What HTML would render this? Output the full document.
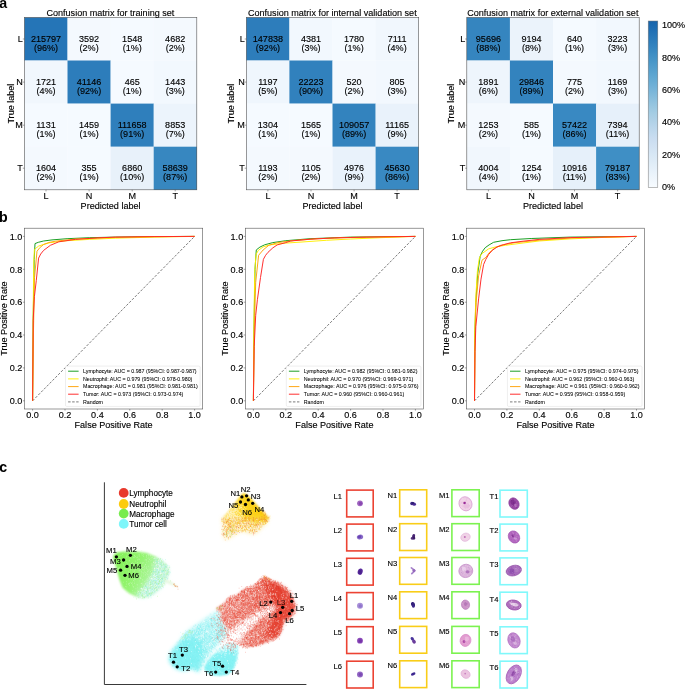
<!DOCTYPE html>
<html lang="en"><head><meta charset="utf-8"><title>Figure</title>
<style>
html,body{margin:0;padding:0;background:#fff;}
body{width:685px;height:689px;overflow:hidden;}
svg{display:block;font-family:'Liberation Sans', Arial, sans-serif;}
text{stroke:#000;stroke-width:.13px;}
.lg text{stroke-width:.05px;}
.nb text{stroke:none;}
</style></head><body>
<svg width="685" height="689" viewBox="0 0 685 689">
<rect width="685" height="689" fill="#fff"/>
<g id="panel-a" font-size="9.07" fill="#000">
<g>
<rect x="24.40" y="17.40" width="43.25" height="43.25" fill="#2575b7"/>
<rect x="67.50" y="17.40" width="43.25" height="43.25" fill="#f4f9fe"/>
<rect x="110.60" y="17.40" width="43.25" height="43.25" fill="#f5faff"/>
<rect x="153.70" y="17.40" width="43.25" height="43.25" fill="#f4f9fe"/>
<rect x="24.40" y="60.50" width="43.25" height="43.25" fill="#f1f7fd"/>
<rect x="67.50" y="60.50" width="43.25" height="43.25" fill="#2d7dbb"/>
<rect x="110.60" y="60.50" width="43.25" height="43.25" fill="#f5faff"/>
<rect x="153.70" y="60.50" width="43.25" height="43.25" fill="#f2f8fe"/>
<rect x="24.40" y="103.60" width="43.25" height="43.25" fill="#f5faff"/>
<rect x="67.50" y="103.60" width="43.25" height="43.25" fill="#f5faff"/>
<rect x="110.60" y="103.60" width="43.25" height="43.25" fill="#2f7fbc"/>
<rect x="153.70" y="103.60" width="43.25" height="43.25" fill="#ecf4fc"/>
<rect x="24.40" y="146.70" width="43.25" height="43.25" fill="#f4f9fe"/>
<rect x="67.50" y="146.70" width="43.25" height="43.25" fill="#f5faff"/>
<rect x="110.60" y="146.70" width="43.25" height="43.25" fill="#e8f1fa"/>
<rect x="153.70" y="146.70" width="43.25" height="43.25" fill="#3787c0"/>
<rect x="24.40" y="17.40" width="172.40" height="172.40" fill="none" stroke="#555" stroke-width="0.6"/>
<g text-anchor="middle">
<text x="46.0" y="42.0">215797</text><text x="46.0" y="50.6">(96%)</text>
<text x="89.1" y="42.0">3592</text><text x="89.1" y="50.6">(2%)</text>
<text x="132.2" y="42.0">1548</text><text x="132.2" y="50.6">(1%)</text>
<text x="175.2" y="42.0">4682</text><text x="175.2" y="50.6">(2%)</text>
<text x="46.0" y="85.1">1721</text><text x="46.0" y="93.7">(4%)</text>
<text x="89.1" y="85.1">41146</text><text x="89.1" y="93.7">(92%)</text>
<text x="132.2" y="85.1">465</text><text x="132.2" y="93.7">(1%)</text>
<text x="175.2" y="85.1">1443</text><text x="175.2" y="93.7">(3%)</text>
<text x="46.0" y="128.2">1131</text><text x="46.0" y="136.8">(1%)</text>
<text x="89.1" y="128.2">1459</text><text x="89.1" y="136.8">(1%)</text>
<text x="132.2" y="128.2">111658</text><text x="132.2" y="136.8">(91%)</text>
<text x="175.2" y="128.2">8853</text><text x="175.2" y="136.8">(7%)</text>
<text x="46.0" y="171.2">1604</text><text x="46.0" y="179.8">(2%)</text>
<text x="89.1" y="171.2">355</text><text x="89.1" y="179.8">(1%)</text>
<text x="132.2" y="171.2">6860</text><text x="132.2" y="179.8">(10%)</text>
<text x="175.2" y="171.2">58639</text><text x="175.2" y="179.8">(87%)</text>
<text x="46.0" y="199.3">L</text>
<text x="89.1" y="199.3">N</text>
<text x="132.2" y="199.3">M</text>
<text x="175.2" y="199.3">T</text>
<text x="110.6" y="208.8">Predicted label</text>
<text x="110.4" y="15.8">Confusion matrix for training set</text>
<text transform="translate(13.5 103.6) rotate(-90)">True label</text>
</g>
<g text-anchor="end">
<text x="22.8" y="42.2">L</text>
<text x="22.8" y="85.3">N</text>
<text x="22.8" y="128.3">M</text>
<text x="22.8" y="171.4">T</text>
</g>
<path d="M24.4 39.0h-1.6M46.0 189.8v1.6M24.4 82.1h-1.6M89.1 189.8v1.6M24.4 125.2h-1.6M132.2 189.8v1.6M24.4 168.2h-1.6M175.2 189.8v1.6" stroke="#444" stroke-width="0.5" fill="none"/>
</g>
<g>
<rect x="246.30" y="17.40" width="43.25" height="43.25" fill="#2d7dbb"/>
<rect x="289.40" y="17.40" width="43.25" height="43.25" fill="#f2f8fe"/>
<rect x="332.50" y="17.40" width="43.25" height="43.25" fill="#f5faff"/>
<rect x="375.60" y="17.40" width="43.25" height="43.25" fill="#f1f7fd"/>
<rect x="246.30" y="60.50" width="43.25" height="43.25" fill="#eff6fd"/>
<rect x="289.40" y="60.50" width="43.25" height="43.25" fill="#3181bd"/>
<rect x="332.50" y="60.50" width="43.25" height="43.25" fill="#f4f9fe"/>
<rect x="375.60" y="60.50" width="43.25" height="43.25" fill="#f2f8fe"/>
<rect x="246.30" y="103.60" width="43.25" height="43.25" fill="#f5faff"/>
<rect x="289.40" y="103.60" width="43.25" height="43.25" fill="#f5faff"/>
<rect x="332.50" y="103.60" width="43.25" height="43.25" fill="#3383be"/>
<rect x="375.60" y="103.60" width="43.25" height="43.25" fill="#e9f2fb"/>
<rect x="246.30" y="146.70" width="43.25" height="43.25" fill="#f4f9fe"/>
<rect x="289.40" y="146.70" width="43.25" height="43.25" fill="#f4f9fe"/>
<rect x="332.50" y="146.70" width="43.25" height="43.25" fill="#e9f2fb"/>
<rect x="375.60" y="146.70" width="43.25" height="43.25" fill="#3989c2"/>
<rect x="246.30" y="17.40" width="172.40" height="172.40" fill="none" stroke="#555" stroke-width="0.6"/>
<g text-anchor="middle">
<text x="267.9" y="42.0">147838</text><text x="267.9" y="50.6">(92%)</text>
<text x="311.0" y="42.0">4381</text><text x="311.0" y="50.6">(3%)</text>
<text x="354.1" y="42.0">1780</text><text x="354.1" y="50.6">(1%)</text>
<text x="397.1" y="42.0">7111</text><text x="397.1" y="50.6">(4%)</text>
<text x="267.9" y="85.1">1197</text><text x="267.9" y="93.7">(5%)</text>
<text x="311.0" y="85.1">22223</text><text x="311.0" y="93.7">(90%)</text>
<text x="354.1" y="85.1">520</text><text x="354.1" y="93.7">(2%)</text>
<text x="397.1" y="85.1">805</text><text x="397.1" y="93.7">(3%)</text>
<text x="267.9" y="128.2">1304</text><text x="267.9" y="136.8">(1%)</text>
<text x="311.0" y="128.2">1565</text><text x="311.0" y="136.8">(1%)</text>
<text x="354.1" y="128.2">109057</text><text x="354.1" y="136.8">(89%)</text>
<text x="397.1" y="128.2">11165</text><text x="397.1" y="136.8">(9%)</text>
<text x="267.9" y="171.2">1193</text><text x="267.9" y="179.8">(2%)</text>
<text x="311.0" y="171.2">1105</text><text x="311.0" y="179.8">(2%)</text>
<text x="354.1" y="171.2">4976</text><text x="354.1" y="179.8">(9%)</text>
<text x="397.1" y="171.2">45630</text><text x="397.1" y="179.8">(86%)</text>
<text x="267.9" y="199.3">L</text>
<text x="311.0" y="199.3">N</text>
<text x="354.1" y="199.3">M</text>
<text x="397.1" y="199.3">T</text>
<text x="332.5" y="208.8">Predicted label</text>
<text x="332.3" y="15.8">Confusion matrix for internal validation set</text>
<text transform="translate(234.1 103.6) rotate(-90)">True label</text>
</g>
<g text-anchor="end">
<text x="244.7" y="42.2">L</text>
<text x="244.7" y="85.3">N</text>
<text x="244.7" y="128.3">M</text>
<text x="244.7" y="171.4">T</text>
</g>
<path d="M246.3 39.0h-1.6M267.9 189.8v1.6M246.3 82.1h-1.6M311.0 189.8v1.6M246.3 125.2h-1.6M354.1 189.8v1.6M246.3 168.2h-1.6M397.1 189.8v1.6" stroke="#444" stroke-width="0.5" fill="none"/>
</g>
<g>
<rect x="466.80" y="17.40" width="43.25" height="43.25" fill="#3585bf"/>
<rect x="509.90" y="17.40" width="43.25" height="43.25" fill="#ebf3fb"/>
<rect x="553.00" y="17.40" width="43.25" height="43.25" fill="#f5faff"/>
<rect x="596.10" y="17.40" width="43.25" height="43.25" fill="#f2f8fe"/>
<rect x="466.80" y="60.50" width="43.25" height="43.25" fill="#eef5fc"/>
<rect x="509.90" y="60.50" width="43.25" height="43.25" fill="#3383be"/>
<rect x="553.00" y="60.50" width="43.25" height="43.25" fill="#f4f9fe"/>
<rect x="596.10" y="60.50" width="43.25" height="43.25" fill="#f2f8fe"/>
<rect x="466.80" y="103.60" width="43.25" height="43.25" fill="#f4f9fe"/>
<rect x="509.90" y="103.60" width="43.25" height="43.25" fill="#f5faff"/>
<rect x="553.00" y="103.60" width="43.25" height="43.25" fill="#3989c2"/>
<rect x="596.10" y="103.60" width="43.25" height="43.25" fill="#e6f0fa"/>
<rect x="466.80" y="146.70" width="43.25" height="43.25" fill="#f1f7fd"/>
<rect x="509.90" y="146.70" width="43.25" height="43.25" fill="#f5faff"/>
<rect x="553.00" y="146.70" width="43.25" height="43.25" fill="#e6f0fa"/>
<rect x="596.10" y="146.70" width="43.25" height="43.25" fill="#3f8fc5"/>
<rect x="466.80" y="17.40" width="172.40" height="172.40" fill="none" stroke="#555" stroke-width="0.6"/>
<g text-anchor="middle">
<text x="488.4" y="42.0">95696</text><text x="488.4" y="50.6">(88%)</text>
<text x="531.5" y="42.0">9194</text><text x="531.5" y="50.6">(8%)</text>
<text x="574.5" y="42.0">640</text><text x="574.5" y="50.6">(1%)</text>
<text x="617.6" y="42.0">3223</text><text x="617.6" y="50.6">(3%)</text>
<text x="488.4" y="85.1">1891</text><text x="488.4" y="93.7">(6%)</text>
<text x="531.5" y="85.1">29846</text><text x="531.5" y="93.7">(89%)</text>
<text x="574.5" y="85.1">775</text><text x="574.5" y="93.7">(2%)</text>
<text x="617.6" y="85.1">1169</text><text x="617.6" y="93.7">(3%)</text>
<text x="488.4" y="128.2">1253</text><text x="488.4" y="136.8">(2%)</text>
<text x="531.5" y="128.2">585</text><text x="531.5" y="136.8">(1%)</text>
<text x="574.5" y="128.2">57422</text><text x="574.5" y="136.8">(86%)</text>
<text x="617.6" y="128.2">7394</text><text x="617.6" y="136.8">(11%)</text>
<text x="488.4" y="171.2">4004</text><text x="488.4" y="179.8">(4%)</text>
<text x="531.5" y="171.2">1254</text><text x="531.5" y="179.8">(1%)</text>
<text x="574.5" y="171.2">10916</text><text x="574.5" y="179.8">(11%)</text>
<text x="617.6" y="171.2">79187</text><text x="617.6" y="179.8">(83%)</text>
<text x="488.4" y="199.3">L</text>
<text x="531.5" y="199.3">N</text>
<text x="574.5" y="199.3">M</text>
<text x="617.6" y="199.3">T</text>
<text x="553.0" y="208.8">Predicted label</text>
<text x="552.8" y="15.8">Confusion matrix for external validation set</text>
<text transform="translate(454.0 103.6) rotate(-90)">True label</text>
</g>
<g text-anchor="end">
<text x="465.2" y="42.2">L</text>
<text x="465.2" y="85.3">N</text>
<text x="465.2" y="128.3">M</text>
<text x="465.2" y="171.4">T</text>
</g>
<path d="M466.8 39.0h-1.6M488.4 189.8v1.6M466.8 82.1h-1.6M531.5 189.8v1.6M466.8 125.2h-1.6M574.5 189.8v1.6M466.8 168.2h-1.6M617.6 189.8v1.6" stroke="#444" stroke-width="0.5" fill="none"/>
</g>
<defs><linearGradient id="cb" x1="0" y1="1" x2="0" y2="0">
<stop offset="0.00" stop-color="#f7fbff"/>
<stop offset="0.05" stop-color="#eff6fc"/>
<stop offset="0.10" stop-color="#e7f1fa"/>
<stop offset="0.15" stop-color="#dfecf7"/>
<stop offset="0.20" stop-color="#d7e7f5"/>
<stop offset="0.25" stop-color="#d0e1f2"/>
<stop offset="0.30" stop-color="#c8dcf0"/>
<stop offset="0.35" stop-color="#bcd7ec"/>
<stop offset="0.40" stop-color="#b0d1e7"/>
<stop offset="0.45" stop-color="#a3cce3"/>
<stop offset="0.50" stop-color="#94c4df"/>
<stop offset="0.55" stop-color="#83bbdb"/>
<stop offset="0.60" stop-color="#73b2d8"/>
<stop offset="0.65" stop-color="#64aad3"/>
<stop offset="0.70" stop-color="#57a1ce"/>
<stop offset="0.75" stop-color="#4a98c9"/>
<stop offset="0.80" stop-color="#3e8ec4"/>
<stop offset="0.85" stop-color="#3383bf"/>
<stop offset="0.90" stop-color="#2979b9"/>
<stop offset="0.95" stop-color="#1f6eb3"/>
<stop offset="1.00" stop-color="#1764ab"/>
</linearGradient></defs>
<rect x="648.2" y="21" width="9.6" height="166.3" fill="url(#cb)" stroke="#777" stroke-width="0.5"/>
<text x="662" y="190.1">0%</text>
<text x="662" y="157.7">20%</text>
<text x="662" y="125.3">40%</text>
<text x="662" y="92.9">60%</text>
<text x="662" y="60.5">80%</text>
<text x="662" y="28.1">100%</text>
</g>
<g id="panel-b" font-size="9.07" fill="#000">
<g>
<rect x="24.5" y="228.2" width="178.2" height="180.8" fill="#fff" stroke="#555" stroke-width="0.6"/>
<path d="M32.6 400.8L194.6 236.4" stroke="#747474" stroke-width="0.95" stroke-dasharray="2.5 1.55" fill="none"/>
<path d="M32.6 400.8L33.2 318.6L34.2 259.4L35.0 243.6L38.3 242.3L43.6 241.0L52.0 239.9L67.1 238.7L89.3 237.7L115.2 237.1L154.1 236.6L194.6 236.4" stroke="#0f9a18" stroke-width="0.95" fill="none" stroke-linejoin="round"/>
<path d="M32.6 400.8L33.1 318.6L33.7 266.0L34.4 249.4L38.6 246.1L43.9 244.3L50.4 242.6L67.1 240.7L89.3 239.4L115.2 238.2L154.1 237.1L194.6 236.4" stroke="#ffee00" stroke-width="0.95" fill="none" stroke-linejoin="round"/>
<path d="M32.6 400.8L33.4 335.0L34.5 277.5L37.0 251.2L39.9 247.6L43.6 244.5L48.8 242.5L55.4 241.2L75.5 239.0L115.2 237.4L154.1 236.7L194.6 236.4" stroke="#ffa208" stroke-width="0.95" fill="none" stroke-linejoin="round"/>
<path d="M32.6 400.8L33.2 320.2L34.4 296.6L36.3 280.3L38.6 258.1L40.7 254.0L43.6 250.4L50.4 245.3L58.8 241.8L75.5 239.4L97.4 237.9L115.2 237.1L154.1 236.6L194.6 236.4" stroke="#ff2424" stroke-width="0.95" fill="none" stroke-linejoin="round"/>
<path d="M32.6 409.0v1.6M24.5 400.8h-1.6M65.0 409.0v1.6M24.5 367.9h-1.6M97.4 409.0v1.6M24.5 335.0h-1.6M129.8 409.0v1.6M24.5 302.2h-1.6M162.2 409.0v1.6M24.5 269.3h-1.6M194.6 409.0v1.6M24.5 236.4h-1.6" stroke="#444" stroke-width="0.5" fill="none"/>
<g text-anchor="middle">
<text x="32.6" y="418.3">0.0</text>
<text x="65.0" y="418.3">0.2</text>
<text x="97.4" y="418.3">0.4</text>
<text x="129.8" y="418.3">0.6</text>
<text x="162.2" y="418.3">0.8</text>
<text x="194.6" y="418.3">1.0</text>
<text x="113.6" y="428.2">False Positive Rate</text>
<text transform="translate(6.9 318.6) rotate(-90)">True Positive Rate</text>
</g>
<g text-anchor="end">
<text x="22.4" y="404.1">0.0</text>
<text x="22.4" y="371.2">0.2</text>
<text x="22.4" y="338.3">0.4</text>
<text x="22.4" y="305.4">0.6</text>
<text x="22.4" y="272.5">0.8</text>
<text x="22.4" y="239.7">1.0</text>
</g>
<rect x="65.5" y="366.1" width="134.6" height="40.3" rx="1.2" fill="#fff" fill-opacity="0.8" stroke="#ddd" stroke-width="0.5"/>
<g class="lg" font-size="5.31" fill="#000">
<path d="M68.1 371.2h10.5" stroke="#0f9a18" stroke-width="0.95"/>
<text x="83.0" y="373.0">Lymphocyte: AUC = 0.987 (95%CI: 0.987-0.987)</text>
<path d="M68.1 378.9h10.5" stroke="#ffee00" stroke-width="0.95"/>
<text x="83.0" y="380.7">Neutrophil: AUC = 0.979 (95%CI: 0.978-0.980)</text>
<path d="M68.1 386.6h10.5" stroke="#ffa208" stroke-width="0.95"/>
<text x="83.0" y="388.4">Macrophage: AUC = 0.981 (95%CI: 0.981-0.981)</text>
<path d="M68.1 394.2h10.5" stroke="#ff2424" stroke-width="0.95"/>
<text x="83.0" y="396.0">Tumor: AUC = 0.973 (95%CI: 0.973-0.974)</text>
<path d="M68.1 401.9h10.5" stroke="#747474" stroke-width="0.95" stroke-dasharray="2.5 1.55"/>
<text x="83.0" y="403.7">Random</text>
</g>
</g>
<g>
<rect x="245.3" y="228.2" width="178.2" height="180.8" fill="#fff" stroke="#555" stroke-width="0.6"/>
<path d="M253.4 400.8L415.4 236.4" stroke="#747474" stroke-width="0.95" stroke-dasharray="2.5 1.55" fill="none"/>
<path d="M253.4 400.8L254.0 326.8L255.0 269.3L256.3 249.9L259.9 247.1L264.7 244.8L272.8 242.6L285.8 240.7L310.1 238.7L350.6 237.1L415.4 236.4" stroke="#0f9a18" stroke-width="0.95" fill="none" stroke-linejoin="round"/>
<path d="M253.4 400.8L253.9 326.8L254.7 272.6L256.0 254.5L258.3 250.4L263.1 246.9L269.6 244.9L285.8 243.1L302.0 242.0L326.3 240.3L350.6 239.0L383.0 237.6L415.4 236.4" stroke="#ffee00" stroke-width="0.95" fill="none" stroke-linejoin="round"/>
<path d="M253.4 400.8L254.2 335.0L255.7 282.4L258.6 255.3L263.1 250.0L268.8 245.3L277.7 242.6L293.9 240.5L318.2 238.7L350.6 237.4L415.4 236.4" stroke="#ffa208" stroke-width="0.95" fill="none" stroke-linejoin="round"/>
<path d="M253.4 400.8L254.2 346.5L255.7 315.3L257.4 299.7L260.5 277.5L263.4 259.3L265.6 255.3L268.0 252.3L272.8 247.9L277.2 244.9L285.8 242.6L290.7 241.0L310.1 239.2L334.4 237.9L366.8 237.1L415.4 236.4" stroke="#ff2424" stroke-width="0.95" fill="none" stroke-linejoin="round"/>
<path d="M253.4 409.0v1.6M245.3 400.8h-1.6M285.8 409.0v1.6M245.3 367.9h-1.6M318.2 409.0v1.6M245.3 335.0h-1.6M350.6 409.0v1.6M245.3 302.2h-1.6M383.0 409.0v1.6M245.3 269.3h-1.6M415.4 409.0v1.6M245.3 236.4h-1.6" stroke="#444" stroke-width="0.5" fill="none"/>
<g text-anchor="middle">
<text x="253.4" y="418.3">0.0</text>
<text x="285.8" y="418.3">0.2</text>
<text x="318.2" y="418.3">0.4</text>
<text x="350.6" y="418.3">0.6</text>
<text x="383.0" y="418.3">0.8</text>
<text x="415.4" y="418.3">1.0</text>
<text x="334.4" y="428.2">False Positive Rate</text>
<text transform="translate(227.7 318.6) rotate(-90)">True Positive Rate</text>
</g>
<g text-anchor="end">
<text x="243.2" y="404.1">0.0</text>
<text x="243.2" y="371.2">0.2</text>
<text x="243.2" y="338.3">0.4</text>
<text x="243.2" y="305.4">0.6</text>
<text x="243.2" y="272.5">0.8</text>
<text x="243.2" y="239.7">1.0</text>
</g>
<rect x="286.3" y="366.1" width="134.6" height="40.3" rx="1.2" fill="#fff" fill-opacity="0.8" stroke="#ddd" stroke-width="0.5"/>
<g class="lg" font-size="5.31" fill="#000">
<path d="M288.9 371.2h10.5" stroke="#0f9a18" stroke-width="0.95"/>
<text x="303.8" y="373.0">Lymphocyte: AUC = 0.982 (95%CI: 0.981-0.982)</text>
<path d="M288.9 378.9h10.5" stroke="#ffee00" stroke-width="0.95"/>
<text x="303.8" y="380.7">Neutrophil: AUC = 0.970 (95%CI: 0.969-0.971)</text>
<path d="M288.9 386.6h10.5" stroke="#ffa208" stroke-width="0.95"/>
<text x="303.8" y="388.4">Macrophage: AUC = 0.976 (95%CI: 0.975-0.976)</text>
<path d="M288.9 394.2h10.5" stroke="#ff2424" stroke-width="0.95"/>
<text x="303.8" y="396.0">Tumor: AUC = 0.960 (95%CI: 0.960-0.961)</text>
<path d="M288.9 401.9h10.5" stroke="#747474" stroke-width="0.95" stroke-dasharray="2.5 1.55"/>
<text x="303.8" y="403.7">Random</text>
</g>
</g>
<g>
<rect x="466.4" y="228.2" width="178.2" height="180.8" fill="#fff" stroke="#555" stroke-width="0.6"/>
<path d="M474.5 400.8L636.5 236.4" stroke="#747474" stroke-width="0.95" stroke-dasharray="2.5 1.55" fill="none"/>
<path d="M474.5 400.8L474.8 335.0L475.8 302.2L477.7 273.7L480.2 256.1L482.6 251.2L485.2 247.7L489.1 244.9L493.6 242.3L502.0 240.7L510.5 239.7L531.2 238.5L570.1 237.1L636.5 236.4" stroke="#0f9a18" stroke-width="0.95" fill="none" stroke-linejoin="round"/>
<path d="M474.5 400.8L474.8 331.8L475.8 297.2L477.4 270.9L479.4 257.8L481.8 253.7L488.6 248.9L495.6 246.9L505.4 245.3L523.1 243.0L539.0 241.0L570.1 238.9L604.1 237.4L636.5 236.4" stroke="#ffee00" stroke-width="0.95" fill="none" stroke-linejoin="round"/>
<path d="M474.5 400.8L475.0 338.3L476.1 302.2L478.6 275.9L482.0 260.2L486.0 257.3L489.1 252.8L493.6 248.9L500.4 245.4L515.0 242.6L539.3 240.2L571.7 238.0L636.5 236.4" stroke="#ffa208" stroke-width="0.95" fill="none" stroke-linejoin="round"/>
<path d="M474.5 400.8L475.0 351.5L475.8 326.8L478.6 298.9L481.0 279.1L483.6 264.5L485.8 259.4L488.6 254.5L492.3 250.4L497.0 246.9L503.7 244.6L510.5 242.8L523.1 241.2L539.0 239.4L570.1 237.6L636.5 236.4" stroke="#ff2424" stroke-width="0.95" fill="none" stroke-linejoin="round"/>
<path d="M474.5 409.0v1.6M466.4 400.8h-1.6M506.9 409.0v1.6M466.4 367.9h-1.6M539.3 409.0v1.6M466.4 335.0h-1.6M571.7 409.0v1.6M466.4 302.2h-1.6M604.1 409.0v1.6M466.4 269.3h-1.6M636.5 409.0v1.6M466.4 236.4h-1.6" stroke="#444" stroke-width="0.5" fill="none"/>
<g text-anchor="middle">
<text x="474.5" y="418.3">0.0</text>
<text x="506.9" y="418.3">0.2</text>
<text x="539.3" y="418.3">0.4</text>
<text x="571.7" y="418.3">0.6</text>
<text x="604.1" y="418.3">0.8</text>
<text x="636.5" y="418.3">1.0</text>
<text x="555.5" y="428.2">False Positive Rate</text>
<text transform="translate(448.8 318.6) rotate(-90)">True Positive Rate</text>
</g>
<g text-anchor="end">
<text x="464.3" y="404.1">0.0</text>
<text x="464.3" y="371.2">0.2</text>
<text x="464.3" y="338.3">0.4</text>
<text x="464.3" y="305.4">0.6</text>
<text x="464.3" y="272.5">0.8</text>
<text x="464.3" y="239.7">1.0</text>
</g>
<rect x="507.4" y="366.1" width="134.6" height="40.3" rx="1.2" fill="#fff" fill-opacity="0.8" stroke="#ddd" stroke-width="0.5"/>
<g class="lg" font-size="5.31" fill="#000">
<path d="M510.0 371.2h10.5" stroke="#0f9a18" stroke-width="0.95"/>
<text x="524.9" y="373.0">Lymphocyte: AUC = 0.975 (95%CI: 0.974-0.975)</text>
<path d="M510.0 378.9h10.5" stroke="#ffee00" stroke-width="0.95"/>
<text x="524.9" y="380.7">Neutrophil: AUC = 0.962 (95%CI: 0.960-0.963)</text>
<path d="M510.0 386.6h10.5" stroke="#ffa208" stroke-width="0.95"/>
<text x="524.9" y="388.4">Macrophage: AUC = 0.961 (95%CI: 0.960-0.962)</text>
<path d="M510.0 394.2h10.5" stroke="#ff2424" stroke-width="0.95"/>
<text x="524.9" y="396.0">Tumor: AUC = 0.959 (95%CI: 0.958-0.959)</text>
<path d="M510.0 401.9h10.5" stroke="#747474" stroke-width="0.95" stroke-dasharray="2.5 1.55"/>
<text x="524.9" y="403.7">Random</text>
</g>
</g>
</g>
<g class="nb" font-size="14.2" font-weight="bold" fill="#000">
<text x="-0.7" y="7.85">a</text><text x="-0.9" y="222.05">b</text><text x="-0.7" y="472.05">c</text>
</g>
<defs><filter id="b1" x="-20%" y="-20%" width="140%" height="140%"><feGaussianBlur stdDeviation="1.1"/></filter>
<filter id="b2" x="-20%" y="-20%" width="140%" height="140%"><feGaussianBlur stdDeviation="2.2"/></filter>
<filter id="b3" x="-30%" y="-30%" width="160%" height="160%"><feGaussianBlur stdDeviation="3.5"/></filter></defs>
<g id="panel-c">
<defs><linearGradient id="gg" gradientUnits="userSpaceOnUse" x1="116" y1="560" x2="166" y2="585"><stop offset="0" stop-color="#84f258"/><stop offset="0.4" stop-color="#94f470"/><stop offset="0.7" stop-color="#aef59e"/><stop offset="1" stop-color="#bdf6cc"/></linearGradient></defs>
<g>
<polygon points="113.6,555.2 116.5,552.6 124.0,551.6 136.5,551.4 147.0,553.0 156.0,556.8 163.0,562.3 167.5,567.0 168.8,571.5 167.2,577.0 164.5,581.5 161.0,587.0 155.0,592.5 149.0,596.0 143.0,597.4 136.0,596.4 129.0,593.2 122.5,587.7 119.5,580.0 117.3,572.0 114.8,563.0 113.2,558.0" fill="url(#gg)" filter="url(#b1)"/>
<polygon points="155.5,557.5 163.0,562.5 167.5,567.0 168.6,571.5 167.0,577.0 164.5,581.5 161.0,587.0 155.0,592.5 149.0,596.0 143.0,597.3 136.5,596.4 141.5,590.0 147.5,583.0 152.5,575.0 155.0,566.0" fill="#c9f7ec" filter="url(#b2)" opacity="0.92"/>
<polygon points="164.0,578.5 170.0,581.0 176.0,585.0 178.3,587.6 173.0,585.6 166.0,582.5 163.0,581.0" fill="#e4f7dc" filter="url(#b1)" opacity="0.9"/>
<path transform="scale(.1)" d="M0 0m1544 5592h6m15 -3h6m31 -2h6m13 7h6m-81 5h6m5 23h6m-2 -7h6m-1 -14h6m-5 16h6m1 1h6m-4 0h6m5 -16h6m5 3h6m-2 9h6m-4 -15h6m17 18h6m-6 -12h6m20 -9h6m-109 41h6m11 11h6m-1 7h6m2 -21h6m2 10h6m0 9h6m-5 -12h6m-6 -10h6m1 5h6m-4 15h6m-3 2h6m-6 -9h6m-2 -1h6m-6 4h6m-5 -15h6m-5 10h6m-4 -4h6m-2 -10h6m11 24h6m-3 -6h6m11 -6h6m5 14h6m-4 -1h6m-147 10h6m11 9h6m0 -16h6m-5 5h6m0 1h6m-4 -6h6m-4 11h6m-4 3h6m1 -3h6m-1 -9h6m-3 6h6m4 -8h6m-6 26h6m-1 0h6m-6 -25h6m2 3h6m-1 22h6m1 -5h6m-6 -12h6m-3 9h6m-5 -9h6m-2 -10h6m-5 21h6m-4 -7h6m0 -9h6m-2 17h6m-3 -3h6m-6 2h6m2 -14h6m-1 3h6m-6 -9h6m-4 14h6m-6 12h6m-3 -6h6m-5 0h6m-4 -10h6m-2 2h6m18 -11h6m0 19h6m-162 39h6m6 0h6m-1 -25h6m0 15h6m-2 -11h6m-1 14h6m-4 -13h6m-3 0h6m-3 9h6m4 6h6m-1 -15h6m1 16h6m-6 -9h6m-3 9h6m5 -9h6m-3 2h6m-5 11h6m0 -29h6m-6 15h6m-4 12h6m-4 -8h6m-3 -1h6m0 -17h6m1 20h6m-6 -17h6m-2 6h6m-4 -5h6m-1 8h6m-6 4h6m-4 5h6m8 -12h6m-5 11h6m0 -6h6m-160 36h6m2 -13h6m-6 -7h6m-3 -1h6m-6 27h6m5 -3h6m-3 -23h6m4 4h6m-1 -3h6m-2 -3h6m-4 1h6m-3 27h6m-4 -4h6m-6 0h6m-4 -3h6m1 -10h6m-6 5h6m4 -3h6m8 10h6m2 -23h6m4 3h6m-5 13h6m-3 -15h6m-5 19h6m1 -19h6m-5 19h6m-5 4h6m-1 -7h6m-5 1h6m-4 -9h6m4 -5h6m0 9h6m5 15h6m2 -20h6m-1 -2h6m-6 19h6m3 -11h6m-3 -7h6m-207 47h6m12 -19h6m0 9h6m-4 6h6m4 -14h6m-2 2h6m-5 9h6m-6 -5h6m1 -8h6m-3 20h6m-1 -18h6m-5 4h6m-2 9h6m-3 -16h6m-5 21h6m-2 -3h6m9 8h6m6 -24h6m1 -1h6m-6 21h6m-2 -6h6m-4 0h6m12 6h6m1 -7h6m-2 -15h6m2 27h6m-2 -27h6m8 18h6m-5 0h6m-4 -17h6m-6 1h6m-6 24h6m9 -23h6m-213 54h6m17 -3h6m7 -10h6m12 7h6m-5 -19h6m-5 6h6m-3 8h6m-3 -7h6m-2 -5h6m-4 10h6m-3 -4h6m-5 -10h6m-5 10h6m4 -13h6m-5 11h6m-5 0h6m2 16h6m-4 -20h6m-1 16h6m4 -1h6m-2 -15h6m0 2h6m-2 17h6m3 -23h6m-4 6h6m4 8h6m-4 -3h6m-6 0h6m-2 5h6m-6 3h6m13 4h6m-4 -14h6m3 -1h6m2 4h6m4 -1h6m-5 -3h6m-195 42h6m-5 -20h6m-5 15h6m-1 3h6m-5 2h6m-5 -7h6m-2 6h6m-2 -3h6m0 -1h6m0 -16h6m3 9h6m-2 -6h6m0 3h6m3 -3h6m-6 24h6m-5 -28h6m-5 26h6m-1 -9h6m-2 -18h6m-5 26h6m-2 1h6m-3 1h6m-5 -15h6m-4 10h6m-3 3h6m-5 -21h6m-5 16h6m5 -12h6m0 20h6m-5 -29h6m-6 8h6m-5 2h6m-2 16h6m-3 1h6m-5 -22h6m-4 13h6m-2 -1h6m-5 1h6m0 -15h6m-1 3h6m-6 16h6m-6 -1h6m-6 -13h6m-1 11h6m-4 -6h6m3 1h6m-5 -5h6m1 4h6m-198 42h6m-2 1h6m1 -25h6m-3 27h6m5 -25h6m-6 5h6m7 20h6m-2 -20h6m-1 3h6m-4 5h6m6 -9h6m-4 20h6m2 1h6m-1 0h6m-3 1h6m-4 -18h6m-3 14h6m3 -13h6m1 -2h6m-1 17h6m-5 -13h6m-2 1h6m-3 -2h6m-3 -10h6m-4 -2h6m-4 26h6m-6 -7h6m-1 5h6m-4 -22h6m-6 14h6m5 8h6m-4 -15h6m0 11h6m3 8h6m-2 -9h6m2 -18h6m9 21h6m-226 27h6m6 8h6m5 -25h6m5 9h6m5 -8h6m-3 -2h6m-6 18h6m-1 -3h6m-5 -7h6m-1 7h6m14 -3h6m0 9h6m10 5h6m-4 -8h6m-3 0h6m2 7h6m1 -21h6m-4 5h6m-5 -2h6m-4 2h6m-1 14h6m5 -14h6m1 1h6m-6 -1h6m-4 -3h6m-4 5h6m-3 -1h6m5 13h6m0 -10h6m-4 0h6m-1 -12h6m-5 4h6m10 4h6m0 11h6m5 -14h6m5 1h6m-226 50h6m6 -3h6m-4 -20h6m11 -1h6m-2 7h6m-5 13h6m1 -8h6m3 7h6m-4 4h6m-4 -22h6m-1 4h6m-5 -6h6m-4 17h6m-5 -18h6m-4 9h6m-5 6h6m-5 4h6m-1 8h6m-4 -26h6m-2 -1h6m4 3h6m-3 9h6m-5 3h6m-2 5h6m-1 -19h6m-3 10h6m-4 -14h6m-5 21h6m-2 -3h6m-1 -6h6m6 13h6m-5 1h6m-2 -24h6m3 13h6m0 -5h6m-3 5h6m4 -7h6m-217 36h6m11 8h6m5 -12h6m-1 -10h6m3 19h6m-1 5h6m7 -15h6m-2 5h6m1 -8h6m5 4h6m-4 5h6m2 -13h6m0 4h6m-6 3h6m1 2h6m-5 17h6m-6 -17h6m-4 -10h6m-2 13h6m-1 3h6m-5 13h6m-3 -22h6m2 14h6m2 5h6m-2 -20h6m-6 8h6m-5 12h6m-3 -19h6m1 7h6m-4 3h6m-2 -8h6m5 12h6m-122 12h6m20 21h6m0 -18h6m15 -1h6m-4 -4h6m-5 -2h6m1 17h6m13 -15h6m2 1h6m-5 21h6" stroke="#8ef0e6" stroke-width="6" fill="none" opacity="0.80"/>
<path transform="scale(.1)" d="M0 0m1536 5586h7m0 -5h7m6 6h7m-31 35h7m15 2h7m13 -16h7m-5 -4h7m-3 2h7m-6 18h7m-5 -23h7m8 5h7m-5 7h7m-1 -4h7m5 -9h7m-6 8h7m-94 17h7m9 12h7m5 17h7m-6 -10h7m-7 7h7m-5 2h7m-2 -5h7m4 -21h7m-6 16h7m1 0h7m12 -1h7m3 5h7m-4 -13h7m-7 19h7m-87 30h7m-2 -3h7m1 -16h7m-5 12h7m-5 -19h7m0 26h7m-1 -21h7m-2 -7h7m-7 29h7m-6 -15h7m-2 3h7m-4 12h7m-3 -28h7m-3 10h7m-6 -11h7m-3 27h7m-7 -22h7m-4 1h7m-6 15h7m-7 -19h7m9 10h7m-1 12h7m-5 -13h7m3 6h7m-7 -12h7m25 2h7m-6 19h7m5 -19h7m-146 45h7m-6 -19h7m-6 1h7m18 24h7m2 -25h7m-3 14h7m-5 -9h7m11 10h7m-4 5h7m-3 -21h7m-6 5h7m7 7h7m-7 -10h7m-2 1h7m11 0h7m-3 2h7m-1 13h7m-5 -16h7m-4 -3h7m-2 8h7m2 -2h7m9 11h7m-184 33h7m7 -11h7m1 15h7m1 0h7m12 -7h7m16 -1h7m5 -9h7m-4 10h7m-5 -18h7m-7 17h7m-5 12h7m-7 -6h7m-7 -4h7m-6 -2h7m3 1h7m-3 3h7m0 -6h7m3 -3h7m-1 8h7m0 2h7m-7 -18h7m-2 4h7m-7 3h7m-5 8h7m-7 -18h7m-1 27h7m6 -13h7m4 6h7m0 -13h7m-201 44h7m9 -16h7m4 13h7m-1 -2h7m-7 12h7m-7 -18h7m-3 -1h7m-6 5h7m-2 -15h7m-7 24h7m-6 -20h7m-5 15h7m-5 8h7m-6 -3h7m-6 5h7m-2 -3h7m-7 -23h7m-3 7h7m0 -2h7m32 15h7m-6 -19h7m0 12h7m-1 -13h7m24 3h7m0 14h7m3 -1h7m-5 -6h7m-185 22h7m1 9h7m3 -2h7m-4 -3h7m-6 6h7m-4 -7h7m-4 3h7m-1 4h7m-7 9h7m1 -6h7m-2 -7h7m-3 -4h7m-4 13h7m-5 -6h7m-5 -4h7m7 9h7m-3 -17h7m-5 1h7m-2 18h7m-6 -4h7m11 9h7m-6 3h7m3 -18h7m-6 -3h7m1 -5h7m-6 21h7m16 -2h7m-1 -13h7m-5 4h7m-6 -6h7m2 2h7m-6 -1h7m-2 9h7m-201 37h7m18 -3h7m-5 -10h7m-7 17h7m-5 -9h7m-3 -6h7m-4 -9h7m26 11h7m5 2h7m10 1h7m-2 -4h7m-7 -8h7m5 -3h7m-2 2h7m2 7h7m-6 -7h7m-7 17h7m-1 -13h7m-3 -5h7m-6 -1h7m-6 0h7m4 18h7m4 -8h7m-198 43h7m6 -22h7m9 20h7m0 -16h7m9 -4h7m-5 22h7m-7 -6h7m-7 -19h7m-5 13h7m-7 8h7m-2 1h7m-1 -4h7m-6 9h7m-4 -4h7m-5 -6h7m3 4h7m10 -10h7m-6 5h7m1 -9h7m-7 21h7m-6 -20h7m-1 15h7m-2 -4h7m-4 6h7m0 0h7m0 -8h7m-5 -11h7m-4 17h7m-3 -19h7m-2 9h7m-3 8h7m-1 1h7m-7 -6h7m-5 -16h7m8 1h7m-4 19h7m-5 -16h7m-5 -5h7m-3 9h7m-230 41h7m-6 2h7m-2 -5h7m-5 3h7m-2 9h7m-1 -7h7m-4 3h7m-3 3h7m-4 -18h7m0 19h7m-1 -3h7m-2 -17h7m0 15h7m11 5h7m-6 1h7m4 -5h7m-5 2h7m-1 -22h7m0 24h7m0 -7h7m7 -14h7m-1 17h7m0 -11h7m-4 -3h7m-1 17h7m-5 -26h7m-7 23h7m-2 0h7m0 0h7m-6 -25h7m-5 14h7m-4 -1h7m-1 3h7m-1 12h7m-2 -5h7m2 -16h7m11 1h7m0 -1h7m-6 1h7m-3 -7h7m-257 56h7m1 -8h7m16 2h7m-5 4h7m-5 -20h7m0 -1h7m2 12h7m-3 9h7m5 -7h7m-5 4h7m-3 -13h7m-5 18h7m-3 -23h7m-7 -2h7m-1 10h7m-5 -9h7m0 21h7m0 -16h7m-6 15h7m4 -9h7m-5 3h7m-7 -12h7m-5 -2h7m-5 22h7m-4 -3h7m-4 -7h7m3 -1h7m-6 10h7m3 -16h7m-3 9h7m-2 2h7m10 -6h7m-5 -8h7m0 20h7m-3 -5h7m-6 -9h7m18 16h7m-218 19h7m7 -3h7m2 -7h7m-3 19h7m7 -11h7m-1 -12h7m-5 18h7m2 -2h7m-5 -7h7m-2 -8h7m-1 13h7m-2 12h7m-7 -8h7m12 -10h7m1 -8h7m4 19h7m-7 2h7m-3 5h7m18 -21h7m-6 8h7m5 4h7m-1 -18h7m-149 33h7m4 5h7m-3 9h7m-3 0h7m-2 8h7m0 -25h7m3 0h7m-1 1h7m25 14h7m44 -10h7m-108 25h7" stroke="#ffffff" stroke-width="7" fill="none" opacity="0.90"/>
<path transform="scale(.1)" d="M0 0m1582 5587h6m15 1h6m-80 32h6m34 3h6m-5 -25h6m-2 9h6m-2 -5h6m29 5h6m-2 6h6m-84 35h6m4 -5h6m7 -6h6m-3 14h6m0 3h6m-1 -19h6m17 7h6m3 -14h6m-2 22h6m1 2h6m6 -11h6m20 4h6m-114 27h6m-5 -3h6m15 2h6m-1 -2h6m-5 -11h6m-4 11h6m15 11h6m2 -20h6m28 22h6m10 -14h6m31 3h6m-104 16h6m-4 14h6m14 -2h6m1 -13h6m-4 20h6m0 -4h6m1 -11h6m-2 19h6m1 -5h6m0 -16h6m16 7h6m-175 26h6m-4 -5h6m18 9h6m9 18h6m-2 -25h6m2 21h6m8 -6h6m-1 -18h6m-5 9h6m6 -1h6m16 -3h6m1 19h6m17 -3h6m6 1h6m-5 6h6m2 -21h6m0 6h6m-5 10h6m4 -21h6m-157 49h6m30 -5h6m0 0h6m-2 12h6m1 -16h6m3 15h6m2 -21h6m-4 12h6m-5 -18h6m-3 2h6m31 24h6m-108 3h6m2 0h6m14 1h6m-3 20h6m-5 -2h6m18 3h6m2 -11h6m-4 17h6m-2 -21h6m-4 -2h6m17 7h6m4 3h6m-160 38h6m0 -11h6m-4 7h6m11 9h6m2 -24h6m12 14h6m-5 -6h6m0 8h6m23 10h6m-5 0h6m-1 -16h6m-3 -14h6m-5 10h6m-6 -6h6m7 8h6m24 18h6m60 -26h6m-259 44h6m-2 7h6m22 -22h6m1 17h6m5 3h6m-4 -11h6m-3 -5h6m-2 1h6m9 18h6m21 -5h6m26 -15h6m-3 0h6m28 9h6m0 12h6m-210 10h6m6 21h6m34 -12h6m-4 6h6m-5 6h6m10 -4h6m-1 -4h6m-5 -13h6m-5 1h6m7 -6h6m-3 22h6m22 -3h6m-5 -6h6m2 1h6m1 13h6m-5 -23h6m1 -2h6m44 -3h6m-215 36h6m19 6h6m1 15h6m14 -7h6m8 -4h6m-5 -14h6m79 6h6m-166 29h6m-3 -7h6m15 13h6m-5 6h6m44 -15h6m5 15h6m-1 -9h6m-6 4h6m10 -4h6m-1 -5h6m2 -4h6m-142 50h6m31 -19h6m-6 24h6m-5 -25h6m8 16h6m-2 2h6m123 -12h6m-215 26h6" stroke="#8cf262" stroke-width="6" fill="none" opacity="0.80"/>
<path transform="scale(.1)" d="M0 0m1197 5515h6m43 9h6m12 -11h6m32 21h6m-5 -16h6m-2 17h6m10 -3h6m3 -12h6m21 -5h6m21 1h6m23 -11h6m-4 30h6m-264 16h6m2 -15h6m34 20h6m7 -12h6m41 13h6m0 -18h6m19 8h6m35 7h6m-1 5h6m3 5h6m17 -2h6m-3 -14h6m7 13h6m-6 -13h6m18 0h6m4 6h6m0 -6h6m24 12h6m-6 -6h6m10 -9h6m-4 5h6m-5 9h6m0 -11h6m7 11h6m-6 -1h6m-2 -9h6m-2 -2h6m31 13h6m-375 9h6m6 -2h6m0 22h6m2 0h6m51 -19h6m1 -2h6m28 4h6m-6 -7h6m0 20h6m19 -9h6m6 -4h6m10 5h6m6 -3h6m0 18h6m3 -1h6m2 2h6m33 -28h6m23 6h6m9 15h6m3 -9h6m1 16h6m-4 1h6m4 -12h6m0 -2h6m0 -6h6m-2 3h6m13 9h6m-2 0h6m4 -13h6m47 11h6m-397 22h6m-3 3h6m16 9h6m12 -18h6m0 24h6m17 -14h6m-3 -7h6m56 8h6m13 -11h6m69 0h6m2 -3h6m-2 2h6m-5 23h6m-4 -22h6m12 13h6m17 -5h6m6 -6h6m14 17h6m-4 -3h6m6 -11h6m27 7h6m7 -16h6m-5 28h6m0 -23h6m22 20h6m-404 28h6m35 3h6m-5 -12h6m15 10h6m9 -12h6m-4 4h6m-4 -7h6m-1 -7h6m0 17h6m2 -10h6m0 6h6m-1 1h6m22 -16h6m-3 16h6m18 -13h6m2 24h6m5 -26h6m1 7h6m4 -7h6m9 17h6m-4 3h6m51 -13h6m-1 14h6m3 -6h6m-2 11h6m0 -5h6m4 1h6m-2 -22h6m9 24h6m11 -5h6m-6 -16h6m2 8h6m9 -4h6m3 -5h6m0 3h6m-1 16h6m9 6h6m5 -16h6m-1 17h6m-5 -23h6m4 6h6m-514 20h6m1 10h6m14 12h6m3 -7h6m49 -16h6m70 14h6m2 -15h6m8 21h6m-3 2h6m1 -9h6m5 5h6m23 -19h6m11 20h6m-5 4h6m-6 0h6m4 -7h6m-4 5h6m4 -4h6m2 -8h6m-3 -8h6m-5 21h6m6 0h6m-6 5h6m-2 -17h6m14 -4h6m23 -5h6m-1 24h6m-2 -24h6m-2 23h6m5 -22h6m9 21h6m3 -2h6m-3 -17h6m-2 9h6m-4 -11h6m11 -2h6m-6 15h6m-3 -15h6m2 22h6m0 -18h6m-2 17h6m-1 -3h6m-1 -16h6m6 2h6m-2 9h6m4 5h6m-5 8h6m2 -11h6m0 2h6m4 -7h6m11 16h6m-509 2h6m9 20h6m42 -15h6m-3 9h6m3 -14h6m36 6h6m-5 2h6m-3 16h6m18 -2h6m11 5h6m-4 -4h6m-4 -22h6m-5 2h6m-5 4h6m32 11h6m-2 -18h6m-1 26h6m-5 -19h6m-1 -3h6m7 19h6m2 -12h6m2 3h6m2 -8h6m-5 21h6m27 -14h6m1 10h6m1 -10h6m7 17h6m-5 -1h6m8 -5h6m-3 -5h6m20 -8h6m-1 10h6m-3 -21h6m-3 25h6m-5 -3h6m-3 -21h6m-2 27h6m7 -25h6m-1 5h6m1 -6h6m-4 6h6m-4 2h6m2 11h6m-4 -9h6m2 -8h6m10 -3h6m1 3h6m-5 6h6m-1 17h6m5 -19h6m-5 19h6m0 0h6m-6 -16h6m10 -9h6m5 19h6m-417 38h6m2 -8h6m-5 -17h6m1 17h6m23 -1h6m3 -18h6m35 19h6m33 3h6m-2 -23h6m-2 9h6m6 2h6m-3 11h6m1 -10h6m9 -2h6m5 7h6m0 -13h6m-1 -5h6m-6 28h6m32 -9h6m-6 -7h6m9 4h6m4 13h6m-2 -19h6m27 9h6m0 2h6m0 -17h6m-3 -1h6m5 26h6m11 -11h6m-5 0h6m7 3h6m-3 5h6m2 -25h6m2 25h6m-5 -10h6m-6 -15h6m-4 2h6m8 4h6m-3 -5h6m-3 9h6m-4 -9h6m3 15h6m-440 23h6m64 1h6m20 11h6m0 -15h6m25 0h6m0 20h6m4 3h6m2 -8h6m-1 -14h6m11 9h6m12 -12h6m-2 -2h6m18 -1h6m-1 24h6m-4 -8h6m-1 10h6m16 -3h6m-6 1h6m-3 -11h6m-3 8h6m8 -1h6m1 -4h6m20 -9h6m9 -5h6m2 24h6m-4 -21h6m-2 17h6m2 -3h6m-3 3h6m-3 -11h6m-5 13h6m8 -2h6m-3 -20h6m-4 13h6m-5 -1h6m14 -11h6m0 6h6m2 -10h6m-1 13h6m-5 5h6m12 -15h6m-426 31h6m14 12h6m17 7h6m20 6h6m4 -13h6m-6 -5h6m-1 7h6m21 -6h6m17 -2h6m-4 0h6m-2 -8h6m-4 8h6m11 13h6m-4 0h6m28 -6h6m7 -3h6m-5 12h6m-5 -16h6m-3 13h6m9 -5h6m24 -11h6m7 0h6m10 0h6m-5 11h6m27 -11h6m3 12h6m33 -13h6m-5 -7h6m-5 4h6m-2 9h6m38 -6h6m-456 40h6m24 -5h6m20 14h6m7 -9h6m4 8h6m-6 5h6m2 -13h6m11 -14h6m1 13h6m45 -12h6m8 24h6m7 -2h6m13 -16h6m5 -5h6m7 -4h6m-1 -1h6m1 3h6m-4 14h6m-6 5h6m-2 7h6m15 -10h6m7 -14h6m9 -2h6m-1 15h6m-4 -8h6m0 0h6m5 15h6m-5 2h6m3 -9h6m0 4h6m0 5h6m-1 -2h6m-2 0h6m7 -15h6m34 -9h6m-5 9h6m-393 50h6m1 -24h6m13 1h6m-5 -4h6m2 18h6m-2 -18h6m20 20h6m-2 -16h6m11 -7h6m21 11h6m-5 5h6m32 -15h6m1 0h6m-4 3h6m-5 20h6m-3 -12h6m10 11h6m2 2h6m-4 -9h6m2 -1h6m6 6h6m5 -17h6m-6 24h6m-4 -6h6m-5 3h6m0 -4h6m2 -15h6m14 8h6m10 12h6m2 -11h6m-5 -6h6m-5 -3h6m-1 8h6m-5 -12h6m-4 24h6m-5 -24h6m-4 15h6m-1 -9h6m9 17h6m19 -16h6m20 -3h6m-4 -5h6m9 2h6m-5 11h6m2 1h6m-6 -8h6m-389 27h6m62 0h6m-5 0h6m16 18h6m9 -8h6m44 13h6m22 -3h6m-5 -8h6m5 10h6m3 -10h6m7 -14h6m-3 6h6m-1 11h6m8 -10h6m4 12h6m2 -21h6m-1 21h6m-2 3h6m-6 -22h6m-6 3h6m-1 14h6m5 -15h6m-6 10h6m-1 -11h6m0 25h6m-4 -25h6m6 21h6m-3 -6h6m-2 -1h6m3 -4h6m2 -4h6m-345 49h6m58 -16h6m-1 16h6m11 -1h6m23 -19h6m-1 11h6m22 -10h6m-3 -2h6m6 4h6m10 8h6m-2 7h6m31 -2h6m-5 4h6m-4 1h6m3 -21h6m15 8h6m18 -4h6m7 -2h6m3 8h6m-278 18h6m3 10h6m20 14h6m20 -17h6m0 -9h6m2 24h6m-5 -5h6m23 5h6m2 -14h6m1 8h6m10 -17h6m19 -4h6m5 9h6m3 7h6m8 8h6m-4 -3h6m13 -1h6m-2 -14h6m-3 1h6m-4 18h6m0 -16h6m-5 -9h6m12 23h6m-207 25h6m78 -15h6m-3 18h6m32 -20h6m0 8h6m7 19h6m-5 -5h6m-50 9h6" stroke="#d8fcca" stroke-width="6" fill="none" opacity="0.90"/>
<path transform="scale(.1)" d="M0 0m1733 5840h6m-4 5h6m-2 3h6m-5 -11h6m-4 16h6m-2 8h6m1 -1h6m-4 1h6m-3 -2h6m10 4h6m-25 2h6m6 2h6m2 2h6m-4 23h6" stroke="#e87a30" stroke-width="6" fill="none" opacity="0.85"/>
</g>
<defs><linearGradient id="yg" gradientUnits="userSpaceOnUse" x1="230" y1="512" x2="262" y2="505"><stop offset="0" stop-color="#fedb3c"/><stop offset="0.5" stop-color="#fdd522"/><stop offset="1" stop-color="#fbcc0c"/></linearGradient></defs>
<g>
<polygon points="243.7,492.8 247.5,495.0 252.0,499.5 257.0,505.0 262.5,511.0 268.6,517.6 266.0,522.0 258.0,522.5 247.0,521.0 236.0,519.5 228.0,519.0 223.5,517.6 229.0,511.0 235.0,503.0 240.0,496.0" fill="url(#yg)" filter="url(#b1)"/>
<polygon points="222.6,517.6 268.6,517.6 266.5,523.0 261.0,527.5 256.5,532.5 252.0,534.0 246.0,531.5 240.0,531.0 234.0,534.5 229.0,538.0 224.5,538.8 223.0,533.0 223.6,526.0 222.3,521.0" fill="#fbdc6a" filter="url(#b2)" opacity="0.6"/>
<path transform="scale(.1)" d="M0 0m2247 5174h6m5 -12h6m10 9h6m57 2h6m-3 -21h6m0 21h6m17 1h6m7 -12h6m9 13h6m-6 -8h6m18 8h6m-5 0h6m22 -3h6m-1 1h6m14 -6h6m13 4h6m-1 -11h6m-2 12h6m12 0h6m64 2h6m35 -10h6m-5 8h6m19 -2h6m33 -9h6m-489 21h6m4 20h6m-5 -14h6m-6 -5h6m9 -3h6m-5 -2h6m-4 15h6m-4 -1h6m-2 6h6m-6 -3h6m-3 1h6m-6 -8h6m-3 -8h6m-3 -5h6m-4 23h6m1 -12h6m-6 9h6m-5 -8h6m-1 7h6m-5 -6h6m-5 3h6m-4 -15h6m-4 28h6m-6 -7h6m-2 -5h6m-6 0h6m-2 10h6m-1 0h6m-5 -18h6m-6 1h6m-3 18h6m-6 -18h6m-2 8h6m-5 11h6m-6 0h6m-4 -10h6m-5 3h6m-4 -18h6m-6 15h6m-2 2h6m-6 5h6m-5 -6h6m0 1h6m-4 -11h6m-2 -9h6m-4 22h6m-6 -1h6m-4 -3h6m1 -5h6m1 13h6m-2 -23h6m0 12h6m-3 4h6m-5 9h6m-5 -13h6m-1 0h6m-5 -15h6m-2 16h6m-2 1h6m-3 5h6m-4 -10h6m-6 0h6m-6 8h6m7 5h6m-4 -20h6m0 20h6m-6 -23h6m-4 22h6m-5 -24h6m-3 7h6m-3 13h6m-3 6h6m-4 -15h6m-3 10h6m-5 -2h6m-5 -20h6m-4 6h6m-4 3h6m-5 10h6m-5 5h6m-4 -17h6m-1 16h6m-2 -17h6m-2 13h6m-1 -4h6m-1 7h6m-5 -12h6m-4 -3h6m-6 -3h6m-1 7h6m0 -4h6m-5 2h6m-6 2h6m-2 13h6m-4 -19h6m2 -3h6m-3 28h6m-4 -10h6m-2 -4h6m-2 3h6m-6 3h6m-3 -12h6m-5 10h6m-3 7h6m-2 -11h6m-6 2h6m-5 -4h6m-5 0h6m-4 14h6m-1 -10h6m-4 -9h6m5 -9h6m-1 3h6m-1 26h6m-5 -26h6m-3 11h6m-5 1h6m-5 0h6m-5 -15h6m-6 1h6m-1 20h6m-4 2h6m-6 -3h6m-4 2h6m8 -2h6m-4 -16h6m-5 22h6m-6 -8h6m-3 -4h6m-2 14h6m-4 -9h6m1 4h6m-1 5h6m-3 -6h6m-4 3h6m-5 1h6m1 3h6m-6 -8h6m11 0h6m-5 -9h6m-6 1h6m-4 2h6m-3 8h6m-2 5h6m-5 -4h6m-2 -18h6m-4 4h6m0 -9h6m0 1h6m-5 25h6m2 -2h6m-5 -10h6m0 6h6m-6 -6h6m0 10h6m-6 -24h6m-2 11h6m-1 14h6m-6 -17h6m1 4h6m-1 8h6m3 -14h6m-488 33h6m-5 -7h6m2 7h6m-6 1h6m3 -2h6m-3 17h6m-3 -4h6m0 -13h6m-5 -8h6m-3 12h6m-5 8h6m-5 8h6m3 -16h6m-5 9h6m-5 3h6m-6 -12h6m-3 -11h6m-4 25h6m-5 -4h6m-6 -12h6m-5 13h6m-3 -21h6m-5 27h6m7 -17h6m-6 7h6m-6 -6h6m-3 -12h6m-6 18h6m-5 7h6m0 -7h6m0 -8h6m-5 10h6m-5 -15h6m-5 -4h6m-2 20h6m-5 -5h6m-3 -15h6m-6 2h6m0 0h6m-6 0h6m-6 19h6m-3 -7h6m-2 8h6m-4 -21h6m-6 18h6m-4 -2h6m-4 -13h6m-4 -7h6m-2 7h6m7 10h6m-2 -3h6m-6 14h6m-3 -27h6m-3 14h6m-5 -8h6m-5 -2h6m-3 12h6m-6 -13h6m-3 6h6m-5 -8h6m-2 11h6m-6 6h6m-4 3h6m-5 -7h6m-4 -8h6m-6 10h6m-3 3h6m-6 -5h6m-6 14h6m1 1h6m-5 -1h6m-3 -22h6m-4 6h6m-4 16h6m0 -29h6m-2 2h6m-3 23h6m-6 -19h6m1 12h6m-6 1h6m-4 -13h6m-5 6h6m-6 0h6m-6 17h6m-1 -1h6m-5 -24h6m-5 15h6m-6 -8h6m-5 -7h6m-5 25h6m-5 0h6m-4 -25h6m-5 10h6m-3 -7h6m3 -3h6m-4 4h6m-6 20h6m-4 -17h6m-6 -6h6m-4 22h6m-3 -24h6m-1 -1h6m1 21h6m-6 -2h6m0 -19h6m6 20h6m-5 -16h6m-5 20h6m10 -7h6m-5 -8h6m-4 4h6m-1 2h6m-4 -6h6m-6 15h6m1 -24h6m0 2h6m-4 24h6m-4 -3h6m2 -19h6m-4 -2h6m-4 8h6m-4 -12h6m-5 11h6m-4 5h6m-6 -8h6m-5 13h6m2 9h6m-4 -16h6m-5 16h6m-4 -29h6m-3 21h6m-3 0h6m-4 -3h6m-5 7h6m-3 -24h6m-3 17h6m-1 5h6m-6 -15h6m-3 -1h6m-2 14h6m-3 -19h6m-1 -2h6m-4 11h6m-3 4h6m-4 9h6m4 -21h6m-1 13h6m-5 -10h6m-1 -7h6m-4 7h6m-5 -5h6m-3 13h6m-4 10h6m-5 -12h6m-3 3h6m-5 9h6m-5 -11h6m-3 8h6m-4 -14h6m-6 6h6m6 -3h6m-5 15h6m-5 -22h6m-2 -4h6m-4 2h6m-4 26h6m-2 -11h6m-6 -15h6m-2 16h6m-3 -8h6m-445 33h6m4 12h6m-1 -8h6m-3 10h6m-5 -23h6m-3 0h6m-1 16h6m-2 -2h6m-4 12h6m-4 -14h6m-5 4h6m0 -11h6m-2 5h6m-4 -7h6m-3 17h6m-5 -9h6m1 -1h6m-3 5h6m-5 -16h6m-4 -1h6m-5 -1h6m-4 6h6m-6 15h6m-1 -14h6m-1 -2h6m-2 2h6m-4 14h6m-2 -17h6m-4 12h6m-4 -2h6m-3 9h6m-2 -10h6m-1 -2h6m-5 11h6m-3 -20h6m-3 20h6m2 -1h6m-3 6h6m1 -3h6m-3 -6h6m-6 -16h6m0 1h6m-6 4h6m-1 14h6m-4 0h6m-3 1h6m-3 -12h6m-6 -11h6m-4 21h6m8 -1h6m-2 -2h6m-5 3h6m-3 -18h6m-3 7h6m-4 5h6m0 1h6m-2 1h6m0 -3h6m1 15h6m-3 -14h6m-4 12h6m-4 -24h6m-5 18h6m2 1h6m-1 -20h6m0 15h6m12 -8h6m2 3h6m-4 7h6m-3 -11h6m-5 16h6m-2 -1h6m-3 2h6m-6 -1h6m-4 -5h6m-6 8h6m-4 -19h6m-3 19h6m-2 1h6m-5 -18h6m2 -6h6m-3 1h6m-1 21h6m-5 -5h6m-6 -9h6m-2 0h6m-6 17h6m-2 0h6m-6 -13h6m-5 6h6m-2 1h6m-4 -19h6m-1 11h6m0 -6h6m-6 8h6m-5 -6h6m-4 -10h6m-3 7h6m1 -8h6m-3 3h6m-2 5h6m0 2h6m-4 0h6m-2 18h6m-5 -15h6m-3 -1h6m7 -6h6m3 11h6m0 -7h6m3 0h6m0 2h6m-5 -8h6m1 0h6m-6 0h6m1 -4h6m-419 36h6m-3 10h6m-4 2h6m-4 -10h6m1 -1h6m-1 22h6m-5 -11h6m2 6h6m-2 -13h6m1 -1h6m0 4h6m-6 7h6m-2 -9h6m-2 -12h6m3 23h6m4 -16h6m-4 12h6m-3 -16h6m13 0h6m-6 23h6m-5 -12h6m-6 -7h6m-5 13h6m-5 -19h6m-6 5h6m-6 17h6m-6 -1h6m-5 3h6m2 -5h6m-3 10h6m-1 -10h6m-4 10h6m0 -16h6m7 -12h6m-5 2h6m2 3h6m1 12h6m-5 -14h6m9 16h6m-3 -14h6m-6 9h6m1 5h6m-3 -2h6m2 1h6m-4 -6h6m3 0h6m-3 0h6m-2 12h6m1 -16h6m-5 16h6m-4 -14h6m-4 4h6m-1 12h6m-4 2h6m-6 0h6m-3 -26h6m-1 5h6m-6 18h6m-2 -7h6m-3 -7h6m-6 -7h6m-3 7h6m-4 2h6m0 -1h6m-2 -7h6m-2 20h6m-2 -1h6m-2 -20h6m-5 6h6m3 16h6m3 -19h6m3 -9h6m-4 7h6m-3 0h6m2 -2h6m-1 14h6m-4 -1h6m0 -6h6m0 -8h6m2 20h6m-2 1h6m0 -11h6m-2 9h6m-6 -15h6m-6 8h6m-5 -12h6m4 0h6m1 3h6m-395 46h6m3 -16h6m0 -7h6m18 26h6m-3 -25h6m-1 13h6m-4 1h6m0 -10h6m-3 10h6m10 -6h6m4 -5h6m-3 14h6m-3 2h6m0 3h6m-5 -17h6m3 9h6m-5 -6h6m-6 17h6m2 -23h6m-1 25h6m-4 -2h6m-5 -19h6m-5 12h6m-5 -2h6m-4 -5h6m-3 -5h6m3 7h6m1 -12h6m-2 8h6m-6 6h6m1 -9h6m-5 -1h6m-5 14h6m-6 -17h6m-6 14h6m-1 1h6m-2 -11h6m-4 5h6m4 -6h6m-3 -4h6m1 8h6m-3 -1h6m-1 4h6m-3 -9h6m-2 18h6m-4 -6h6m11 -16h6m-5 1h6m-6 8h6m1 8h6m-3 6h6m-3 -15h6m3 -8h6m2 18h6m-5 -2h6m12 -1h6m-3 -15h6m-3 2h6m-1 6h6m-3 7h6m-4 9h6m2 -18h6m-4 9h6m-5 0h6m-1 -6h6m-3 -8h6m-4 19h6m4 -20h6m-4 26h6m10 -24h6m-1 18h6m-6 -13h6m-5 15h6m24 -20h6m-3 0h6m-355 49h6m-4 8h6m7 -17h6m0 -5h6m2 9h6m-3 -5h6m7 10h6m12 -16h6m15 3h6m18 11h6m1 -1h6m130 -6h6m2 -7h6m-252 28h6m34 16h6m-28 17h6" stroke="#fbd020" stroke-width="6" fill="none" opacity="0.90"/>
<path transform="scale(.1)" d="M0 0m2316 5174h6m-3 -1h6m58 -2h6m66 4h6m30 -5h6m131 3h6m-413 20h6m4 0h6m-6 -4h6m-4 15h6m12 -10h6m9 -7h6m-6 -6h6m7 18h6m1 -12h6m3 15h6m-5 -12h6m0 1h6m1 1h6m5 -13h6m2 0h6m0 14h6m-2 1h6m-3 0h6m-5 -15h6m-4 -2h6m-6 -2h6m-2 14h6m3 -3h6m-4 1h6m-3 16h6m0 -27h6m-2 16h6m-1 1h6m-1 -13h6m-3 18h6m-3 -4h6m-5 -4h6m1 -7h6m0 0h6m9 1h6m-5 12h6m-3 2h6m-1 -11h6m3 -6h6m0 22h6m-4 -21h6m-6 13h6m-4 10h6m4 -28h6m-6 9h6m9 11h6m-4 -15h6m-6 -7h6m-1 2h6m-2 1h6m-3 25h6m0 -17h6m-2 13h6m-4 3h6m-1 -5h6m10 -16h6m0 18h6m-3 0h6m-3 1h6m2 -14h6m-6 18h6m17 -5h6m-4 -23h6m-3 11h6m-1 1h6m-1 -4h6m11 -2h6m-3 -2h6m5 10h6m0 2h6m0 5h6m-3 -14h6m4 21h6m4 -22h6m3 12h6m24 -15h6m0 -3h6m-461 41h6m-6 4h6m-1 -2h6m-4 10h6m-2 -13h6m-6 15h6m2 -21h6m4 9h6m-3 4h6m6 -8h6m-5 -4h6m5 10h6m-1 -12h6m0 5h6m-5 -1h6m-5 14h6m-4 -22h6m2 17h6m1 -12h6m5 11h6m0 -9h6m10 9h6m-2 -3h6m-2 10h6m-4 -16h6m-3 -2h6m-5 22h6m-1 -17h6m-1 8h6m-5 -11h6m6 10h6m-1 6h6m-2 6h6m-4 -5h6m-4 -10h6m-1 -9h6m-5 -5h6m2 0h6m-6 5h6m-6 -4h6m-4 9h6m12 19h6m9 -22h6m0 22h6m-3 -2h6m-2 -12h6m-5 -13h6m7 12h6m-2 -6h6m5 -6h6m-5 1h6m-1 8h6m-5 -4h6m-1 3h6m22 13h6m-5 -22h6m-6 10h6m-5 15h6m21 -22h6m11 9h6m7 8h6m0 5h6m21 0h6m20 -14h6m-6 8h6m-2 7h6m28 -21h6m-471 49h6m22 0h6m-2 5h6m16 -15h6m-1 2h6m0 2h6m-6 -17h6m-3 28h6m-1 -13h6m-3 -8h6m-4 20h6m-3 -26h6m-1 -2h6m21 2h6m12 -2h6m1 14h6m-6 10h6m-4 4h6m-5 -10h6m0 2h6m-3 -18h6m-2 -1h6m-4 11h6m-2 -6h6m-4 11h6m1 1h6m0 7h6m0 -8h6m-3 0h6m10 12h6m1 -28h6m0 -1h6m1 27h6m-5 -24h6m-5 16h6m7 -6h6m-5 15h6m-4 -6h6m-4 -20h6m-2 26h6m0 -13h6m6 13h6m-3 -27h6m-5 18h6m-5 4h6m-5 -17h6m8 -2h6m-4 17h6m-4 -18h6m-6 2h6m-5 10h6m9 -4h6m-4 -1h6m2 16h6m4 -1h6m-5 -11h6m-1 -3h6m-4 6h6m-3 7h6m-3 -11h6m-6 -11h6m-4 17h6m-1 2h6m3 1h6m4 -12h6m-2 12h6m-5 -19h6m-4 11h6m3 -10h6m1 22h6m-1 -23h6m-2 23h6m-4 -8h6m5 -11h6m19 -5h6m-449 56h6m11 -29h6m5 6h6m-4 4h6m-1 5h6m-6 4h6m-6 -15h6m-6 14h6m0 8h6m2 2h6m-3 -27h6m-6 18h6m-6 4h6m-2 -6h6m-6 9h6m2 4h6m-4 -13h6m-4 12h6m4 -9h6m4 4h6m1 -13h6m-5 7h6m-6 -13h6m2 3h6m2 19h6m-5 -7h6m-6 7h6m14 -23h6m-5 8h6m-3 13h6m-1 -10h6m1 -8h6m-5 -2h6m0 13h6m-1 -16h6m1 8h6m18 -7h6m10 5h6m-5 4h6m8 -6h6m6 7h6m8 6h6m-5 -6h6m19 7h6m-6 -8h6m4 0h6m1 -12h6m9 19h6m10 9h6m13 -13h6m0 -4h6m9 -10h6m-6 10h6m-5 -11h6m-6 9h6m2 18h6m0 -21h6m9 4h6m-381 25h6m-6 -4h6m18 22h6m-3 -11h6m-1 14h6m-4 -22h6m5 8h6m3 -9h6m0 5h6m-3 3h6m-6 15h6m-5 -18h6m1 3h6m-4 -6h6m-5 24h6m1 -13h6m0 1h6m1 6h6m-6 -12h6m-1 6h6m2 -4h6m-4 10h6m-5 -9h6m15 -3h6m-4 15h6m-1 -21h6m-1 23h6m36 -16h6m3 -2h6m-1 -2h6m-1 6h6m3 -11h6m9 -1h6m10 3h6m-2 1h6m-4 -4h6m3 24h6m-4 3h6m-2 -23h6m-4 18h6m4 -2h6m-5 -18h6m2 10h6m-4 -11h6m5 21h6m-4 6h6m-3 -12h6m-3 12h6m-6 -3h6m-4 3h6m0 -26h6m-5 11h6m-5 -11h6m-5 2h6m-5 8h6m-6 -12h6m-2 21h6m2 -8h6m-5 0h6m-4 4h6m1 -2h6m-361 30h6m13 -1h6m-6 -1h6m1 -11h6m-4 14h6m1 -5h6m-3 8h6m4 -1h6m-4 -19h6m2 28h6m8 -23h6m7 23h6m1 1h6m-2 -23h6m-4 -2h6m-3 -3h6m0 5h6m2 1h6m4 -3h6m8 4h6m135 -6h6m-5 -2h6m38 9h6m6 -9h6m-325 34h6m5 12h6m9 -8h6m-1 1h6m-5 7h6m-5 -9h6m1 -5h6m-4 15h6m2 6h6m8 -14h6m-6 -6h6m-54 42h6" stroke="#f59a2e" stroke-width="6" fill="none" opacity="0.85"/>
<path transform="scale(.1)" d="M0 0m2449 5161h6m40 -3h6m-291 38h6m17 -16h6m10 7h6m19 -6h6m-5 20h6m2 -3h6m4 6h6m2 -12h6m11 -3h6m11 2h6m10 -12h6m45 5h6m8 5h6m7 14h6m12 -27h6m-5 9h6m2 13h6m22 -16h6m7 4h6m27 12h6m-5 -19h6m-3 -1h6m13 9h6m9 3h6m18 9h6m4 -3h6m4 -3h6m24 6h6m4 -3h6m-417 17h6m-5 15h6m12 2h6m-1 -8h6m-3 -9h6m-1 3h6m2 17h6m21 -19h6m16 3h6m-2 -9h6m2 0h6m46 9h6m4 18h6m5 -10h6m-1 -19h6m4 25h6m14 -25h6m5 20h6m-4 5h6m9 -4h6m-4 -11h6m-4 17h6m46 -24h6m31 26h6m10 -28h6m-3 3h6m32 10h6m17 -10h6m10 2h6m-446 51h6m-1 -19h6m12 15h6m2 -19h6m15 11h6m-1 -11h6m-5 22h6m2 -27h6m-1 13h6m-5 14h6m4 -6h6m19 2h6m17 0h6m-6 -2h6m10 4h6m18 -18h6m44 6h6m13 -8h6m9 -1h6m23 3h6m14 9h6m26 -5h6m8 -1h6m-6 13h6m11 -8h6m3 -10h6m-337 35h6m0 13h6m14 -21h6m-5 3h6m0 8h6m0 5h6m49 -1h6m11 -6h6m-5 1h6m-5 -5h6m10 -5h6m-2 4h6m3 11h6m29 -11h6m0 -5h6m43 1h6m18 11h6m18 14h6m18 -18h6m5 12h6m-364 10h6m13 7h6m8 6h6m1 1h6m29 -6h6m44 4h6m23 -4h6m4 20h6m18 -5h6m34 -16h6m37 -2h6m-5 -5h6m18 9h6m-2 20h6m20 -16h6m-335 41h6m-3 -10h6m-3 -8h6m-3 0h6m-4 21h6m-3 -7h6m18 0h6m-6 -16h6m-3 2h6m46 0h6m3 12h6m-4 -8h6m-5 -4h6m11 -3h6m17 1h6m158 3h6m-6 15h6m-3 -13h6m-264 43h6" stroke="#ee5a3a" stroke-width="6" fill="none" opacity="0.80"/>
<path transform="scale(.1)" d="M0 0m2219 5183h7m15 17h7m29 -20h7m23 -5h7m7 18h7m7 9h7m-7 -24h7m-1 12h7m24 -12h7m8 5h7m11 20h7m-7 -8h7m8 1h7m9 0h7m28 0h7m-5 -17h7m22 20h7m54 -5h7m3 -2h7m88 8h7m-461 20h7m6 -7h7m8 2h7m-5 17h7m43 -13h7m-4 -4h7m-6 -2h7m8 14h7m12 -10h7m-7 11h7m19 -8h7m-7 -4h7m-3 -5h7m3 4h7m16 5h7m9 9h7m-7 -5h7m-3 8h7m17 -9h7m8 2h7m-3 7h7m0 -8h7m11 -14h7m-5 12h7m6 -8h7m-3 18h7m19 -5h7m31 7h7m18 -21h7m-3 2h7m10 9h7m13 -17h7m-3 17h7m11 -16h7m10 24h7m-4 -27h7m-457 40h7m13 16h7m-3 -6h7m-7 -8h7m-1 -4h7m-6 1h7m-5 -5h7m-6 23h7m-6 -11h7m-6 2h7m-4 0h7m-1 -13h7m-3 22h7m-3 -7h7m2 -20h7m7 18h7m3 -11h7m4 -4h7m22 15h7m2 2h7m-5 0h7m4 -2h7m1 -7h7m-7 3h7m-6 12h7m-6 -15h7m-2 12h7m-5 5h7m5 -24h7m0 7h7m1 10h7m-1 -10h7m-6 -4h7m-3 -6h7m-5 11h7m-6 17h7m3 -14h7m-1 -9h7m1 2h7m-2 17h7m8 -13h7m1 15h7m-5 -13h7m1 5h7m14 2h7m1 -19h7m-4 22h7m1 -1h7m37 2h7m-6 2h7m-1 3h7m0 -21h7m-6 13h7m10 -14h7m-5 16h7m-5 -24h7m3 22h7m15 -21h7m-2 19h7m-424 15h7m0 5h7m2 7h7m-4 4h7m-4 -4h7m-4 12h7m-4 -16h7m-1 4h7m-5 5h7m17 2h7m-4 1h7m1 -5h7m-1 -1h7m-2 -4h7m10 3h7m0 1h7m-2 -15h7m-7 2h7m-2 18h7m-5 -7h7m-4 7h7m-3 -3h7m4 -17h7m-6 9h7m-7 16h7m-3 -10h7m-2 8h7m-2 -25h7m3 28h7m-4 -16h7m-3 10h7m1 -21h7m-5 6h7m15 9h7m-6 3h7m-1 -10h7m-5 4h7m-1 -1h7m-1 8h7m0 -17h7m2 6h7m-6 8h7m-5 -17h7m-4 17h7m-6 8h7m-1 0h7m-4 -2h7m-6 -6h7m-1 11h7m-4 -2h7m-6 -14h7m-5 -1h7m-4 -3h7m-4 15h7m-5 -2h7m-1 6h7m-4 -27h7m-5 16h7m9 -2h7m-2 -10h7m-5 -6h7m-6 24h7m-1 -7h7m-2 2h7m1 -7h7m-6 3h7m1 0h7m-2 -2h7m-4 17h7m-5 -11h7m-7 -11h7m-6 4h7m0 -6h7m-2 0h7m1 16h7m-5 -16h7m-381 50h7m-5 -7h7m-3 -16h7m-6 13h7m-3 7h7m1 4h7m1 -16h7m9 5h7m-5 10h7m-2 -6h7m-4 -12h7m-2 -1h7m-2 7h7m0 14h7m-6 -5h7m0 6h7m-7 1h7m25 -10h7m-6 -3h7m-7 -12h7m2 13h7m-5 -2h7m4 12h7m-3 -26h7m-1 27h7m-6 -19h7m3 -3h7m1 13h7m-1 -17h7m11 6h7m6 -7h7m23 3h7m-3 6h7m1 8h7m-7 -7h7m-5 12h7m-3 -1h7m-1 -1h7m-1 -20h7m1 21h7m8 6h7m-6 -14h7m12 3h7m-6 -13h7m-6 14h7m-6 -11h7m10 -7h7m-6 29h7m-5 -19h7m-4 5h7m-5 -3h7m0 -6h7m-6 4h7m3 -6h7m-5 13h7m-335 24h7m-4 14h7m-7 -21h7m-7 8h7m14 7h7m-5 -7h7m-7 16h7m-6 -2h7m-1 -6h7m-5 -16h7m-5 7h7m-5 10h7m-5 -21h7m-3 17h7m-6 -6h7m1 -1h7m6 -1h7m1 -2h7m-4 1h7m-4 -6h7m-7 11h7m-4 14h7m7 -20h7m-4 -1h7m9 3h7m-3 -4h7m-2 0h7m51 -2h7m53 1h7m-2 5h7m-3 -8h7m-7 -1h7m-6 17h7m-4 0h7m22 -17h7m-5 1h7m-2 6h7m10 -6h7m-3 5h7m-333 30h7m-4 -2h7m5 1h7m-4 -4h7m-7 13h7m1 11h7m2 -13h7m-7 9h7m-2 -14h7m-4 -6h7m-2 0h7m9 -1h7m-4 2h7m14 -2h7m-3 2h7" stroke="#ffffff" stroke-width="7" fill="none" opacity="0.95"/>
<path transform="scale(.1)" d="M0 0m2376 5020h7m-52 31h7m3 -6h7m7 9h7m7 -23h7m24 21h7m-1 1h7m-3 -1h7m-3 -20h7m29 18h7m-165 34h7m5 -10h7m5 -6h7m-7 4h7m-4 -7h7m-6 12h7m-6 0h7m-7 7h7m-6 -15h7m-3 7h7m-7 -16h7m-7 18h7m1 -3h7m-2 -18h7m-6 23h7m-3 -4h7m-7 -1h7m-5 10h7m-4 -9h7m6 -15h7m2 -5h7m-7 5h7m-6 24h7m7 -18h7m-1 0h7m-7 13h7m-2 -1h7m-1 0h7m-5 -10h7m-7 3h7m-2 -1h7m-5 4h7m-4 4h7m2 -23h7m10 18h7m-166 40h7m-2 -7h7m2 -4h7m0 11h7m-4 -3h7m-6 -14h7m-6 10h7m-6 2h7m-6 4h7m-2 1h7m-7 -18h7m-3 -2h7m-7 13h7m-2 -22h7m-6 26h7m-5 3h7m-4 -8h7m-3 -17h7m-7 23h7m-5 -19h7m-3 2h7m-6 16h7m-5 -8h7m-7 12h7m-5 -9h7m-3 6h7m-7 -21h7m-6 17h7m-7 0h7m-6 -17h7m-4 0h7m-7 10h7m-7 -15h7m-6 0h7m-7 22h7m-1 -7h7m-5 -10h7m-7 16h7m-6 -20h7m0 18h7m-6 -9h7m-6 18h7m-4 0h7m-5 -1h7m-5 -5h7m0 -19h7m-5 -2h7m16 7h7m3 13h7m-4 7h7m-7 -13h7m-6 -14h7m-5 10h7m0 -3h7m13 -7h7m-215 58h7m14 -17h7m-6 0h7m-2 0h7m-2 13h7m-6 -6h7m-6 -8h7m-5 -5h7m-6 -7h7m-6 12h7m-6 6h7m-7 11h7m-7 -20h7m-6 6h7m-4 11h7m-5 2h7m-4 -7h7m-7 5h7m-6 -17h7m-4 -6h7m-5 10h7m-6 -3h7m-6 -2h7m-5 13h7m-6 4h7m-7 -16h7m-7 19h7m-5 -20h7m-7 15h7m-2 -10h7m-6 8h7m-6 -11h7m-7 10h7m-2 7h7m-6 -8h7m-5 -2h7m-6 -14h7m-4 17h7m-6 -18h7m-5 14h7m-6 9h7m-4 -21h7m-6 5h7m-7 13h7m-6 -16h7m-5 16h7m-7 -4h7m-5 3h7m-1 -1h7m-6 -8h7m3 9h7m-1 -7h7m-6 1h7m-6 -6h7m-4 4h7m-3 14h7m-1 -1h7m-7 3h7m-6 -19h7m3 5h7m-5 -2h7m-2 -1h7m-4 13h7m-6 -7h7m-6 8h7m1 -20h7m1 13h7m-3 -16h7m10 9h7m-7 -8h7m3 11h7m-231 43h7m1 -12h7m6 8h7m-7 -18h7m-6 15h7m-3 -14h7m-4 19h7m-3 2h7m-4 -23h7m-4 19h7m-3 -22h7m-4 25h7m-4 1h7m-7 -8h7m-6 4h7m-7 -17h7m-7 7h7m-6 -6h7m-6 1h7m-7 7h7m-6 -12h7m-4 18h7m-3 3h7m-6 -7h7m-1 -16h7m-6 17h7m-6 -12h7m-7 7h7m-7 2h7m-6 -12h7m-6 3h7m-6 -2h7m-4 23h7m-7 -23h7m-7 16h7m-5 -21h7m-6 28h7m-5 -7h7m-5 -11h7m-5 0h7m-4 17h7m-5 -5h7m-6 2h7m-7 -10h7m-6 -14h7m-6 15h7m-7 -5h7m-6 1h7m-6 15h7m-6 -23h7m-3 22h7m-2 -21h7m-5 20h7m-6 -6h7m-7 11h7m-5 -28h7m-5 11h7m-7 2h7m-6 6h7m-5 -19h7m-5 11h7m-6 -2h7m-4 -9h7m-5 18h7m-7 -7h7m-5 -8h7m-6 14h7m-5 -2h7m-7 -7h7m-3 6h7m-6 -8h7m-4 13h7m-7 5h7m-4 -5h7m-4 -3h7m-5 -11h7m-7 22h7m-6 -14h7m-5 4h7m-6 -5h7m-4 11h7m-5 -6h7m-4 6h7m-5 -3h7m-2 2h7m-3 -13h7m-3 14h7m-7 0h7m-5 1h7m-3 4h7m-3 -12h7m-1 -5h7m-4 -1h7m-5 15h7m-2 -17h7m-5 14h7m-4 -21h7m-7 12h7m-4 11h7m5 -2h7m16 -23h7m-227 35h7m-4 13h7m-5 -10h7m4 5h7m-5 -2h7m-5 -7h7m1 11h7m-6 -8h7m-7 -7h7m-7 13h7m-5 -7h7m0 3h7m-3 -8h7m-4 25h7m-5 -1h7m3 -4h7m-6 -5h7m-6 4h7m-3 -2h7m-7 -3h7m-6 -3h7m-6 13h7m-5 -4h7m-5 -14h7m2 0h7m-7 16h7m-4 2h7m-5 1h7m-5 -17h7m-6 4h7m-6 8h7m-4 -19h7m-7 0h7m0 1h7m-5 22h7m-7 -11h7m-2 1h7m-4 13h7m-7 -11h7m-4 -13h7m-6 23h7m3 -12h7m-7 -8h7m1 7h7m-7 0h7m-6 11h7m-5 -11h7m9 1h7m-2 -4h7m-6 0h7m-6 -10h7m-3 4h7m-6 7h7m2 0h7m-7 -7h7m9 4h7m-4 -5h7m-27 27h7" stroke="#fff8d8" stroke-width="7" fill="none" opacity="0.90"/>
<path transform="scale(.1)" d="M0 0m2294 5281h6m16 -12h6m-4 5h6m10 19h6m-109 17h6m36 5h6m2 2h6m8 -21h6m2 21h6m-3 -11h6m5 12h6m23 -2h6m-113 26h6m3 -5h6m4 16h6m-1 -14h6m1 8h6m20 -16h6m12 11h6m-1 3h6m-58 14h6m30 6h6" stroke="#8be860" stroke-width="6" fill="none" opacity="0.85"/>
<path transform="scale(.1)" d="M0 0m2616 5107h6m-1 -7h6m8 14h6m-28 19h6m-2 -4h6m0 -7h6m-1 -1h6m-1 21h6m7 -15h6m-6 -8h6m-5 2h6m-2 21h6m-6 0h6m-5 -4h6m-3 0h6m-51 30h6m-2 -2h6m4 -1h6m0 -12h6m4 -1h6m-4 4h6m-6 12h6m-4 -16h6m-4 3h6m-4 19h6m-5 -24h6m-2 -1h6m-4 21h6m-1 -9h6m-2 6h6m1 7h6m11 -4h6m-100 10h6m7 3h6m5 -5h6m-1 15h6m-1 4h6m-2 -16h6m-4 16h6m-6 -7h6m-2 2h6m-3 -6h6m-5 0h6m-4 -9h6m-5 19h6m-6 -4h6m0 4h6m-4 0h6m3 8h6m-3 -14h6m0 13h6m1 -27h6m-38 38h6m-3 -6h6m1 -2h6m-3 3h6m-5 -2h6m-5 1h6m-2 5h6m4 5h6" stroke="#f59a2e" stroke-width="6" fill="none" opacity="0.80"/>
</g>
<g>
<polygon points="169.4,658.5 171.5,652.0 176.0,646.5 180.0,641.0 183.5,635.0 190.0,629.5 198.0,624.0 206.0,618.5 212.8,613.9 217.0,611.5 221.0,614.0 221.5,620.0 225.0,626.0 227.5,632.0 224.0,638.5 217.0,645.0 211.0,652.0 206.0,659.0 202.0,666.0 197.8,672.2 195.0,668.5 190.0,668.2 184.0,670.2 178.0,669.0 173.5,666.0 170.5,662.5" fill="#b0f6f7" filter="url(#b2)" opacity="0.95"/>
<polygon points="204.5,667.5 208.0,661.0 213.0,655.0 219.0,649.0 225.0,644.5 232.0,642.5 238.2,646.0 238.0,652.0 236.6,659.0 234.5,666.0 231.5,671.5 227.0,674.6 220.0,675.6 213.0,675.0 208.5,673.0 205.5,670.5" fill="#b4f7f8" filter="url(#b1)" opacity="0.9"/>
<polygon points="169.4,658.5 171.5,652.0 176.1,646.5 181.0,641.5 187.0,638.5 195.0,638.0 201.0,642.0 203.5,648.0 203.0,655.0 200.5,663.0 197.8,672.2 195.0,668.5 190.0,668.2 184.0,670.2 178.0,669.0 173.5,666.0 170.5,662.5" fill="#86f3f5" filter="url(#b2)" opacity="0.95"/>
<polygon points="204.5,667.5 208.0,661.0 213.0,655.5 220.0,651.5 228.0,650.0 237.5,651.0 236.5,659.0 234.5,666.0 231.5,671.5 227.0,674.6 220.0,675.6 213.0,675.0 208.5,673.0 205.5,670.5" fill="#86f3f5" filter="url(#b1)" opacity="0.95"/>
<path transform="scale(.1)" d="M0 0m2164 6132h6m1 -16h6m-3 1h6m-47 47h6m-1 -2h6m5 0h6m-3 -24h6m12 5h6m-3 18h6m-4 -17h6m-130 37h6m0 14h6m24 -21h6m11 17h6m-2 4h6m2 -28h6m-5 -1h6m3 25h6m-5 -16h6m22 0h6m16 8h6m-4 9h6m-2 -3h6m13 -23h6m-155 46h6m0 8h6m0 -6h6m0 -9h6m1 18h6m-5 -9h6m-6 -2h6m3 -11h6m4 12h6m3 -13h6m-2 7h6m-6 16h6m-5 -27h6m-4 12h6m18 -2h6m-1 9h6m20 -5h6m0 -11h6m16 1h6m1 24h6m3 -11h6m-271 37h6m0 3h6m22 -7h6m12 -7h6m3 -11h6m9 13h6m18 3h6m4 8h6m8 -9h6m0 7h6m0 -3h6m7 5h6m2 -17h6m-4 -9h6m6 28h6m-4 -17h6m-5 3h6m-2 12h6m7 -11h6m14 -3h6m-6 -12h6m-2 12h6m3 13h6m-5 -7h6m-1 -8h6m13 -1h6m-279 48h6m4 -21h6m0 0h6m23 9h6m-2 -3h6m-4 17h6m-5 -17h6m-6 1h6m-1 16h6m-6 -2h6m3 2h6m3 -26h6m-2 13h6m-6 -3h6m-4 -10h6m-4 8h6m1 12h6m0 -21h6m-3 16h6m-6 4h6m5 -14h6m8 6h6m6 -10h6m7 16h6m1 -10h6m-3 -4h6m1 5h6m-3 4h6m15 -8h6m-3 12h6m-5 -9h6m-5 -7h6m-3 7h6m-5 -3h6m3 12h6m-2 -19h6m-3 24h6m-5 -3h6m4 -2h6m-5 -4h6m22 -7h6m4 -4h6m-4 12h6m-6 11h6m-4 -19h6m-4 18h6m-3 -8h6m-6 0h6m3 -13h6m-4 19h6m-2 -3h6m-2 -6h6m-5 -1h6m-5 7h6m1 -2h6m2 -4h6m9 12h6m-2 -22h6m-386 49h6m2 -9h6m0 14h6m2 -12h6m3 4h6m-5 -1h6m7 -1h6m0 -7h6m-6 0h6m-5 15h6m-3 -4h6m8 2h6m-5 -9h6m9 9h6m-4 3h6m-3 -5h6m-4 4h6m-6 -10h6m-3 -5h6m11 -4h6m-6 -3h6m-5 -3h6m-6 3h6m-1 12h6m-4 -6h6m6 -6h6m0 -3h6m-2 16h6m-5 9h6m-4 -21h6m-5 3h6m-6 9h6m-4 8h6m-4 2h6m14 -9h6m-5 -1h6m0 -12h6m-3 4h6m-5 -1h6m-6 19h6m9 0h6m-5 -14h6m-4 -7h6m0 5h6m9 0h6m6 5h6m0 8h6m-3 -6h6m6 8h6m10 -7h6m0 8h6m-5 -8h6m21 -15h6m-5 23h6m-5 -25h6m-5 22h6m-6 -12h6m-2 8h6m-1 1h6m1 -9h6m2 11h6m14 -6h6m6 -13h6m-5 2h6m6 3h6m1 2h6m-409 36h6m-2 -8h6m-4 14h6m1 -22h6m-5 15h6m-4 -17h6m-1 12h6m3 -5h6m13 22h6m-2 -1h6m-6 -16h6m1 -5h6m-6 14h6m-2 -18h6m-5 4h6m1 9h6m-4 -1h6m1 9h6m-3 -9h6m-1 5h6m-3 -4h6m-1 10h6m-2 -6h6m-4 -3h6m-5 -9h6m-5 0h6m-5 -6h6m-6 26h6m-2 -3h6m8 -23h6m-6 23h6m-1 -23h6m-4 13h6m-5 -15h6m-6 13h6m-5 3h6m-5 3h6m-4 8h6m-1 -1h6m-5 2h6m4 -20h6m-5 -8h6m-2 3h6m-5 18h6m6 6h6m-2 -21h6m1 20h6m1 -5h6m-3 -12h6m-6 -7h6m-4 3h6m-3 -1h6m1 10h6m-5 5h6m0 5h6m-6 -14h6m-3 1h6m-6 10h6m-4 -7h6m5 12h6m4 -2h6m13 5h6m-3 -26h6m-1 22h6m-6 -17h6m4 -3h6m6 11h6m1 -14h6m-5 10h6m-5 -1h6m-2 5h6m1 6h6m-5 3h6m-4 -1h6m-6 -4h6m-6 0h6m-5 -20h6m-5 9h6m-2 1h6m3 11h6m-4 -11h6m-5 -6h6m-6 22h6m7 -11h6m-5 -16h6m-4 4h6m-2 1h6m-4 6h6m12 14h6m-4 -19h6m3 4h6m-6 11h6m12 6h6m5 -9h6m3 -9h6m-459 42h6m3 4h6m4 -13h6m-1 3h6m-5 -12h6m-4 25h6m-5 -23h6m-1 8h6m-4 -3h6m-4 -5h6m-5 15h6m-5 -15h6m-5 20h6m-5 -8h6m6 -14h6m-3 13h6m-5 -14h6m-6 27h6m-2 0h6m-4 -28h6m0 0h6m-5 18h6m-6 1h6m-3 -18h6m1 27h6m-4 -7h6m-6 3h6m-5 -21h6m-2 8h6m2 17h6m-5 -9h6m-3 -10h6m-4 -5h6m-3 8h6m-4 8h6m-4 6h6m-1 1h6m-1 -23h6m-4 22h6m-3 -21h6m-6 2h6m-4 -4h6m-5 19h6m-6 7h6m14 -27h6m-5 9h6m0 14h6m-6 1h6m-6 -19h6m-2 2h6m0 -6h6m0 25h6m-4 -1h6m-5 -27h6m16 26h6m2 -22h6m-6 18h6m-5 -13h6m8 17h6m4 -22h6m-6 12h6m-3 -5h6m4 17h6m-2 -9h6m-4 9h6m-2 -11h6m-5 4h6m-1 -20h6m0 22h6m4 -7h6m-5 -3h6m1 0h6m-3 7h6m-5 1h6m-1 -6h6m8 12h6m2 -26h6m2 27h6m-5 -5h6m-6 -9h6m-6 -9h6m-2 22h6m-5 1h6m6 -19h6m-3 15h6m4 0h6m-4 -18h6m-5 23h6m-4 -28h6m2 8h6m-1 10h6m-5 -15h6m-4 8h6m-6 -8h6m0 4h6m-1 3h6m-4 -11h6m-5 18h6m-1 -2h6m-4 0h6m-2 -2h6m0 -2h6m-6 -8h6m-4 16h6m-3 -13h6m-5 -5h6m13 -1h6m6 22h6m-458 31h6m0 -24h6m8 24h6m0 -22h6m12 0h6m0 0h6m-5 19h6m-5 -11h6m-5 11h6m-5 6h6m2 -24h6m-5 21h6m-4 -13h6m-4 -7h6m-5 18h6m2 -16h6m-5 11h6m-2 4h6m-3 -18h6m-2 13h6m9 6h6m0 -12h6m-5 -2h6m-2 17h6m-5 -5h6m-6 -1h6m-1 6h6m-6 -7h6m-5 -17h6m-6 1h6m-2 11h6m-4 -6h6m-2 0h6m-6 1h6m-1 13h6m-5 -11h6m-3 19h6m-4 -27h6m-4 26h6m-4 -2h6m-5 -13h6m-4 7h6m-6 3h6m-5 3h6m-6 -6h6m-5 0h6m4 1h6m-5 -14h6m0 -5h6m-5 22h6m-3 -13h6m-5 12h6m5 -18h6m-4 20h6m2 -4h6m-6 2h6m2 5h6m-3 -22h6m4 7h6m-4 13h6m-3 -19h6m-3 20h6m-5 -15h6m-5 8h6m1 5h6m-3 -12h6m-5 10h6m-5 -2h6m-3 -18h6m-3 24h6m-6 -4h6m-3 -3h6m2 -13h6m-3 19h6m0 -17h6m-5 -9h6m-3 20h6m-2 -18h6m14 -3h6m-1 28h6m-6 -9h6m-3 6h6m-4 -17h6m-2 -5h6m-4 6h6m-1 5h6m-5 -5h6m-6 13h6m0 -16h6m-2 24h6m-2 -14h6m0 -12h6m-6 10h6m-5 2h6m-6 2h6m-5 -1h6m-1 -11h6m-3 9h6m1 15h6m-1 -11h6m2 9h6m-6 -17h6m-6 9h6m-4 -20h6m-5 15h6m-1 6h6m-4 3h6m-4 -12h6m0 16h6m-4 -24h6m-3 3h6m3 14h6m-4 -18h6m5 0h6m-2 14h6m2 1h6m-459 29h6m8 -1h6m6 1h6m-6 -14h6m-3 -2h6m0 14h6m9 -6h6m-2 6h6m-5 -8h6m-6 5h6m-3 -9h6m2 9h6m-6 6h6m-2 -10h6m2 -7h6m-5 11h6m2 -6h6m-6 6h6m-5 -10h6m-5 12h6m-4 -13h6m-1 20h6m-4 -7h6m-2 0h6m-2 3h6m-4 2h6m-5 -15h6m-2 12h6m-3 -2h6m2 -6h6m0 21h6m-1 -11h6m-4 -11h6m-4 6h6m-5 -1h6m-1 16h6m1 2h6m-5 -11h6m-5 -8h6m0 -11h6m3 20h6m-5 -13h6m2 2h6m6 1h6m-2 6h6m-6 4h6m-1 8h6m-3 -13h6m-1 9h6m-4 -3h6m-4 0h6m-3 2h6m5 -19h6m-4 13h6m-3 6h6m-6 -2h6m-1 -11h6m-6 11h6m-4 4h6m-5 -18h6m-5 14h6m-1 -7h6m-6 -1h6m-5 13h6m-4 -17h6m-1 7h6m0 7h6m-5 -19h6m-6 17h6m0 -11h6m-1 -8h6m3 27h6m-5 -10h6m-4 1h6m-3 -14h6m-4 10h6m-2 14h6m4 -9h6m-6 -12h6m-4 12h6m5 -8h6m-3 2h6m1 0h6m-2 -14h6m-5 14h6m-2 -12h6m13 25h6m0 0h6m6 -20h6m-2 2h6m0 12h6m-2 6h6m-4 -4h6m-3 -12h6m-3 -5h6m1 -1h6m-4 20h6m0 -23h6m0 -1h6m-411 54h6m7 -9h6m-1 8h6m1 -21h6m-5 10h6m0 -10h6m-6 11h6m-2 -2h6m-4 3h6m-5 2h6m0 -5h6m3 -7h6m-4 0h6m-6 14h6m-5 -18h6m-3 3h6m-1 21h6m-3 -20h6m1 18h6m-5 5h6m-3 -8h6m-5 -11h6m-3 9h6m-4 -3h6m-6 -8h6m-5 19h6m-6 -2h6m-5 -2h6m-3 -15h6m-5 5h6m2 3h6m-5 -2h6m-5 -9h6m0 19h6m-2 -1h6m-2 -9h6m-5 8h6m-6 -10h6m-3 15h6m-4 -22h6m-5 8h6m-3 1h6m-2 2h6m0 -7h6m-5 19h6m-2 -8h6m-6 -13h6m1 11h6m-6 2h6m-3 -11h6m-6 1h6m-4 -10h6m-4 29h6m-1 -7h6m15 -1h6m-5 -4h6m-4 11h6m3 -16h6m1 5h6m-5 0h6m-1 -14h6m-6 5h6m-4 6h6m-5 -11h6m-3 -1h6m-6 8h6m2 16h6m-5 -14h6m-6 7h6m-6 -7h6m-1 10h6m-3 -18h6m2 21h6m-3 -5h6m-4 9h6m-3 -17h6m-3 -6h6m-1 -1h6m-2 8h6m-1 5h6m-1 -10h6m19 5h6m-2 -2h6m12 10h6m1 3h6m-1 -1h6m-2 -15h6m2 16h6m-2 -19h6m-6 -1h6m-4 21h6m3 -23h6m-1 8h6m-3 13h6m-5 0h6m-4 0h6m-3 -4h6m-6 -2h6m2 11h6m-4 -19h6m2 -3h6m-2 -1h6m-5 9h6m7 3h6m19 -13h6m-485 49h6m16 -18h6m2 11h6m-5 -14h6m-5 15h6m2 3h6m8 4h6m-6 -24h6m0 2h6m-2 21h6m-6 3h6m0 1h6m-6 -17h6m-4 8h6m-4 -15h6m1 26h6m-5 -23h6m-1 20h6m-3 -2h6m-5 -23h6m2 15h6m-4 10h6m-5 -9h6m-3 3h6m-2 -9h6m1 -7h6m-1 18h6m17 0h6m-6 -19h6m0 18h6m-5 -16h6m-5 2h6m-3 -4h6m0 24h6m-3 -7h6m-4 -9h6m0 9h6m-6 6h6m-3 -11h6m12 -3h6m-6 1h6m7 -2h6m-5 -6h6m-2 13h6m-3 -1h6m-5 -13h6m-4 -1h6m-5 14h6m-6 -12h6m-4 -2h6m-1 24h6m-1 -18h6m-1 3h6m-4 -4h6m-4 -4h6m-2 24h6m-5 -6h6m-5 8h6m-4 -11h6m-4 -12h6m-2 -2h6m7 14h6m-6 -10h6m-2 14h6m-6 7h6m-6 -29h6m2 13h6m-5 -5h6m-4 1h6m0 -4h6m6 21h6m7 -5h6m-1 -19h6m-6 13h6m-4 -14h6m1 19h6m-4 7h6m-6 -11h6m-5 4h6m-4 -6h6m-1 11h6m13 -24h6m-3 25h6m3 -6h6m-4 -9h6m0 -5h6m3 0h6m-6 10h6m0 3h6m-3 -13h6m-6 -7h6m-2 8h6m-5 -5h6m8 7h6m5 11h6m-424 20h6m9 15h6m6 3h6m9 -26h6m1 11h6m-3 -13h6m-5 1h6m-6 -1h6m-2 0h6m-4 10h6m-5 2h6m-5 9h6m-6 -3h6m-4 8h6m-3 -22h6m-6 23h6m1 2h6m8 -27h6m-3 4h6m-6 4h6m-3 -10h6m3 23h6m-5 -2h6m-5 -4h6m-5 -16h6m1 15h6m-3 -14h6m-6 11h6m-6 -4h6m3 5h6m-1 10h6m-5 -24h6m-6 11h6m-6 -9h6m-5 8h6m-5 -8h6m-4 23h6m6 -3h6m2 -10h6m-6 -11h6m-6 2h6m-5 20h6m-5 3h6m-4 -22h6m-6 9h6m15 6h6m-6 -3h6m14 -12h6m5 23h6m-5 -26h6m-2 24h6m-4 -15h6m-4 14h6m2 -18h6m-6 -1h6m-3 21h6m-1 -23h6m-5 16h6m-5 -2h6m-4 8h6m-6 -12h6m-5 -10h6m1 22h6m-4 -19h6m2 5h6m-4 5h6m3 -10h6m-4 19h6m-2 -1h6m-3 -18h6m1 11h6m-3 -7h6m-6 -8h6m1 10h6m-4 -9h6m-6 21h6m-5 -16h6m-3 -3h6m-6 4h6m-3 -2h6m-2 3h6m-4 5h6m-5 -6h6m2 20h6m-3 -30h6m-4 25h6m-4 -21h6m-5 9h6m-2 -1h6m-4 -12h6m-4 19h6m-5 8h6m-4 -7h6m-6 -12h6m-3 16h6m1 -6h6m-5 -10h6m-4 22h6m2 -25h6m-4 18h6m0 -13h6m1 10h6m1 -2h6m-5 4h6m-416 31h6m21 4h6m2 -7h6m-3 -13h6m-5 6h6m-6 0h6m-2 1h6m-5 -12h6m-1 0h6m0 0h6m-3 20h6m-6 -19h6m-6 16h6m2 -13h6m-4 24h6m-6 -2h6m-1 -11h6m5 11h6m-4 -23h6m0 -2h6m3 24h6m-3 -3h6m-5 -18h6m-5 9h6m-2 6h6m-4 5h6m-5 3h6m-3 -24h6m-5 18h6m0 2h6m-4 4h6m0 -7h6m-4 -15h6m1 14h6m-5 8h6m-6 -20h6m6 14h6m-2 -10h6m-5 11h6m0 -21h6m-3 25h6m-4 -2h6m-4 -5h6m-5 2h6m13 3h6m-5 3h6m0 -19h6m-4 -4h6m-6 1h6m-5 0h6m-4 8h6m6 -14h6m-1 23h6m-3 3h6m5 -20h6m-4 21h6m6 -8h6m8 8h6m-3 -19h6m-5 -9h6m4 5h6m-4 21h6m-5 -12h6m-5 15h6m-3 -19h6m2 2h6m2 13h6m-6 -21h6m-5 21h6m1 -4h6m-4 -19h6m-6 18h6m-4 -14h6m-5 6h6m-6 -9h6m-4 22h6m-4 -14h6m-3 1h6m-1 0h6m-5 5h6m3 6h6m1 5h6m-2 -27h6m-5 21h6m-5 4h6m7 -23h6m10 12h6m-2 6h6m-2 -8h6m8 -7h6m1 17h6m10 -22h6m-419 54h6m6 -13h6m-6 0h6m-6 12h6m-5 -4h6m1 -16h6m-4 0h6m-5 21h6m-4 1h6m1 -5h6m4 -16h6m0 22h6m-5 -20h6m-6 13h6m-1 6h6m-3 -21h6m-2 -4h6m1 20h6m-4 -2h6m-6 -5h6m2 -4h6m-1 11h6m-1 -10h6m-1 15h6m-1 3h6m-5 -5h6m1 -20h6m-3 12h6m-4 1h6m-2 10h6m-5 0h6m-5 -7h6m4 6h6m-5 -12h6m-2 14h6m-1 -16h6m9 2h6m-3 9h6m-4 5h6m-5 -28h6m3 8h6m-4 15h6m0 -22h6m-6 25h6m-6 -9h6m4 9h6m2 -12h6m-6 -7h6m-2 6h6m-5 14h6m0 3h6m-4 -8h6m0 8h6m-5 -16h6m-3 2h6m-4 2h6m-2 -16h6m-6 2h6m-4 16h6m-1 7h6m-2 -12h6m-2 0h6m-3 -11h6m-4 19h6m-6 -6h6m-3 13h6m4 -20h6m0 -1h6m-4 21h6m-6 -17h6m0 6h6m-2 5h6m3 -19h6m4 5h6m-3 9h6m-3 -17h6m-6 11h6m-4 8h6m5 -12h6m10 4h6m-2 12h6m-5 0h6m-2 -4h6m-3 -3h6m2 -8h6m1 13h6m2 -10h6m-4 -10h6m-3 3h6m-2 -2h6m-397 36h6m0 2h6m-1 4h6m-2 7h6m-5 -5h6m9 3h6m-6 -3h6m-2 -4h6m-5 3h6m8 -17h6m-2 22h6m-6 -12h6m-2 12h6m-6 1h6m-5 4h6m-5 -16h6m16 12h6m-3 -2h6m-6 -9h6m4 -6h6m1 22h6m-5 -26h6m5 2h6m-2 20h6m-6 -19h6m-5 -1h6m-5 23h6m-6 0h6m-1 -24h6m1 24h6m-2 -26h6m3 21h6m8 -1h6m-2 -11h6m-4 -9h6m-5 16h6m-3 12h6m-4 -7h6m-4 -5h6m1 11h6m-1 -13h6m-3 12h6m-5 -7h6m-2 -15h6m-4 -4h6m-3 14h6m-4 -2h6m-2 -9h6m-3 -3h6m9 12h6m-5 1h6m-6 9h6m-3 6h6m-4 -2h6m-1 -22h6m-5 0h6m-6 18h6m-5 6h6m-4 -15h6m-3 10h6m-1 -8h6m-3 -8h6m-5 10h6m-1 1h6m-4 -13h6m-4 6h6m-5 -12h6m-4 0h6m0 18h6m-2 -10h6m2 6h6m-6 15h6m1 -9h6m-5 -1h6m-3 1h6m-5 4h6m-5 -2h6m-2 -5h6m-6 2h6m-5 4h6m-5 -6h6m2 3h6m5 -13h6m0 -6h6m0 19h6m-3 -14h6m-3 2h6m-1 16h6m11 -2h6m16 -7h6m-367 16h6m-2 2h6m4 13h6m1 -11h6m-6 7h6m1 -1h6m-5 18h6m-6 -21h6m-6 -3h6m-4 14h6m-4 1h6m0 8h6m0 -5h6m-4 -16h6m-6 -3h6m-3 22h6m2 -24h6m-3 27h6m-5 -1h6m-6 -2h6m-6 -14h6m-4 -3h6m-4 -4h6m-6 11h6m1 8h6m2 -22h6m-6 7h6m-1 15h6m-5 -12h6m-1 -3h6m1 7h6m-4 9h6m-1 -6h6m-4 -19h6m-2 27h6m-3 -11h6m-3 -1h6m-4 -9h6m1 4h6m-3 20h6m-4 -25h6m-5 18h6m-3 -1h6m-6 4h6m-4 -2h6m-3 -23h6m-4 18h6m3 -18h6m-5 26h6m-4 -7h6m-1 -20h6m-6 4h6m-4 14h6m-4 8h6m6 -20h6m2 11h6m-4 2h6m-5 6h6m-5 -2h6m-6 2h6m-5 -2h6m-5 -20h6m-5 23h6m7 -21h6m2 15h6m-3 5h6m-4 -17h6m-5 4h6m1 -9h6m2 3h6m-4 3h6m-2 -8h6m0 5h6m-5 3h6m1 8h6m1 -12h6m-6 -1h6m-1 -3h6m4 20h6m4 -20h6m3 5h6m-5 7h6m-5 14h6m2 -18h6m11 1h6m-2 -6h6m0 3h6m-3 1h6m-4 -7h6m-326 45h6m-1 -8h6m5 -1h6m-5 9h6m5 -5h6m-5 -8h6m3 25h6m-5 -28h6m-5 19h6m-6 6h6m-5 -6h6m-2 -4h6m-5 8h6m-3 -7h6m-5 -8h6m-4 2h6m-5 10h6m-1 0h6m-4 -10h6m-4 17h6m-4 -2h6m-1 -19h6m4 0h6m-3 2h6m12 13h6m-5 -16h6m-4 18h6m-6 -21h6m-1 25h6m-5 -17h6m-3 17h6m-1 -11h6m2 -5h6m-1 16h6m1 -8h6m3 0h6m5 1h6m6 -19h6m-1 28h6m3 -13h6m1 -9h6m-5 7h6m-5 -4h6m2 1h6m-5 9h6m-5 -13h6m-2 12h6m-5 6h6m-5 -9h6m-4 5h6m-6 -8h6m2 4h6m0 9h6m-1 -18h6m-6 -1h6m4 18h6m-3 -18h6m-4 17h6m-6 -5h6m-4 -8h6m-2 4h6m-6 15h6m4 -1h6m0 -3h6m3 -19h6m-6 3h6m-2 -8h6m1 3h6m-6 16h6m-5 -8h6m0 2h6m13 -9h6m-268 39h6m-2 1h6m-5 -12h6m6 6h6m-4 -8h6m-1 19h6m-5 -9h6m-4 -11h6m0 0h6m-5 4h6m-5 5h6m-4 14h6m-6 -13h6m-1 6h6m-4 -7h6m-4 -2h6m-3 21h6m-2 -11h6m-4 -3h6m-6 -12h6m-5 10h6m10 -6h6m-6 5h6m-3 -11h6m9 7h6m13 12h6m-2 -13h6m8 -1h6m3 9h6m-6 -6h6m-4 7h6m7 -5h6m-4 -6h6m2 5h6m-2 11h6m2 -5h6m-1 4h6m-3 -5h6m-2 -2h6m3 -8h6m-4 12h6m-3 -3h6m-1 -10h6m-4 24h6m-4 -14h6m4 -11h6m5 17h6m-133 11h6m87 6h6m-2 -4h6" stroke="#7ff0f2" stroke-width="6" fill="none" opacity="0.90"/>
<path transform="scale(.1)" d="M0 0m2288 6427h6m24 8h6m1 -4h6m-2 -10h6m-77 38h6m-1 -6h6m5 7h6m-3 -17h6m18 14h6m-6 8h6m-3 -22h6m-5 17h6m5 1h6m5 -17h6m-5 16h6m-1 -22h6m-5 1h6m-4 13h6m-4 -6h6m6 -2h6m-6 2h6m14 6h6m-2 11h6m-188 26h6m-4 -6h6m25 2h6m17 -8h6m0 14h6m0 -2h6m-6 -4h6m-5 -1h6m-6 1h6m-6 4h6m2 -6h6m-4 8h6m8 -11h6m-5 -3h6m-3 5h6m6 4h6m20 2h6m-5 -5h6m2 -13h6m-2 14h6m8 -6h6m-3 1h6m1 2h6m1 -8h6m-5 -1h6m10 -1h6m-236 26h6m29 12h6m-2 0h6m8 12h6m-1 -8h6m-6 -10h6m-5 -2h6m-1 20h6m34 -19h6m-3 16h6m-3 -12h6m1 14h6m-6 -13h6m2 11h6m-4 -4h6m-5 0h6m2 8h6m-2 -23h6m-3 23h6m3 -23h6m-4 10h6m-3 16h6m-3 -6h6m10 -14h6m-4 15h6m-6 -8h6m-4 -3h6m-3 -1h6m5 -3h6m-6 13h6m3 -3h6m0 -14h6m1 -3h6m-251 57h6m26 -11h6m-4 2h6m18 -4h6m11 10h6m-2 -19h6m-4 -2h6m-5 0h6m0 18h6m3 -14h6m17 -3h6m-2 -5h6m-5 18h6m31 -13h6m-3 5h6m6 11h6m-5 -9h6m22 12h6m-5 -9h6m6 -9h6m-1 1h6m-5 13h6m3 -3h6m-4 -7h6m-5 -7h6m10 -4h6m-4 5h6m-254 50h6m5 -16h6m-5 -6h6m-3 10h6m-3 -7h6m1 12h6m23 -4h6m34 12h6m1 -16h6m0 15h6m-3 -23h6m7 15h6m4 3h6m6 -15h6m-1 13h6m18 -18h6m7 14h6m0 -4h6m9 -7h6m-3 14h6m15 10h6m-2 -6h6m-289 27h6m34 -12h6m-3 18h6m-4 -25h6m-3 6h6m-5 -2h6m5 19h6m0 -2h6m2 -14h6m-3 0h6m-3 -6h6m-3 12h6m4 6h6m8 -2h6m8 12h6m-6 -27h6m4 2h6m9 18h6m1 -19h6m-4 -1h6m11 -2h6m3 20h6m-6 8h6m1 -19h6m-5 6h6m-1 -6h6m12 2h6m-6 14h6m0 -21h6m5 16h6m-2 -2h6m-5 5h6m0 0h6m-3 -17h6m-1 12h6m-2 -9h6m8 15h6m-5 -5h6m15 -11h6m-310 25h6m7 18h6m-1 0h6m-3 -3h6m15 -14h6m2 21h6m6 -8h6m-5 10h6m-3 -20h6m-4 -5h6m-5 15h6m0 -10h6m-2 21h6m-3 -6h6m-3 -20h6m-2 0h6m-6 4h6m-3 13h6m0 -5h6m-5 4h6m5 3h6m-3 -16h6m-5 -2h6m-6 -1h6m-1 10h6m-6 -6h6m-6 14h6m-5 2h6m-3 4h6m1 -2h6m-1 -2h6m-6 -9h6m-5 -7h6m-4 15h6m0 -19h6m-2 15h6m-3 -2h6m-4 12h6m1 -17h6m-5 14h6m-5 -16h6m2 1h6m1 17h6m13 -3h6m0 -12h6m3 -2h6m1 3h6m-6 3h6m-6 4h6m-1 -19h6m-3 11h6m4 5h6m-1 1h6m0 8h6m-4 -2h6m-3 -4h6m0 -10h6m6 7h6m-4 -13h6m23 12h6m-332 41h6m10 -19h6m-2 0h6m7 3h6m-4 12h6m-1 -7h6m-4 -2h6m-4 -10h6m2 13h6m36 11h6m-5 3h6m-5 -11h6m1 -12h6m-6 13h6m-5 -17h6m0 4h6m-2 10h6m-3 -3h6m-4 11h6m-5 -12h6m5 4h6m0 -7h6m2 6h6m2 1h6m0 12h6m-6 -13h6m-5 11h6m-3 -20h6m-4 -4h6m-5 9h6m-4 5h6m-4 2h6m-2 0h6m17 9h6m-5 -19h6m6 18h6m-3 0h6m-5 -24h6m-2 16h6m1 -10h6m-4 21h6m12 -12h6m1 5h6m-5 -17h6m-5 2h6m-5 21h6m-6 -11h6m-3 -13h6m3 7h6m-5 17h6m-4 -6h6m-1 0h6m-1 -15h6m0 7h6m9 -7h6m-308 45h6m-6 -4h6m-3 -16h6m11 -1h6m-6 7h6m-3 9h6m1 -7h6m-2 0h6m5 1h6m7 6h6m-3 -18h6m-4 11h6m-3 2h6m-2 12h6m-4 -3h6m-5 1h6m0 -5h6m2 -11h6m7 -4h6m-6 14h6m0 -6h6m-4 14h6m1 -9h6m8 -14h6m0 2h6m0 12h6m-5 3h6m-1 -1h6m-2 -8h6m1 6h6m9 -1h6m1 12h6m-5 -8h6m-4 9h6m1 -1h6m3 -8h6m-1 6h6m-1 -1h6m2 0h6m-2 -8h6m-4 -16h6m11 20h6m-6 2h6m-2 -17h6m-6 14h6m14 -10h6m0 8h6m0 11h6m2 -25h6m2 -2h6m-276 44h6m-1 -13h6m-1 7h6m-4 3h6m-3 7h6m4 -10h6m-3 -9h6m2 5h6m-3 2h6m-1 -2h6m23 15h6m-3 -9h6m17 17h6m12 -8h6m23 -17h6m-3 15h6m-3 0h6m0 -14h6m-5 2h6m-1 7h6m-5 13h6m-1 0h6m-4 2h6m-2 -2h6m-2 -2h6m-2 -22h6m-6 23h6m-1 -24h6m0 9h6m9 8h6m1 2h6m3 -4h6m0 -11h6m1 8h6m-172 33h6m-1 -7h6m-5 6h6m-4 -4h6m30 -6h6m2 -3h6m-4 23h6m1 -24h6m2 12h6m22 -3h6m34 -4h6" stroke="#7ff0f2" stroke-width="6" fill="none" opacity="0.90"/>
<path transform="scale(.1)" d="M0 0m2107 6162h7m3 -2h7m-1 -21h7m-4 24h7m2 -1h7m4 -15h7m-1 -4h7m-3 12h7m-4 -13h7m-7 18h7m-3 -18h7m-2 -1h7m-6 23h7m-3 -27h7m-5 12h7m-4 7h7m15 -5h7m-157 31h7m20 7h7m9 -13h7m-4 -8h7m-4 8h7m13 9h7m-3 6h7m-2 -9h7m-5 6h7m16 -22h7m-1 19h7m-6 -9h7m21 -3h7m5 -5h7m-2 12h7m3 -13h7m-6 5h7m-190 44h7m-7 -14h7m-3 10h7m-4 -3h7m-4 8h7m-3 -5h7m12 1h7m-1 -7h7m0 -8h7m-2 18h7m-2 2h7m-6 -16h7m-6 3h7m-2 18h7m-3 -12h7m-1 7h7m15 -4h7m2 -12h7m9 -1h7m-6 1h7m-3 10h7m-2 12h7m-7 -9h7m0 -4h7m5 3h7m-7 -1h7m9 10h7m-7 -25h7m-6 8h7m4 -3h7m-4 0h7m-3 21h7m-218 5h7m11 -1h7m14 10h7m0 10h7m-1 -4h7m0 -19h7m16 17h7m12 -10h7m-1 0h7m-3 -2h7m-7 14h7m-2 -15h7m6 17h7m-5 -5h7m27 6h7m-4 -9h7m-6 16h7m7 -8h7m48 -1h7m-4 -12h7m-317 40h7m1 -15h7m-5 23h7m4 -18h7m17 5h7m27 12h7m-7 -14h7m1 -10h7m-7 22h7m1 2h7m-4 -25h7m-4 6h7m-4 13h7m22 1h7m26 -18h7m-3 13h7m8 -7h7m-7 4h7m1 17h7m5 -13h7m-1 -15h7m-3 24h7m-3 -19h7m-2 15h7m-5 5h7m13 -22h7m2 7h7m-4 -2h7m19 4h7m-1 12h7m-2 -22h7m-316 38h7m16 -6h7m0 23h7m-4 -6h7m16 -7h7m-1 0h7m10 -14h7m-1 29h7m10 -1h7m5 -18h7m-6 -4h7m16 21h7m-6 -11h7m-2 10h7m-4 0h7m-2 -1h7m-6 -18h7m3 9h7m7 -1h7m-2 -13h7m-3 9h7m-6 10h7m6 8h7m0 -12h7m1 -4h7m-6 -6h7m-1 9h7m1 -13h7m-4 21h7m-5 5h7m-6 -9h7m-6 -2h7m10 -18h7m-5 26h7m-2 -17h7m-5 -6h7m4 17h7m11 6h7m1 -3h7m0 -6h7m11 -5h7m1 8h7m-3 0h7m-6 8h7m11 -28h7m-359 45h7m-1 -10h7m-5 13h7m20 3h7m0 -14h7m35 0h7m3 -2h7m-1 23h7m-1 -10h7m-5 -2h7m-6 -11h7m4 -5h7m-4 8h7m5 -6h7m-7 4h7m0 -6h7m-6 23h7m-2 -18h7m-4 1h7m-2 -1h7m-3 18h7m2 -7h7m23 -12h7m-7 13h7m-1 6h7m-7 1h7m0 3h7m0 -19h7m-1 3h7m-3 13h7m-7 -15h7m-7 17h7m-3 -16h7m0 -3h7m-2 -1h7m11 13h7m-3 1h7m3 2h7m-3 6h7m-3 -4h7m-4 4h7m0 -12h7m-1 -8h7m-3 19h7m13 -23h7m-1 11h7m-1 -13h7m-374 32h7m59 22h7m-4 -12h7m5 2h7m17 -2h7m-2 -8h7m-2 12h7m-4 -6h7m-6 -11h7m-2 8h7m0 10h7m-4 -14h7m-7 22h7m-6 -3h7m21 -2h7m6 5h7m0 -24h7m17 6h7m1 -4h7m0 14h7m-7 -6h7m3 5h7m0 -1h7m12 -13h7m-5 18h7m-5 -3h7m5 -3h7m-3 10h7m28 -5h7m-3 -2h7m-4 8h7m0 -13h7m9 -5h7m-420 31h7m5 16h7m28 -5h7m4 -10h7m5 10h7m50 -22h7m11 0h7m8 17h7m-4 2h7m11 -8h7m-5 -6h7m11 21h7m-4 4h7m16 -6h7m45 4h7m-7 -27h7m0 23h7m0 -8h7m-3 3h7m-3 -11h7m-4 3h7m-6 7h7m-5 -17h7m-6 13h7m4 -11h7m1 16h7m33 -1h7m-1 -11h7m4 -5h7m3 6h7m-3 1h7m-6 12h7m-283 19h7m37 -4h7m26 17h7m18 -3h7m9 -11h7m17 20h7m1 -8h7m8 6h7m12 -18h7m-1 -5h7m-3 2h7m-6 -1h7m-4 5h7m0 9h7m1 -17h7m-1 1h7m-4 1h7m3 1h7m27 2h7m-1 -4h7m-411 41h7m53 -12h7m64 22h7m-6 4h7m6 -15h7m4 7h7m37 -9h7m0 4h7m-3 2h7m-1 -9h7m-5 -6h7m8 26h7m6 -7h7m-1 -2h7m-4 2h7m7 7h7m-3 -10h7m-7 1h7m-4 -15h7m-6 -1h7m-5 3h7m-4 11h7m-2 9h7m-2 -24h7m0 6h7m-6 1h7m7 12h7m-3 1h7m11 -14h7m1 -7h7m-5 28h7m1 -14h7m-7 -13h7m-415 57h7m101 -28h7m12 24h7m51 -13h7m-2 -12h7m23 19h7m-1 8h7m-4 -11h7m23 -10h7m-6 14h7m0 -15h7m6 13h7m12 -4h7m15 12h7m14 -18h7m16 12h7m-6 -20h7m-366 33h7m67 15h7m57 3h7m65 1h7m32 -10h7m17 -11h7m15 9h7m4 1h7m-3 8h7m8 3h7m-1 -20h7m11 9h7m-133 40h7m2 4h7m10 -14h7m2 5h7m11 -3h7m29 5h7m5 -14h7m-6 2h7m25 -3h7m-285 52h7m153 -15h7m22 -8h7m11 9h7m-5 4h7m-6 -10h7m-6 3h7m-168 24h7m146 2h7m-299 41h7m-3 -14h7m139 20h7m107 -5h7m-217 38h7m104 14h7" stroke="#ffffff" stroke-width="7" fill="none" opacity="0.90"/>
<path transform="scale(.1)" d="M0 0m2258 6434h7m14 -11h7m2 6h7m1 4h7m-5 0h7m6 2h7m3 -4h7m18 -17h7m-112 27h7m-4 6h7m0 11h7m7 1h7m3 6h7m-7 -9h7m-1 -5h7m-2 1h7m-3 -13h7m-5 13h7m-5 -8h7m-7 12h7m-5 -2h7m-7 -6h7m-7 1h7m-3 14h7m6 -15h7m-3 -7h7m-1 18h7m7 2h7m-5 -11h7m-2 -11h7m-7 17h7m4 -10h7m17 -7h7m-6 0h7m-6 8h7m-177 44h7m-5 -7h7m-7 8h7m-4 3h7m11 -22h7m13 -1h7m-5 17h7m-5 -20h7m-7 3h7m-7 -4h7m-3 24h7m-6 -13h7m-6 10h7m-6 -21h7m-7 -1h7m3 2h7m-2 15h7m1 -10h7m-2 2h7m0 4h7m2 11h7m-6 -25h7m0 12h7m-2 11h7m1 -12h7m-1 -3h7m-4 6h7m-5 -5h7m-6 -8h7m-1 8h7m2 19h7m1 -1h7m-6 -21h7m2 6h7m-2 -11h7m-226 55h7m15 -20h7m-3 17h7m-6 -4h7m-2 -12h7m-6 11h7m3 6h7m-4 -13h7m7 -5h7m-7 -4h7m-1 25h7m-7 -25h7m-7 14h7m-4 -3h7m-3 -3h7m-4 -8h7m-1 3h7m-3 15h7m-3 0h7m-2 -3h7m-6 -14h7m-3 11h7m-6 -11h7m-6 14h7m19 -11h7m-3 -1h7m-5 12h7m-6 10h7m5 -12h7m-5 4h7m2 3h7m5 -12h7m1 10h7m-4 -19h7m14 3h7m8 22h7m-2 -2h7m-205 8h7m5 9h7m7 6h7m-2 -16h7m-7 8h7m22 5h7m-5 14h7m-7 -20h7m-7 16h7m0 -20h7m1 7h7m20 -4h7m-7 7h7m36 7h7m-4 2h7m-6 1h7m2 -25h7m-5 26h7m-7 -11h7m0 -7h7m2 -5h7m-238 35h7m1 11h7m8 -7h7m13 -10h7m28 10h7m29 6h7m-160 39h7m87 -17h7m76 16h7m-3 -5h7m-189 34h7m33 0h7m77 -17h7m59 10h7m65 -6h7m-234 28h7m98 1h7m3 7h7m-133 16h7m-4 21h7m2 -9h7m46 -7h7m4 19h7m86 -21h7m-211 29h7m15 6h7m11 15h7m20 -15h7m43 3h7m12 7h7m53 3h7m-167 19h7" stroke="#ffffff" stroke-width="7" fill="none" opacity="0.90"/>
<path transform="scale(.1)" d="M0 0m2144 6134h6m-51 7h6m75 -3h6m-119 32h6m4 19h6m24 4h6m-71 11h6m16 12h6m-83 35h6m-4 4h6m8 -14h6m99 -3h6m-2 13h6m38 -23h6m-129 57h6m35 -16h6m2 3h6m74 0h6m-316 35h6m45 -4h6m40 5h6m4 -18h6m22 9h6m12 13h6m0 -12h6m0 10h6m80 -17h6m23 18h6m-335 12h6m33 18h6m65 1h6m104 -12h6m-5 -5h6m129 6h6m-4 10h6m4 -8h6m-5 -7h6m-308 25h6m5 7h6m-1 11h6m35 -13h6m2 -8h6m-4 -3h6m26 10h6m22 19h6m-3 -26h6m35 8h6m1 -6h6m46 -1h6m2 25h6m26 -26h6m13 13h6m82 -5h6m-415 34h6m0 14h6m1 -13h6m-2 7h6m3 -11h6m24 17h6m14 -8h6m77 -11h6m13 20h6m34 -26h6m17 7h6m12 4h6m29 14h6m-1 -10h6m67 -4h6m33 -8h6m-435 51h6m10 -13h6m23 14h6m20 -5h6m20 -13h6m-4 -10h6m36 22h6m-3 -8h6m17 0h6m23 -8h6m-4 16h6m-1 -14h6m-2 6h6m11 8h6m15 -8h6m-4 -1h6m31 15h6m40 -26h6m19 18h6m-402 14h6m-5 22h6m25 1h6m3 -20h6m3 7h6m15 13h6m34 -27h6m-1 7h6m21 16h6m16 6h6m74 -11h6m-5 -15h6m-1 19h6m30 -7h6m4 7h6m53 -4h6m-367 20h6m16 1h6m3 4h6m-5 -13h6m5 28h6m28 -8h6m80 8h6m16 -23h6m13 2h6m-6 14h6m22 -2h6m9 -7h6m28 -3h6m2 -7h6m1 21h6m32 -22h6m19 13h6m-415 32h6m33 11h6m107 -26h6m-6 -1h6m13 18h6m7 11h6m52 -24h6m76 12h6m16 -4h6m39 -13h6m44 7h6m-454 44h6m7 3h6m6 -5h6m21 -4h6m4 7h6m14 7h6m8 -8h6m5 -1h6m64 8h6m15 -13h6m3 -7h6m17 7h6m38 -9h6m-2 -4h6m47 7h6m-311 46h6m-5 -12h6m20 -2h6m1 -6h6m-3 1h6m-2 14h6m2 4h6m47 -3h6m-5 3h6m2 -3h6m46 1h6m19 -6h6m5 -4h6m-3 14h6m17 -25h6m11 3h6m-6 4h6m10 2h6m6 10h6m2 8h6m10 -17h6m10 10h6m35 -4h6m-1 -15h6m-386 38h6m97 -10h6m98 1h6m4 14h6m21 -4h6m-4 -10h6m17 7h6m32 -4h6m-2 11h6m-268 20h6m-3 12h6m9 8h6m5 -5h6m13 -11h6m19 -4h6m-3 -4h6m-4 27h6m76 -27h6m24 25h6m3 2h6m6 -2h6m-233 9h6m10 11h6m110 -5h6m132 -2h6m-94 37h6m76 3h6m-213 11h6m124 5h6" stroke="#8af2f4" stroke-width="6" fill="none" opacity="0.75"/>
<path transform="scale(.1)" d="M0 0m1888 6307h6m-4 5h6m-3 -11h6m-5 5h6m-2 1h6m-80 33h6m-2 -4h6m28 7h6m14 -24h6m-5 12h6m-3 -5h6m1 -1h6m-5 -2h6m-1 -1h6m2 -3h6m-5 12h6m-6 2h6m6 -11h6m-2 -7h6m-110 58h6m4 -2h6m0 -7h6m5 -13h6m-4 20h6m-5 -11h6m-3 -12h6m0 3h6m2 -5h6m-2 13h6m-78 32h6m10 -6h6m0 2h6m5 6h6m3 -13h6m13 5h6" stroke="#b6ee9a" stroke-width="6" fill="none" opacity="0.90"/>
</g>
<g>
<polygon points="216.0,608.5 223.0,604.0 229.5,597.0 237.5,594.5 244.0,589.0 252.0,586.5 258.5,582.0 262.0,578.0 266.0,577.0 273.0,582.0 280.0,585.0 283.0,592.0 281.0,600.0 274.0,603.5 265.0,607.0 255.0,612.5 245.0,619.0 236.0,625.5 229.0,629.5 225.5,626.0 221.5,619.5 221.5,613.5" fill="#ee8679" filter="url(#b1)" opacity="0.9"/>
<polygon points="240.5,642.0 246.0,634.0 253.0,627.0 261.0,620.5 270.0,614.0 278.0,611.0 282.0,620.0 281.0,632.0 277.0,637.5 269.0,641.5 258.0,645.5 247.0,647.0 242.0,646.0" fill="#ee8c80" filter="url(#b1)" opacity="0.9"/>
<polygon points="266.0,582.0 272.0,582.5 279.0,585.0 285.0,588.5 289.5,594.0 292.5,600.0 294.4,606.0 294.0,612.0 289.0,617.5 282.5,622.0 280.5,629.0 277.0,635.0 271.0,638.5 266.0,634.0 270.0,626.0 275.0,618.0 276.0,609.0 272.0,600.0 268.0,592.0 264.0,586.0" fill="#e8503f" filter="url(#b2)" opacity="0.9"/>
<path transform="scale(.1)" d="M0 0m2614 5768h6m8 -13h6m-1 19h6m3 -7h6m-4 4h6m6 2h6m3 -7h6m-5 9h6m-89 26h6m3 -11h6m-5 11h6m2 -10h6m-3 -3h6m-4 9h6m-1 -11h6m2 15h6m-2 -1h6m-4 -8h6m-6 10h6m-3 -7h6m-1 8h6m-2 -19h6m-5 3h6m2 10h6m-5 -20h6m-6 11h6m-4 1h6m-3 -10h6m-4 22h6m-4 -23h6m-1 7h6m-5 11h6m-4 -13h6m-1 16h6m-2 1h6m-4 3h6m-6 -8h6m-3 -13h6m-5 21h6m-4 -19h6m-2 12h6m-2 -13h6m1 16h6m-4 -7h6m3 1h6m-1 3h6m-151 31h6m-2 -14h6m-5 20h6m-3 -15h6m-2 15h6m-6 -3h6m-5 -11h6m-3 2h6m-2 10h6m-2 -17h6m-2 2h6m-4 7h6m-4 1h6m-6 -12h6m-1 20h6m-5 -5h6m-5 -13h6m2 16h6m-6 -11h6m-6 3h6m0 7h6m-5 -13h6m-3 -1h6m-6 -9h6m-5 2h6m-2 5h6m-6 20h6m-4 -7h6m-3 -19h6m-6 10h6m-2 13h6m-5 -10h6m-6 -13h6m-5 3h6m-3 0h6m-5 21h6m-5 1h6m-5 -16h6m-2 -2h6m-4 1h6m-6 -3h6m-5 -6h6m-4 10h6m-5 5h6m-1 14h6m-4 -8h6m-4 -11h6m2 2h6m-3 15h6m-6 -18h6m-3 -5h6m-6 3h6m-3 3h6m3 -6h6m-5 9h6m-5 -8h6m-6 14h6m-5 -17h6m-5 9h6m-3 5h6m-3 12h6m-1 -7h6m-2 -10h6m-5 8h6m-4 -2h6m-5 1h6m-5 7h6m2 -19h6m5 12h6m-5 -14h6m0 16h6m-5 -1h6m-6 -13h6m-5 9h6m-3 13h6m-6 -10h6m0 7h6m-6 -21h6m-6 2h6m-5 8h6m-4 2h6m-6 8h6m-1 -1h6m-6 -1h6m-5 2h6m-6 4h6m4 -9h6m-5 7h6m0 -12h6m-6 9h6m2 -1h6m-4 5h6m20 -10h6m-318 28h6m23 11h6m-5 -8h6m9 -18h6m-2 5h6m-6 -4h6m-2 27h6m-4 -21h6m-4 3h6m-2 5h6m4 -13h6m-3 16h6m-5 -15h6m-5 3h6m-1 -1h6m-5 17h6m-5 -3h6m-3 9h6m-2 -29h6m3 20h6m-6 -2h6m-5 -5h6m-3 -8h6m-6 20h6m-5 0h6m-3 -6h6m-4 -19h6m-5 13h6m-6 7h6m-4 -8h6m-4 0h6m-5 3h6m-5 -14h6m-4 11h6m-6 3h6m-1 -7h6m-5 3h6m-4 17h6m-1 -9h6m-1 1h6m-5 1h6m-6 -7h6m-5 -2h6m-4 16h6m3 -25h6m-1 18h6m-4 -14h6m-3 -2h6m-4 21h6m-4 -20h6m-6 23h6m-6 -12h6m-2 9h6m-3 -22h6m-3 9h6m-4 5h6m-5 5h6m-5 0h6m-5 5h6m-1 -11h6m-4 -14h6m-2 -2h6m-2 21h6m-6 0h6m-5 -21h6m-4 3h6m-6 -4h6m-5 12h6m-4 -1h6m-5 6h6m-4 8h6m1 -19h6m-1 12h6m-6 -16h6m-3 10h6m-3 -8h6m-6 6h6m-4 10h6m-3 -11h6m-4 6h6m-3 3h6m-4 -4h6m-6 16h6m-4 -22h6m7 6h6m5 11h6m-1 -20h6m-4 10h6m-5 12h6m4 0h6m-6 -24h6m-1 20h6m-6 -8h6m-4 2h6m-1 10h6m-5 -14h6m3 -6h6m-2 23h6m-5 -27h6m-5 5h6m0 5h6m-3 9h6m-4 -2h6m-5 -1h6m0 10h6m-5 -11h6m-379 40h6m-3 -3h6m-3 -4h6m-3 -16h6m0 -3h6m-4 24h6m-3 -6h6m-5 -17h6m-3 7h6m-5 10h6m-1 7h6m-4 -1h6m-4 3h6m-5 -1h6m1 -25h6m-6 17h6m-6 6h6m-5 -1h6m-4 -18h6m-4 -5h6m-6 17h6m-4 -1h6m-5 -9h6m-5 10h6m-5 8h6m0 -3h6m-6 -18h6m-5 -2h6m-4 13h6m-3 -2h6m-3 11h6m-2 3h6m-5 -15h6m-1 -2h6m-4 -6h6m-3 15h6m-4 -5h6m-4 11h6m-6 1h6m-6 -10h6m-4 5h6m0 -13h6m-2 6h6m-2 12h6m-2 1h6m-5 -1h6m-4 -23h6m-6 -2h6m-4 19h6m-5 -9h6m-6 -6h6m-5 -5h6m-5 5h6m-2 0h6m7 5h6m-6 13h6m-4 -14h6m-4 8h6m-6 -5h6m-6 14h6m-3 -26h6m-4 13h6m-3 -1h6m-6 8h6m-6 -6h6m3 -3h6m-6 11h6m-5 -23h6m-6 20h6m-6 -17h6m1 16h6m-3 -11h6m-1 18h6m-2 -12h6m-5 -12h6m-4 17h6m-6 10h6m2 -28h6m-3 10h6m-4 2h6m-1 -13h6m-6 21h6m-4 -16h6m-4 5h6m3 14h6m-5 0h6m-5 -2h6m5 -17h6m-5 6h6m-4 -6h6m-5 20h6m-6 -15h6m-6 8h6m-5 8h6m-5 -5h6m-5 -7h6m-3 -15h6m-3 17h6m-5 5h6m-5 -14h6m-5 8h6m-5 11h6m-4 1h6m-5 -1h6m-4 -8h6m-4 -14h6m-5 -3h6m-5 26h6m-1 -4h6m-4 -20h6m0 15h6m-6 -13h6m-6 4h6m-5 17h6m-3 -5h6m-2 6h6m-5 -20h6m-3 20h6m-6 -10h6m-6 2h6m-5 6h6m-5 -23h6m-4 12h6m-4 -2h6m-5 13h6m-5 -3h6m-5 -4h6m-2 -12h6m-2 5h6m-5 16h6m-5 -15h6m-2 1h6m-6 -12h6m-5 25h6m-3 -4h6m-6 -20h6m-5 8h6m-6 -10h6m-2 20h6m-6 -19h6m-2 2h6m-4 12h6m-6 9h6m-4 4h6m-5 -12h6m-6 -14h6m-5 22h6m-5 4h6m-5 0h6m-5 -11h6m-3 -4h6m-5 8h6m-4 -19h6m-2 19h6m-4 -7h6m-4 -8h6m-6 14h6m-4 3h6m-4 -11h6m-5 5h6m-3 -1h6m-1 3h6m-4 2h6m-6 -19h6m-6 25h6m-4 -4h6m-3 -7h6m-4 3h6m-1 -8h6m3 2h6m-3 -5h6m0 19h6m-1 0h6m-5 -7h6m0 -11h6m-2 17h6m0 -26h6m-6 3h6m-3 9h6m-6 -5h6m-3 13h6m-3 4h6m-1 -3h6m-6 1h6m-3 -12h6m-1 0h6m-476 48h6m-1 -7h6m0 -6h6m-3 9h6m-6 -4h6m-4 -5h6m-6 -4h6m-5 9h6m-4 -5h6m-5 10h6m10 -1h6m-6 -13h6m-3 8h6m-6 -11h6m-5 3h6m-4 -9h6m-4 16h6m-6 11h6m-5 -12h6m-6 -2h6m-3 -11h6m-4 20h6m10 -5h6m-5 -3h6m-5 -2h6m-5 12h6m-3 -20h6m-5 16h6m-3 -2h6m0 -19h6m-5 9h6m-4 9h6m4 6h6m-2 -3h6m-4 -6h6m-6 11h6m-5 -10h6m-6 6h6m3 -1h6m-3 6h6m-5 -13h6m-2 -1h6m-3 3h6m2 -1h6m-5 -3h6m-4 -1h6m-6 12h6m-6 -13h6m-4 2h6m-3 0h6m-2 -3h6m-4 12h6m-5 -17h6m-4 11h6m-4 -10h6m-4 19h6m1 -24h6m-5 20h6m-6 -12h6m0 18h6m-1 -17h6m-5 1h6m-4 17h6m-4 -22h6m-6 3h6m-2 2h6m-5 5h6m10 13h6m-4 -28h6m-2 19h6m7 -13h6m-3 -1h6m-1 21h6m-5 -1h6m-3 -1h6m0 -23h6m3 20h6m-3 4h6m-5 -6h6m-3 -6h6m-5 3h6m-4 -10h6m-2 13h6m-6 -15h6m-3 21h6m-5 -10h6m-5 7h6m-5 -21h6m-6 3h6m-5 5h6m-5 3h6m-5 3h6m-5 -8h6m-5 2h6m-3 8h6m-2 6h6m-6 2h6m-4 -10h6m-2 9h6m2 3h6m-5 0h6m2 -21h6m-5 13h6m-3 1h6m-3 7h6m0 -3h6m-5 -2h6m-4 -2h6m-6 -3h6m-3 1h6m-5 -11h6m-6 0h6m-3 16h6m-5 -2h6m-4 -3h6m-3 3h6m-3 0h6m-3 -1h6m-6 -14h6m-4 1h6m-6 11h6m-2 -2h6m-6 8h6m-4 -15h6m-4 -5h6m-4 22h6m-5 -22h6m-6 19h6m-2 -4h6m-5 -8h6m-4 14h6m-6 -6h6m-3 3h6m-3 5h6m-5 -13h6m-6 13h6m-4 -13h6m0 -10h6m-2 18h6m-2 -23h6m-5 28h6m-5 -20h6m-6 14h6m-1 -17h6m-6 19h6m-4 -12h6m-3 -8h6m-4 9h6m-5 10h6m-2 -7h6m-5 -12h6m-3 24h6m-5 -9h6m-6 -9h6m-6 -10h6m2 5h6m-6 24h6m-5 -26h6m-6 15h6m-6 -6h6m-5 1h6m-5 7h6m-6 -3h6m-3 -17h6m-6 26h6m-3 -6h6m-4 -11h6m-2 -9h6m-3 24h6m-4 -15h6m-6 -4h6m-4 21h6m-6 -18h6m-5 -1h6m-1 4h6m-5 -3h6m-6 0h6m-4 18h6m-2 -4h6m-5 2h6m-1 -4h6m-5 5h6m-4 -15h6m-4 19h6m-2 -8h6m-5 2h6m-4 -5h6m-5 -15h6m-4 10h6m-5 1h6m-4 13h6m-5 -4h6m-4 -20h6m-6 18h6m-6 -16h6m-5 19h6m-4 -17h6m-3 15h6m2 -5h6m-4 0h6m0 10h6m-2 -19h6m5 2h6m-585 48h6m8 -3h6m-5 0h6m23 0h6m2 -4h6m-4 -12h6m-6 14h6m-5 0h6m-5 -4h6m-3 5h6m-4 -3h6m-1 6h6m3 -17h6m-2 13h6m-1 3h6m1 -1h6m0 -12h6m1 -6h6m-5 16h6m-6 -1h6m-5 -6h6m-5 7h6m-3 -7h6m-5 -9h6m-5 -8h6m-6 5h6m-1 9h6m-4 -10h6m-1 16h6m-6 8h6m-4 -6h6m-4 -3h6m-3 -6h6m-4 -10h6m-5 21h6m-4 1h6m2 4h6m-4 -3h6m2 -9h6m-5 -10h6m4 -3h6m-3 24h6m-4 -1h6m-3 -20h6m-2 -7h6m-1 10h6m-6 -10h6m-4 11h6m-5 13h6m-1 4h6m-6 -15h6m0 -7h6m-5 2h6m4 12h6m-6 -16h6m-4 20h6m-4 -6h6m-5 3h6m-5 4h6m2 -6h6m-3 -14h6m-5 5h6m-4 -1h6m-5 16h6m1 -20h6m-2 6h6m-2 3h6m0 -13h6m-3 2h6m0 8h6m-2 16h6m-4 -21h6m-3 10h6m2 -5h6m-6 -6h6m-6 16h6m-3 -16h6m-5 22h6m-5 -9h6m-3 -3h6m-6 7h6m-4 -21h6m-5 25h6m-3 -16h6m-2 -1h6m-3 14h6m-5 -22h6m-6 21h6m-6 -14h6m-3 -7h6m-4 10h6m-1 -3h6m-5 10h6m-5 11h6m-5 -17h6m-4 12h6m-6 -9h6m0 -10h6m0 22h6m-6 -18h6m-2 -4h6m-1 12h6m-6 -4h6m-3 8h6m-4 -12h6m-4 12h6m-4 -1h6m-5 -13h6m-6 17h6m-3 -24h6m-2 29h6m-4 -24h6m0 10h6m-3 -3h6m-4 16h6m-3 -6h6m-3 -2h6m-5 10h6m-5 -24h6m-4 12h6m-6 -1h6m-5 7h6m-4 -3h6m-5 -10h6m-4 -9h6m-4 2h6m2 24h6m0 0h6m-1 -4h6m-5 -12h6m-3 15h6m-6 -9h6m-5 -16h6m-1 19h6m-5 1h6m-5 -22h6m-4 29h6m-6 -20h6m-3 -1h6m-4 16h6m-4 -17h6m-4 5h6m-3 11h6m-5 -10h6m-5 9h6m-3 -21h6m-4 1h6m-2 0h6m-5 12h6m-3 -10h6m-4 11h6m-1 8h6m-6 -10h6m-5 9h6m-5 -10h6m-6 13h6m-2 -2h6m-3 -18h6m-5 5h6m-6 15h6m-5 -13h6m-4 -6h6m-6 5h6m2 14h6m-3 -7h6m-5 -11h6m-5 11h6m-2 -10h6m-4 0h6m-5 3h6m-5 8h6m-6 6h6m-6 -7h6m-5 -16h6m-4 5h6m-6 18h6m-4 5h6m-6 -6h6m-5 -11h6m-2 -7h6m-4 20h6m-4 -10h6m-4 -10h6m-1 4h6m-4 5h6m1 3h6m-4 6h6m-6 -7h6m-4 -14h6m-6 10h6m-3 3h6m1 4h6m-5 9h6m-4 -4h6m-6 -15h6m0 4h6m-3 15h6m-5 -2h6m-2 -25h6m-6 22h6m-4 -7h6m-2 -6h6m-1 -5h6m-6 2h6m-6 13h6m-2 -15h6m-4 21h6m3 0h6m-5 -13h6m-3 -9h6m-5 23h6m-5 -13h6m-5 13h6m-5 -4h6m-640 33h6m10 -5h6m4 5h6m-2 -25h6m-4 13h6m0 8h6m9 -15h6m15 12h6m-2 -10h6m-1 12h6m-4 8h6m-4 0h6m-4 -15h6m-3 0h6m6 11h6m-3 -11h6m-5 10h6m6 1h6m-5 -24h6m-3 25h6m-4 -5h6m-1 -20h6m-5 1h6m-6 7h6m2 15h6m-5 -4h6m0 2h6m-3 2h6m-6 -12h6m-1 -8h6m-4 9h6m-4 15h6m-4 -21h6m2 0h6m-4 -5h6m-5 12h6m-3 3h6m-1 -7h6m-2 -3h6m-5 6h6m2 -9h6m-4 2h6m1 6h6m-5 16h6m-3 -1h6m-6 -11h6m-4 -10h6m-5 -3h6m-2 -3h6m-4 24h6m-4 -7h6m-3 -5h6m6 8h6m-5 8h6m-5 -11h6m-2 6h6m-5 2h6m-6 0h6m-4 -21h6m5 -3h6m-5 24h6m-4 -3h6m-4 -6h6m-5 -14h6m-1 18h6m-5 -8h6m1 -8h6m-5 23h6m-4 -21h6m-1 14h6m-6 -2h6m-2 7h6m-1 -7h6m-4 8h6m-5 -25h6m-6 13h6m-5 4h6m-4 -13h6m-5 5h6m-1 16h6m-4 -22h6m-4 15h6m-6 -9h6m-4 -8h6m-2 3h6m0 21h6m-4 -16h6m-4 -3h6m-5 21h6m-4 -8h6m-6 -15h6m-6 15h6m-4 5h6m-6 -18h6m-5 7h6m-4 12h6m-6 -3h6m0 -8h6m-5 -15h6m-2 19h6m-5 2h6m-4 -19h6m-5 26h6m-3 -27h6m-5 17h6m-3 7h6m-6 -2h6m-5 -7h6m-3 -12h6m-6 25h6m0 -19h6m1 11h6m-5 -21h6m-5 9h6m-3 7h6m-5 -1h6m-5 0h6m-6 -16h6m-3 11h6m-5 -5h6m-5 18h6m-5 6h6m-3 -2h6m-6 -19h6m-4 -4h6m-5 21h6m-4 -15h6m-6 -11h6m-6 23h6m-4 -23h6m-6 21h6m-4 -4h6m-2 0h6m2 10h6m-2 -6h6m-5 -7h6m-5 -10h6m-5 -2h6m-6 20h6m-6 -11h6m-5 15h6m-4 -15h6m-3 17h6m-4 -11h6m-4 -10h6m-1 12h6m-4 7h6m-4 -18h6m-5 7h6m-3 -4h6m-4 4h6m-5 11h6m-4 -20h6m-5 14h6m-3 -11h6m-3 -5h6m-6 11h6m-2 12h6m-5 -27h6m-3 7h6m-4 21h6m-3 -9h6m-6 -18h6m-5 10h6m-6 12h6m-3 -15h6m2 12h6m-6 -1h6m-5 -6h6m-6 5h6m-5 1h6m-6 -12h6m-6 6h6m-5 -3h6m-5 -5h6m-2 -4h6m-5 21h6m-5 -2h6m-4 -11h6m-3 17h6m-4 -17h6m-4 21h6m-3 -1h6m-3 -2h6m-3 -13h6m-4 -12h6m-6 2h6m-6 6h6m2 19h6m-4 -17h6m-3 -7h6m1 17h6m-1 -6h6m-5 -3h6m-3 -3h6m-4 -3h6m-4 12h6m-5 4h6m-6 -11h6m-5 11h6m-6 -2h6m-6 0h6m-2 7h6m2 -27h6m-6 22h6m-5 3h6m-4 -1h6m-4 -24h6m-6 0h6m-2 24h6m-5 -14h6m-5 7h6m-5 7h6m-5 -1h6m-4 0h6m-4 -15h6m0 10h6m-3 -2h6m-6 -10h6m-6 14h6m-6 -5h6m-4 -13h6m-4 9h6m-4 -9h6m-2 -3h6m-5 5h6m-6 -1h6m2 9h6m-3 2h6m-4 8h6m-3 0h6m-6 5h6m-6 -7h6m-5 0h6m-5 7h6m0 -11h6m-3 -13h6m-6 16h6m-4 2h6m-6 8h6m1 -8h6m-6 1h6m-3 -10h6m-6 9h6m-5 2h6m-2 -11h6m-2 14h6m-5 -10h6m-5 12h6m-4 -10h6m8 -2h6m-5 -7h6m-4 20h6m-4 -7h6m0 7h6m-680 28h6m-3 -25h6m-4 24h6m-6 -14h6m19 6h6m-2 2h6m-5 -19h6m-5 16h6m-5 -2h6m-5 -6h6m-6 -3h6m-4 0h6m3 -6h6m-3 23h6m-3 -22h6m-6 8h6m-6 13h6m-5 6h6m2 -10h6m0 -5h6m-3 -6h6m3 -8h6m-2 30h6m6 -27h6m-4 17h6m-4 -4h6m-4 -6h6m-5 9h6m-4 6h6m-4 -9h6m-5 -8h6m-6 2h6m-4 7h6m-2 -9h6m-1 18h6m-3 -17h6m-6 -4h6m-2 13h6m3 -9h6m-6 14h6m0 -17h6m-5 14h6m-5 4h6m3 -4h6m-6 -6h6m-3 8h6m-3 -6h6m-5 -3h6m-4 15h6m-5 -6h6m4 -1h6m-3 0h6m-1 -20h6m-2 11h6m-6 8h6m-4 -18h6m-2 8h6m3 -3h6m-5 8h6m-1 -4h6m-5 -9h6m-3 13h6m-2 -10h6m-6 20h6m1 -9h6m-4 -2h6m-4 5h6m-4 -12h6m-3 -2h6m0 16h6m-5 -2h6m-5 -1h6m1 -1h6m-4 -15h6m-5 24h6m-6 -19h6m-4 -5h6m-6 24h6m1 -19h6m-6 12h6m-1 -14h6m-5 14h6m-6 9h6m-5 -17h6m-2 -5h6m-5 18h6m-6 4h6m-4 -20h6m-5 12h6m-5 -13h6m-4 2h6m-4 -5h6m9 21h6m-1 -4h6m-3 -12h6m-2 9h6m-3 -11h6m-4 6h6m-5 -3h6m0 14h6m-6 -23h6m-5 1h6m-6 26h6m-2 -13h6m-5 3h6m-3 2h6m-2 -5h6m0 -8h6m-5 17h6m-1 -23h6m-5 17h6m-3 0h6m-6 -14h6m-4 5h6m-5 16h6m-5 -11h6m1 4h6m-4 3h6m3 5h6m0 -13h6m-5 10h6m-3 -16h6m-3 9h6m0 -10h6m-4 -6h6m-5 15h6m-2 12h6m-1 -20h6m-5 -2h6m0 2h6m-4 10h6m-3 -7h6m-6 18h6m-5 -8h6m-6 9h6m-5 -16h6m-5 -5h6m-6 -4h6m-6 4h6m-5 19h6m-5 -20h6m-6 5h6m-1 1h6m-6 17h6m-4 -11h6m-5 10h6m-5 -19h6m-4 8h6m-1 -14h6m-5 20h6m-3 -18h6m-5 24h6m-3 -1h6m-6 -2h6m-4 -24h6m-6 24h6m-6 -3h6m0 2h6m-2 -23h6m-2 25h6m-1 -1h6m-6 -17h6m-5 17h6m-3 -8h6m-1 -1h6m-4 -7h6m-3 17h6m-3 -10h6m-6 7h6m-5 -3h6m-1 4h6m-4 -7h6m-6 0h6m0 -18h6m-3 21h6m-5 -2h6m-6 -6h6m-4 -7h6m-6 16h6m-5 3h6m2 -10h6m-3 -2h6m0 -13h6m-6 1h6m-4 5h6m-5 16h6m-6 6h6m-6 -24h6m-5 -4h6m-4 2h6m-5 6h6m-5 0h6m-6 2h6m-4 -9h6m-6 -1h6m-5 8h6m-2 19h6m-3 -10h6m-5 1h6m-3 -10h6m-3 20h6m-6 -15h6m-2 -3h6m-5 -6h6m-4 19h6m-4 -21h6m1 17h6m-5 -8h6m-5 18h6m-1 -12h6m-5 11h6m-4 -5h6m-2 -9h6m-3 -8h6m-4 16h6m-5 -10h6m-3 1h6m-5 -8h6m-1 22h6m2 -14h6m-4 11h6m-3 -20h6m-2 -3h6m-2 22h6m-4 -12h6m-3 2h6m-4 -2h6m-4 -7h6m-3 16h6m-5 -6h6m-5 -3h6m-6 9h6m3 -19h6m-5 15h6m-5 5h6m-4 -8h6m-4 1h6m-4 -6h6m-4 -5h6m-5 19h6m-2 0h6m-3 -18h6m-5 16h6m-5 -3h6m-6 -3h6m1 -14h6m-5 21h6m-4 -15h6m-2 17h6m-4 -20h6m-1 0h6m-4 12h6m-5 14h6m-715 24h6m26 -5h6m2 -3h6m-4 -3h6m-4 -13h6m7 10h6m-1 0h6m-3 20h6m-6 -24h6m-1 12h6m8 -12h6m-5 16h6m-2 -9h6m-4 13h6m-5 -17h6m-2 -1h6m-5 14h6m-5 -10h6m-1 -1h6m-5 -4h6m-2 17h6m4 -4h6m0 -6h6m-3 5h6m6 3h6m7 1h6m-4 -5h6m-5 -1h6m6 -8h6m-6 16h6m-3 -21h6m5 0h6m-4 8h6m-3 6h6m-6 8h6m-4 -14h6m-1 13h6m-3 -17h6m4 -2h6m-6 15h6m-4 0h6m-6 -19h6m-4 2h6m-6 23h6m-1 -2h6m-5 -24h6m8 16h6m-3 -3h6m-3 -9h6m-5 3h6m-1 -1h6m-3 21h6m-3 -6h6m-6 -20h6m-3 6h6m0 12h6m-3 6h6m-3 -19h6m-5 7h6m-3 3h6m-2 -1h6m0 -10h6m-2 -4h6m-5 18h6m-4 1h6m4 -9h6m0 9h6m-5 -10h6m-4 16h6m-3 -22h6m-6 22h6m-4 -10h6m0 -10h6m-5 22h6m-2 -14h6m-3 12h6m1 -12h6m-6 7h6m-6 -2h6m-4 2h6m0 -22h6m-6 29h6m-5 -8h6m-3 1h6m-2 -20h6m-3 -1h6m-2 15h6m-5 -15h6m-5 15h6m1 3h6m-1 -1h6m-6 -10h6m-2 14h6m-4 -6h6m-6 -7h6m-6 20h6m-5 -9h6m-5 8h6m8 -26h6m-2 24h6m-5 -23h6m2 19h6m-6 3h6m-5 -15h6m-3 -10h6m-3 17h6m-2 -16h6m-5 22h6m-1 -23h6m1 26h6m-5 -10h6m-2 -3h6m-3 -10h6m0 5h6m-5 11h6m-6 -17h6m-5 8h6m-5 0h6m-3 11h6m2 0h6m0 2h6m-6 -20h6m-2 2h6m-2 23h6m-2 -20h6m-4 15h6m-5 -10h6m-3 -1h6m-3 10h6m-4 -12h6m-4 -6h6m-4 -4h6m-4 3h6m-2 13h6m-4 -12h6m-2 -4h6m1 22h6m0 0h6m-5 -10h6m-5 -3h6m-5 -8h6m-5 16h6m-6 -17h6m-4 11h6m-2 9h6m-3 -8h6m1 5h6m-5 -5h6m-5 0h6m-2 -4h6m-5 3h6m1 8h6m-4 -17h6m4 3h6m0 19h6m-3 -1h6m-5 -17h6m-4 24h6m-5 -22h6m-6 18h6m-3 -20h6m-2 2h6m-6 4h6m-4 15h6m-4 -10h6m5 -17h6m-5 11h6m-1 10h6m-6 6h6m-1 -8h6m-6 -15h6m-1 -2h6m-6 2h6m-5 22h6m-1 -12h6m-2 -10h6m-6 21h6m-6 -13h6m-3 13h6m-4 -8h6m-1 -15h6m-3 22h6m-6 -7h6m-5 -15h6m-5 6h6m-2 2h6m-5 -2h6m-5 1h6m-6 10h6m-4 -10h6m-1 19h6m0 -23h6m-5 10h6m-4 2h6m-4 7h6m-5 4h6m-6 -23h6m-5 -4h6m-6 8h6m-3 6h6m-2 -2h6m-6 -12h6m-3 23h6m-4 -14h6m-5 -2h6m-5 16h6m-5 1h6m-5 -6h6m-5 9h6m-6 -18h6m-6 -4h6m-4 20h6m-4 -20h6m-2 23h6m-6 -2h6m2 -9h6m-4 -3h6m-6 -9h6m-3 18h6m-1 -14h6m-3 19h6m-6 -20h6m-6 20h6m1 -26h6m0 15h6m-5 -1h6m2 5h6m-764 36h6m-5 -3h6m19 -15h6m0 2h6m-2 1h6m5 11h6m-4 -3h6m7 -16h6m2 24h6m-5 -5h6m3 -16h6m5 -2h6m4 21h6m-5 -14h6m-5 -10h6m3 18h6m-5 9h6m16 -28h6m-4 9h6m5 2h6m0 -10h6m-6 3h6m-5 6h6m-4 15h6m-5 -14h6m12 13h6m-6 -2h6m15 -15h6m-3 17h6m-5 -7h6m-3 7h6m13 2h6m-3 -24h6m-5 5h6m-6 16h6m-2 -23h6m-5 20h6m-6 -13h6m0 0h6m-5 9h6m-4 7h6m-4 -9h6m-2 -8h6m-2 5h6m-4 3h6m-5 8h6m-5 -13h6m-1 3h6m-3 -13h6m-6 18h6m-5 -10h6m-5 3h6m-6 16h6m-6 -7h6m10 -1h6m-6 -10h6m-5 19h6m-5 -20h6m-5 13h6m-3 -20h6m-2 5h6m3 18h6m-3 -2h6m-5 -16h6m-4 15h6m-2 5h6m0 -24h6m-5 20h6m-5 -12h6m1 17h6m-3 -19h6m-5 5h6m1 11h6m-5 -10h6m-1 3h6m-4 -12h6m-3 11h6m-5 -15h6m-5 1h6m-5 8h6m-4 2h6m-6 -2h6m-5 -3h6m-3 10h6m-5 2h6m-6 -17h6m-3 23h6m-5 -18h6m-2 21h6m-2 -12h6m-5 -1h6m-4 -6h6m-3 10h6m-5 3h6m-6 -16h6m-2 21h6m-3 0h6m-3 -11h6m-4 -5h6m5 17h6m-5 1h6m-3 -22h6m-4 13h6m-1 6h6m-5 -26h6m-5 3h6m-6 3h6m1 -3h6m-1 8h6m-5 -7h6m-6 4h6m-2 21h6m-5 -25h6m-2 9h6m-5 -5h6m-5 19h6m-4 -13h6m-5 12h6m-5 -20h6m-4 -5h6m3 9h6m-3 8h6m6 4h6m-2 -12h6m-5 19h6m0 -27h6m-5 12h6m-1 -15h6m-3 10h6m-5 -7h6m-4 0h6m-6 0h6m-1 7h6m-6 15h6m-5 -23h6m-3 15h6m-4 -16h6m-4 28h6m-5 -28h6m-5 2h6m-5 4h6m-5 6h6m-4 -7h6m-5 19h6m-6 -17h6m-4 0h6m-2 0h6m-6 8h6m-2 7h6m-2 4h6m-1 -24h6m-6 6h6m-3 -1h6m-5 14h6m-5 2h6m-6 -22h6m-4 3h6m-6 15h6m-3 5h6m-3 -24h6m-1 3h6m-3 -1h6m-3 24h6m-6 -17h6m-4 -4h6m0 -1h6m-5 12h6m-4 -14h6m-5 2h6m-4 24h6m-5 -12h6m-5 9h6m-6 -7h6m-2 -8h6m-1 -7h6m-3 9h6m4 -6h6m-6 -4h6m-4 1h6m-5 8h6m-3 11h6m-4 -14h6m2 -5h6m-5 -1h6m-4 27h6m-6 -28h6m-6 10h6m-1 -12h6m-6 4h6m-5 4h6m-4 8h6m-2 6h6m-6 -7h6m-6 -3h6m-6 3h6m-3 -14h6m-4 12h6m-5 -7h6m-5 14h6m-4 6h6m-1 -24h6m-5 27h6m-3 -21h6m-6 -4h6m-6 21h6m-6 -19h6m-6 4h6m-5 11h6m-6 -7h6m-5 10h6m-5 -14h6m-5 -6h6m-6 23h6m-1 -22h6m-3 2h6m-5 3h6m-2 10h6m0 -8h6m-5 3h6m-5 -15h6m-3 22h6m-6 0h6m4 5h6m-3 -24h6m-5 13h6m-3 -3h6m-6 15h6m-5 -1h6m-3 -12h6m-6 -7h6m0 17h6m-3 -20h6m-4 -3h6m-6 7h6m-3 -8h6m-4 26h6m-6 -3h6m-4 -3h6m-4 7h6m-3 -6h6m-5 4h6m2 -17h6m-5 19h6m-5 -22h6m-5 3h6m-5 -3h6m-5 17h6m-4 -5h6m-5 -15h6m0 20h6m-6 -2h6m-4 -4h6m-1 6h6m-3 -11h6m-4 -6h6m-5 19h6m-5 -23h6m-6 17h6m-2 1h6m-4 1h6m-3 -4h6m-2 -2h6m9 -14h6m-785 49h6m-2 -15h6m-1 3h6m11 12h6m-1 -13h6m-2 14h6m2 6h6m-6 -12h6m-5 -2h6m8 17h6m12 -29h6m-6 12h6m-2 -2h6m16 12h6m-3 -9h6m-3 -14h6m-6 11h6m3 -2h6m-4 17h6m-5 -6h6m-1 -7h6m3 11h6m-6 -18h6m-1 5h6m-1 -9h6m-1 17h6m-3 -18h6m-2 25h6m-6 -8h6m1 -9h6m-2 -2h6m-1 20h6m-1 -19h6m-3 3h6m2 18h6m-5 -19h6m-4 16h6m-5 -15h6m-3 10h6m-1 -18h6m-6 7h6m6 7h6m-6 12h6m-4 -27h6m-1 12h6m-3 -13h6m-5 1h6m-3 5h6m-3 2h6m0 -5h6m-2 18h6m-6 -9h6m-6 5h6m-2 -1h6m-4 1h6m-5 -15h6m-1 7h6m-3 4h6m-4 12h6m-5 -17h6m-4 12h6m-5 -17h6m-4 16h6m-4 10h6m-6 -6h6m-3 -23h6m-3 5h6m-2 3h6m-4 7h6m5 -9h6m0 16h6m-3 -22h6m-5 28h6m6 -19h6m-5 2h6m-6 4h6m-1 -16h6m-6 26h6m1 -5h6m-5 -17h6m-5 1h6m-4 25h6m-4 -6h6m-6 -6h6m2 -7h6m-5 -2h6m-2 -5h6m0 11h6m-3 -13h6m-4 27h6m-1 -22h6m-5 7h6m-6 16h6m-5 -6h6m0 3h6m-6 -20h6m-1 15h6m-6 8h6m-5 -20h6m-1 7h6m-2 0h6m-3 2h6m-5 8h6m-6 -16h6m-3 7h6m-2 4h6m-2 -21h6m-5 16h6m-5 -16h6m-5 12h6m-3 13h6m-1 -7h6m-1 3h6m-5 8h6m-3 -18h6m-3 15h6m-3 -24h6m-3 21h6m-5 1h6m-5 -16h6m1 13h6m4 -10h6m-2 -4h6m-5 9h6m-5 -1h6m-4 13h6m-4 -24h6m-4 11h6m-3 9h6m-6 -18h6m-4 18h6m-5 -16h6m-6 3h6m1 1h6m-3 0h6m1 11h6m-4 -17h6m-2 11h6m-4 0h6m-5 -5h6m1 3h6m-1 -1h6m-2 -12h6m-6 18h6m-6 -15h6m-3 21h6m3 -16h6m1 2h6m1 11h6m-6 -8h6m9 -3h6m-5 1h6m1 16h6m-4 -10h6m-2 -1h6m-6 -13h6m-1 9h6m-4 3h6m-5 11h6m-6 -1h6m-2 -2h6m-5 0h6m-6 -18h6m-4 1h6m-4 16h6m-1 -3h6m-6 -11h6m-6 15h6m-4 -24h6m-2 28h6m-2 -28h6m-3 4h6m-5 11h6m-1 -10h6m-2 20h6m-6 -14h6m-5 -10h6m-6 -3h6m-6 16h6m-4 12h6m-2 -16h6m-6 -4h6m-3 8h6m-4 -15h6m-1 11h6m-4 -3h6m-5 -3h6m-2 11h6m-4 3h6m-3 -11h6m-1 -7h6m-3 18h6m-4 0h6m-6 -19h6m0 10h6m-6 -10h6m-5 17h6m-6 -4h6m-5 -9h6m-3 24h6m-3 -18h6m-2 17h6m-4 -27h6m-5 17h6m-6 -11h6m-4 14h6m-1 -21h6m-4 27h6m-5 -19h6m-6 8h6m-5 13h6m-3 -21h6m-4 5h6m0 15h6m-5 -26h6m-6 6h6m2 -6h6m-3 20h6m-3 -2h6m-5 -19h6m-3 21h6m-5 2h6m-5 -7h6m-4 -12h6m-5 11h6m-3 -16h6m-4 29h6m-1 0h6m-6 -24h6m-5 17h6m-2 -17h6m-2 0h6m-6 5h6m-4 19h6m-4 -16h6m-4 -2h6m-5 -8h6m0 7h6m0 -9h6m-5 20h6m1 5h6m-6 -21h6m-3 -3h6m0 23h6m-777 28h6m27 -7h6m0 7h6m0 -6h6m5 -14h6m-5 23h6m-3 0h6m0 4h6m3 -29h6m0 -1h6m-5 23h6m-1 -3h6m3 -13h6m-4 23h6m3 -24h6m-6 5h6m-4 -1h6m0 0h6m1 -1h6m-4 14h6m-4 -15h6m-5 -2h6m6 10h6m-1 -2h6m-5 6h6m-6 -13h6m-5 13h6m-4 4h6m-4 4h6m0 -1h6m-2 -1h6m7 1h6m-5 1h6m-3 -11h6m-6 -16h6m3 20h6m-4 -16h6m-6 10h6m-5 -5h6m6 10h6m-5 -3h6m-1 3h6m-5 -13h6m-1 17h6m-4 -1h6m-5 -5h6m0 7h6m-6 1h6m-5 -5h6m-2 -15h6m-3 -4h6m-6 14h6m-6 -9h6m-3 23h6m-4 -25h6m-3 6h6m-4 3h6m1 7h6m-5 8h6m-4 -8h6m-2 8h6m2 -16h6m3 -8h6m-1 21h6m-3 0h6m-4 4h6m-3 -2h6m-1 -21h6m-6 16h6m5 -6h6m5 3h6m-3 1h6m-2 -13h6m-3 14h6m-5 -13h6m-5 -8h6m-6 10h6m-3 19h6m1 -18h6m1 14h6m-6 -17h6m-4 2h6m-5 0h6m-6 14h6m-1 -24h6m-6 26h6m0 1h6m-6 -21h6m-6 16h6m-3 6h6m-3 -4h6m-3 -16h6m-1 -3h6m-6 5h6m-4 -2h6m-3 -8h6m-2 10h6m3 -6h6m-5 9h6m-4 -11h6m-4 12h6m3 -10h6m-2 3h6m-2 -8h6m-5 1h6m-3 7h6m-4 18h6m-1 -12h6m-4 8h6m-5 -21h6m-2 4h6m-6 22h6m-3 -18h6m-2 0h6m0 5h6m-4 16h6m-1 -16h6m-2 -11h6m1 26h6m-5 -19h6m-4 11h6m0 -2h6m0 -15h6m-3 7h6m-4 -9h6m-6 1h6m-2 27h6m-6 -30h6m-3 15h6m-5 10h6m-6 1h6m-2 -1h6m-6 -10h6m-4 6h6m6 5h6m-2 -3h6m-1 3h6m1 -15h6m-4 1h6m-5 -6h6m-6 -3h6m-5 5h6m-5 21h6m1 -13h6m-3 9h6m-6 -25h6m-5 5h6m-5 2h6m-5 17h6m-5 5h6m-6 -1h6m-2 -21h6m-3 3h6m-3 15h6m-6 -20h6m-5 6h6m-4 4h6m-6 10h6m-6 -2h6m-4 -11h6m-2 11h6m-6 -9h6m-5 11h6m2 -22h6m-1 15h6m-6 8h6m2 -6h6m-6 8h6m-3 -27h6m-6 28h6m-1 -17h6m-6 -9h6m-4 1h6m-1 7h6m-5 17h6m-6 -10h6m-6 -10h6m-6 18h6m-5 -20h6m-4 1h6m-5 -1h6m-3 21h6m1 -9h6m-5 -5h6m-6 13h6m-3 -21h6m-6 23h6m-2 -9h6m-4 -15h6m-5 9h6m-6 7h6m-5 -8h6m-6 13h6m-4 1h6m-1 -18h6m-5 7h6m-5 -14h6m-5 8h6m-5 -2h6m-5 -2h6m-3 24h6m-6 -6h6m-5 -5h6m-1 -3h6m-6 -13h6m-3 12h6m-5 13h6m-4 -19h6m-5 18h6m-5 3h6m-6 -8h6m-2 4h6m-3 -5h6m-2 -7h6m-6 -6h6m-2 16h6m-5 -12h6m-4 13h6m-5 4h6m-5 -5h6m-6 -16h6m-5 16h6m-4 -18h6m-5 -4h6m-2 14h6m-5 1h6m-5 6h6m-6 2h6m-4 3h6m-5 -26h6m1 19h6m-5 -3h6m-6 -9h6m-5 5h6m-5 -12h6m-5 13h6m-4 -2h6m-5 4h6m-6 -3h6m-5 13h6m-6 3h6m-1 -15h6m-3 0h6m-4 2h6m-6 -2h6m-5 -10h6m-6 11h6m-6 0h6m-6 -8h6m0 8h6m-6 -5h6m-3 4h6m-5 3h6m-5 11h6m-4 -2h6m-4 -5h6m0 -8h6m-4 12h6m-2 -25h6m-2 3h6m-6 19h6m-6 -1h6m-4 0h6m-5 -3h6m-2 -11h6m-2 13h6m1 -5h6m1 -5h6m1 17h6m-764 17h6m1 16h6m15 -16h6m-4 -6h6m-1 20h6m-6 -11h6m18 -11h6m3 0h6m-2 14h6m0 -1h6m4 -13h6m-4 9h6m-2 -4h6m-4 16h6m30 -17h6m-1 18h6m-5 -2h6m-3 1h6m-6 -3h6m-4 -22h6m-5 9h6m-6 14h6m-5 -24h6m0 18h6m0 -11h6m-3 18h6m-3 -9h6m3 -15h6m-2 18h6m-2 8h6m-5 0h6m-1 -13h6m-2 -7h6m-2 20h6m-4 -1h6m-5 -16h6m2 2h6m7 3h6m1 -15h6m-3 23h6m-5 -2h6m-3 -9h6m-1 3h6m-6 -13h6m4 11h6m-5 -12h6m-2 0h6m-3 10h6m-5 -10h6m-3 18h6m-5 -2h6m9 5h6m-5 -7h6m-3 14h6m-4 -13h6m-2 12h6m-2 -27h6m13 25h6m-4 -19h6m-6 4h6m-6 13h6m-5 -19h6m2 22h6m-3 -27h6m-3 25h6m-3 -5h6m-5 -20h6m-2 24h6m-4 -18h6m-5 -2h6m-5 19h6m-2 -23h6m-1 14h6m-5 -10h6m-4 2h6m-6 -4h6m-3 2h6m-3 21h6m-6 -16h6m-4 11h6m-1 -5h6m-6 9h6m2 0h6m-4 0h6m-3 -7h6m-5 -3h6m0 15h6m1 -14h6m11 -4h6m-6 9h6m3 -7h6m2 5h6m-6 1h6m-4 10h6m4 -20h6m2 14h6m-6 -23h6m-5 24h6m-3 -3h6m1 -21h6m-3 9h6m-4 14h6m-4 -8h6m4 -1h6m-3 -3h6m0 9h6m-4 -14h6m-5 19h6m-4 -9h6m-4 1h6m-2 -17h6m-4 14h6m-4 -12h6m-2 15h6m1 -6h6m-6 11h6m-3 -4h6m-4 -12h6m-3 -5h6m-5 15h6m-4 -5h6m4 -6h6m-4 5h6m-4 14h6m-4 -9h6m-6 7h6m-3 -10h6m-3 7h6m-4 -6h6m0 9h6m-5 -6h6m-5 -13h6m-5 7h6m-5 11h6m-6 -15h6m-6 17h6m-1 -9h6m-2 -9h6m-2 8h6m-6 -9h6m-5 25h6m-5 -6h6m-3 -10h6m-5 -5h6m-2 16h6m-3 -12h6m-4 -7h6m-5 14h6m-1 1h6m-3 -10h6m-6 9h6m-5 -1h6m-6 -5h6m-2 -11h6m-5 -3h6m-2 12h6m-4 14h6m-5 -7h6m-4 8h6m-4 -8h6m-3 -1h6m-6 -11h6m-4 21h6m-5 -17h6m-2 -3h6m-5 2h6m-6 6h6m-4 -4h6m-6 -10h6m-5 18h6m-5 5h6m-5 -14h6m-4 15h6m-2 -10h6m-3 11h6m-6 1h6m-4 -17h6m-4 4h6m-2 11h6m-6 -1h6m-5 2h6m-6 -14h6m0 15h6m-6 -7h6m-5 9h6m-1 -13h6m-6 13h6m-6 -1h6m-3 -13h6m-3 -10h6m-6 21h6m-4 -9h6m-5 6h6m-5 -20h6m-5 2h6m0 21h6m-3 -9h6m-4 1h6m-5 1h6m-4 -12h6m-3 9h6m-6 -11h6m-4 2h6m0 18h6m-1 -16h6m-5 19h6m-5 -21h6m-5 -4h6m-6 14h6m-5 -12h6m-2 18h6m-5 -10h6m-6 16h6m-4 -13h6m-6 -6h6m-6 6h6m-4 0h6m-6 -1h6m-5 10h6m-4 -18h6m-1 -8h6m-5 28h6m-5 -10h6m-2 1h6m-3 -4h6m1 10h6m0 -12h6m2 -13h6m-2 5h6m-734 35h6m3 9h6m21 -1h6m-5 -7h6m0 -3h6m7 -5h6m-4 22h6m12 3h6m2 -24h6m-2 5h6m-1 -8h6m-6 25h6m-4 -21h6m-6 15h6m-5 1h6m-1 -1h6m0 -7h6m-5 -6h6m7 12h6m6 7h6m-4 -6h6m-3 -9h6m-5 15h6m-5 -26h6m-6 4h6m-4 3h6m-6 1h6m-4 -3h6m-2 3h6m1 6h6m-5 5h6m-3 -8h6m-6 9h6m-5 -10h6m-4 4h6m2 0h6m6 -1h6m0 1h6m-3 -3h6m-5 16h6m-3 -14h6m1 3h6m1 3h6m4 7h6m-6 -1h6m-5 -20h6m-2 24h6m-3 -12h6m-6 13h6m-1 -18h6m-6 -4h6m-6 4h6m0 5h6m11 10h6m-4 2h6m-1 -12h6m-3 -10h6m0 6h6m-5 14h6m-5 -7h6m-3 -8h6m-2 -2h6m-5 14h6m-1 -19h6m-2 9h6m-1 -8h6m-5 16h6m-5 -19h6m-3 19h6m-1 6h6m3 -2h6m-1 -17h6m12 15h6m-1 -24h6m8 4h6m1 15h6m-4 -12h6m-4 20h6m-4 -7h6m-3 -4h6m-4 -1h6m-1 13h6m-4 -23h6m-4 8h6m0 9h6m-6 -18h6m-5 16h6m-4 7h6m-4 -10h6m0 13h6m-3 -21h6m-4 16h6m-6 -24h6m-2 17h6m-5 8h6m-5 -14h6m-2 9h6m-6 4h6m-4 -3h6m-5 -12h6m-4 1h6m-1 15h6m-5 -8h6m-2 -14h6m4 -1h6m-5 8h6m-4 -1h6m-6 1h6m-3 15h6m-6 -22h6m-5 24h6m-5 -22h6m-6 1h6m-3 0h6m-6 -7h6m0 14h6m7 13h6m-5 -14h6m-5 -4h6m-5 10h6m-5 -9h6m-5 -1h6m-1 15h6m-2 -13h6m-6 14h6m-6 -10h6m-2 -6h6m5 3h6m-5 -1h6m-6 7h6m1 -5h6m-4 14h6m-5 -13h6m-3 -9h6m-5 5h6m-3 12h6m-2 -1h6m-6 -6h6m-6 -4h6m-6 18h6m-5 -12h6m-3 -12h6m-3 16h6m-4 5h6m-5 -22h6m-5 20h6m-6 -4h6m-5 -18h6m-4 4h6m-4 -6h6m-6 5h6m-5 7h6m-6 13h6m2 -18h6m-4 8h6m-6 5h6m2 -4h6m-6 11h6m1 -10h6m-5 -8h6m-6 17h6m-4 -9h6m-2 9h6m-2 -10h6m-4 7h6m0 -13h6m-4 18h6m-5 -15h6m-6 13h6m-6 -11h6m-3 11h6m-5 -13h6m-4 -1h6m-4 -3h6m-2 10h6m-6 9h6m-2 -17h6m4 -5h6m-1 15h6m-5 8h6m-5 -20h6m-5 3h6m-3 8h6m-6 -18h6m-3 23h6m-6 -17h6m-4 12h6m-1 0h6m-5 -6h6m6 -10h6m-6 9h6m-5 1h6m-2 -11h6m-5 2h6m2 -4h6m-6 14h6m1 -10h6m-5 16h6m-5 -15h6m-6 7h6m-2 12h6m-3 -24h6m-2 12h6m4 -8h6m-4 -2h6m-683 37h6m-1 20h6m1 -23h6m-2 9h6m-5 -16h6m-6 23h6m-6 -14h6m-3 -8h6m-1 3h6m-5 8h6m-2 -8h6m5 22h6m-5 -18h6m-5 8h6m0 10h6m14 -7h6m4 -7h6m-5 -4h6m-3 12h6m-5 -5h6m10 15h6m2 -26h6m0 2h6m-2 -3h6m-4 1h6m2 18h6m-1 7h6m-2 -5h6m-2 -16h6m-3 20h6m16 -13h6m0 -7h6m7 6h6m-3 -12h6m-4 27h6m0 -9h6m-1 2h6m-4 6h6m-6 -5h6m-3 5h6m-1 -10h6m-1 -1h6m-6 -11h6m-5 1h6m6 21h6m-2 -1h6m-1 -24h6m0 10h6m15 2h6m2 4h6m-2 -16h6m10 -2h6m-2 28h6m-4 -22h6m-4 21h6m-1 -12h6m7 9h6m-6 -2h6m-4 -3h6m0 -8h6m0 5h6m-4 6h6m4 1h6m-5 -13h6m-4 4h6m-6 15h6m-5 -29h6m-4 11h6m-6 11h6m-4 -2h6m-4 -13h6m-3 1h6m-5 7h6m-3 9h6m-6 2h6m-4 0h6m-3 -1h6m-6 -25h6m-4 5h6m-6 24h6m-5 -28h6m-5 22h6m-5 1h6m-4 3h6m-5 -17h6m-5 3h6m-5 -11h6m-6 26h6m-5 -4h6m-3 -1h6m-4 -4h6m-4 4h6m2 -1h6m-5 -5h6m-4 -14h6m-3 16h6m-1 -8h6m-3 4h6m-5 13h6m-4 -29h6m-6 1h6m-1 11h6m-2 -6h6m-2 -3h6m-6 5h6m-6 17h6m-5 -2h6m-4 5h6m-5 1h6m-4 -9h6m-5 -15h6m-6 5h6m-2 8h6m-3 9h6m-1 -7h6m3 -3h6m-6 11h6m-5 0h6m-6 -24h6m-4 19h6m-5 -8h6m-5 -11h6m-4 17h6m-6 -2h6m-6 9h6m-6 1h6m-3 -6h6m-6 -7h6m-4 0h6m-4 -6h6m-3 16h6m-5 -19h6m-6 19h6m-5 -15h6m-3 -2h6m-1 -9h6m-6 13h6m-6 16h6m0 -29h6m-5 27h6m-4 -16h6m-2 2h6m-5 14h6m-4 -21h6m-6 20h6m-4 -20h6m-4 -1h6m2 20h6m-4 -24h6m-4 9h6m-5 12h6m-6 5h6m-6 -17h6m-5 2h6m-5 -4h6m-5 -3h6m-3 3h6m-4 14h6m-3 -15h6m-6 -2h6m-5 15h6m-5 6h6m-5 -20h6m-6 10h6m-2 -8h6m-6 13h6m-5 5h6m-1 -3h6m-5 -21h6m-5 26h6m-6 -10h6m0 -2h6m-6 -4h6m-5 -1h6m-5 -9h6m-4 25h6m-6 -21h6m-4 2h6m-1 1h6m-5 20h6m-4 -6h6m-6 -9h6m-4 -6h6m-6 16h6m-6 4h6m-2 -2h6m-4 -10h6m-4 4h6m-5 6h6m-3 3h6m-1 -17h6m-5 -9h6m-5 2h6m-5 17h6m-6 -6h6m-6 9h6m-3 -5h6m-6 -17h6m-5 11h6m-2 -9h6m-6 20h6m-5 0h6m-1 -12h6m-4 15h6m-4 -3h6m-4 -5h6m-1 -18h6m1 13h6m-6 10h6m-3 -20h6m12 2h6m-2 -5h6m-5 6h6m-6 -4h6m-2 5h6m-5 -1h6m-6 8h6m1 5h6m-2 -8h6m-1 -12h6m-659 32h6m18 12h6m-5 -6h6m-3 18h6m13 -16h6m3 -10h6m-5 23h6m4 -18h6m-1 13h6m-2 5h6m0 -2h6m13 -6h6m-6 3h6m2 -4h6m-2 1h6m-5 1h6m6 -8h6m-2 -3h6m-1 24h6m-2 -12h6m2 -7h6m0 -9h6m-2 18h6m1 -4h6m1 -3h6m-3 9h6m-2 -15h6m-5 21h6m-3 -22h6m-1 1h6m-4 4h6m-5 -11h6m-6 2h6m-5 4h6m2 1h6m-6 8h6m-4 10h6m-2 -8h6m-4 1h6m-4 12h6m-4 -17h6m3 1h6m-4 4h6m8 6h6m-5 -5h6m-5 5h6m-5 -15h6m2 15h6m10 2h6m-2 -21h6m-2 11h6m-5 5h6m-6 -19h6m-3 24h6m0 -7h6m-2 4h6m-1 5h6m-4 -7h6m1 6h6m-2 -15h6m-1 12h6m-4 -3h6m-3 5h6m-6 -12h6m6 14h6m-6 -12h6m-4 9h6m-5 -21h6m-2 21h6m-5 -22h6m-5 7h6m17 17h6m-5 -7h6m-1 -4h6m-2 3h6m-4 4h6m-5 -11h6m-1 14h6m-1 3h6m-4 -25h6m-6 10h6m-5 8h6m-2 6h6m-1 -19h6m-2 15h6m-5 -14h6m-6 3h6m-5 -10h6m1 22h6m-1 -3h6m-5 -14h6m-1 21h6m-2 -19h6m-1 19h6m0 -3h6m-5 -10h6m-5 -15h6m-2 10h6m-6 10h6m-6 -14h6m-5 -4h6m-4 5h6m-6 -3h6m-5 -5h6m-4 19h6m-5 -4h6m-4 9h6m-3 -22h6m-4 18h6m-6 1h6m-4 4h6m-4 -16h6m-4 5h6m-4 8h6m-4 -3h6m-5 -6h6m-6 4h6m-3 12h6m-3 -1h6m-5 -17h6m-6 -8h6m-2 11h6m1 -3h6m-2 18h6m-5 -15h6m-3 0h6m-5 9h6m-5 4h6m-3 -15h6m-6 -5h6m-5 -6h6m-4 16h6m-5 -10h6m-6 10h6m-4 4h6m-4 6h6m-3 -22h6m-4 6h6m-3 10h6m-5 0h6m-6 -6h6m-4 -14h6m-2 10h6m-5 7h6m-4 -9h6m-3 8h6m-5 12h6m-6 -28h6m-5 28h6m-6 -8h6m-2 5h6m-4 2h6m-6 -5h6m-4 -15h6m-4 20h6m-5 -20h6m-5 9h6m-4 -4h6m-3 -6h6m-3 2h6m-4 -9h6m-3 27h6m-6 -15h6m-5 7h6m-3 11h6m-6 -5h6m-1 2h6m-5 -4h6m-4 -5h6m-5 -2h6m-6 6h6m-5 -9h6m-4 9h6m-5 -18h6m-3 -1h6m-3 15h6m-6 11h6m-4 -24h6m-5 12h6m0 3h6m-2 -3h6m-6 -16h6m-3 23h6m-1 -23h6m-5 20h6m-6 -14h6m-6 5h6m2 3h6m-593 43h6m11 -20h6m-3 5h6m-3 6h6m2 -6h6m7 14h6m-5 -4h6m4 -3h6m-6 -5h6m0 -2h6m-1 16h6m3 -27h6m-2 5h6m-4 11h6m-2 0h6m-1 -10h6m-5 0h6m-2 12h6m-2 -11h6m-6 7h6m-5 -7h6m10 9h6m-2 -6h6m-2 4h6m-5 -5h6m5 -8h6m-2 5h6m-4 15h6m20 -9h6m4 1h6m-1 -1h6m24 7h6m-2 -8h6m-5 10h6m0 -16h6m1 23h6m-4 -27h6m-2 9h6m-5 -5h6m-2 -5h6m-1 7h6m-4 14h6m-2 -20h6m-4 7h6m-4 18h6m-3 -19h6m-1 15h6m8 1h6m-5 -22h6m6 24h6m-5 -12h6m-5 13h6m-3 -5h6m-4 4h6m-4 -25h6m-5 22h6m-6 0h6m-5 -6h6m-4 5h6m-4 -12h6m-6 -1h6m-5 -6h6m-5 9h6m-6 -7h6m-5 17h6m-4 -11h6m-6 -11h6m-6 6h6m-4 11h6m4 -13h6m-5 -2h6m-2 8h6m-2 18h6m-1 -25h6m-6 8h6m-5 0h6m-3 -11h6m-2 2h6m-3 18h6m1 7h6m-6 -21h6m-3 -4h6m-1 11h6m-4 13h6m-6 -27h6m-4 25h6m-2 -25h6m-3 6h6m-4 15h6m-5 2h6m-5 -4h6m-4 7h6m1 1h6m-6 -20h6m-3 17h6m-5 -20h6m-5 -2h6m-2 4h6m-3 -6h6m0 18h6m-5 -16h6m0 9h6m1 -8h6m-5 8h6m-5 1h6m-4 3h6m-4 -10h6m-5 13h6m-6 3h6m-5 -4h6m2 -1h6m-6 3h6m2 0h6m-5 7h6m-6 -11h6m-5 -4h6m-5 9h6m-5 -7h6m-4 12h6m-3 -3h6m-6 2h6m-5 -6h6m-5 -7h6m-4 4h6m-4 -7h6m-6 20h6m-5 -22h6m-5 21h6m-3 -18h6m-3 -9h6m-5 26h6m-5 -25h6m-5 18h6m-5 -5h6m-2 15h6m1 0h6m-1 -10h6m-6 -8h6m-4 5h6m-4 -13h6m-4 26h6m-3 -21h6m-6 10h6m-3 -5h6m-3 15h6m-5 -2h6m-6 -10h6m-5 -1h6m-4 -15h6m-5 19h6m-3 7h6m-4 -1h6m-4 -3h6m-4 2h6m2 -24h6m2 11h6m-6 -5h6m-4 -1h6m-6 18h6m-6 -2h6m-4 0h6m-6 -20h6m-3 6h6m-4 -1h6m-3 19h6m-6 2h6m-5 -1h6m-5 -10h6m-5 1h6m-5 -14h6m-6 13h6m-5 7h6m-4 -9h6m5 -3h6m-5 0h6m-6 -10h6m-5 24h6m-4 -15h6m-5 15h6m-1 -15h6m-5 5h6m-554 32h6m2 -4h6m11 13h6m-4 -18h6m0 -2h6m-4 -2h6m-4 -2h6m1 25h6m-6 0h6m-3 -26h6m4 5h6m-2 22h6m-4 1h6m-6 -26h6m-3 9h6m-1 14h6m-5 -15h6m-4 -9h6m-5 14h6m-4 2h6m4 -2h6m3 -12h6m11 3h6m-6 18h6m7 -21h6m6 -4h6m-2 14h6m16 -8h6m7 9h6m17 -14h6m-6 4h6m-5 19h6m-5 2h6m-2 -3h6m0 -13h6m-6 -8h6m-2 -1h6m-5 24h6m-4 -15h6m-6 1h6m-2 -1h6m0 10h6m-3 -3h6m-2 -4h6m-5 13h6m-2 -4h6m-5 -10h6m-4 14h6m-3 -15h6m-1 10h6m-6 -2h6m-5 10h6m-2 -24h6m-2 14h6m-4 5h6m-6 -3h6m-5 0h6m-5 -17h6m-5 24h6m-6 -8h6m-5 -3h6m-4 13h6m-2 -18h6m-3 6h6m-5 -11h6m-1 10h6m0 4h6m-3 4h6m-5 -6h6m-4 -18h6m-5 26h6m-6 -4h6m-4 4h6m-6 -22h6m1 2h6m-6 -6h6m-5 12h6m-2 14h6m1 -5h6m-3 4h6m-2 -14h6m-3 -9h6m-3 25h6m-3 -5h6m-4 -9h6m3 7h6m-6 -4h6m-5 1h6m-1 -2h6m-4 -4h6m-3 13h6m-5 -2h6m-4 -8h6m-4 -10h6m0 23h6m-4 -9h6m-5 1h6m-4 -4h6m-4 6h6m-5 3h6m-3 -3h6m-4 -9h6m-5 7h6m-5 5h6m-5 -24h6m5 26h6m-4 -26h6m-5 29h6m-4 -23h6m-5 -5h6m-1 14h6m-5 -13h6m-4 12h6m-5 -8h6m-6 -3h6m-1 3h6m-1 20h6m-4 -15h6m-6 4h6m-4 11h6m-3 -14h6m-1 8h6m-6 -15h6m1 11h6m-4 1h6m-5 -2h6m-5 1h6m-6 3h6m-5 -14h6m-2 -1h6m-6 23h6m-2 -22h6m-3 18h6m-3 -17h6m-5 -7h6m-4 12h6m-5 -3h6m1 -7h6m-5 19h6m-5 9h6m10 -26h6m0 7h6m-1 14h6m-6 3h6m-2 -5h6m-6 7h6m-5 -25h6m-5 3h6m-3 3h6m-5 12h6m-1 -18h6m-4 14h6m-4 -14h6m-2 23h6m-5 -9h6m-6 -9h6m-5 -4h6m-6 -2h6m-6 17h6m-6 4h6m1 -7h6m1 10h6m-3 -25h6m-4 14h6m-5 -7h6m3 2h6m-564 41h6m-4 -13h6m10 -6h6m-4 22h6m11 -24h6m-2 19h6m-6 -6h6m4 5h6m12 -7h6m-4 -4h6m3 6h6m6 -1h6m8 -6h6m23 9h6m9 10h6m-3 -7h6m2 -6h6m1 -4h6m-2 15h6m-3 -14h6m-4 6h6m-4 -9h6m-6 9h6m8 2h6m-5 9h6m-2 -18h6m-3 18h6m-6 -13h6m-5 5h6m-5 -20h6m-1 5h6m-5 1h6m-2 1h6m-1 14h6m-2 -5h6m-6 -4h6m-2 -9h6m-1 23h6m-5 -18h6m-3 7h6m-3 -4h6m-3 -10h6m-1 17h6m-4 -6h6m-5 8h6m2 0h6m-5 0h6m-6 -3h6m-4 -15h6m-5 -1h6m-4 17h6m-3 -5h6m0 13h6m-1 -21h6m1 2h6m-1 22h6m-3 -10h6m5 -18h6m-2 24h6m-6 3h6m2 -16h6m-5 -11h6m-1 4h6m-3 5h6m-6 -1h6m-5 14h6m2 -1h6m-5 -12h6m-5 16h6m-5 -1h6m-5 -2h6m-4 -12h6m7 8h6m-4 -14h6m-2 17h6m1 3h6m-6 -22h6m-4 17h6m-6 3h6m-4 -10h6m-6 3h6m-3 -5h6m-2 -8h6m-2 18h6m-5 -4h6m2 -13h6m-5 14h6m-3 9h6m-6 -15h6m-6 2h6m-5 14h6m-6 -23h6m-6 4h6m-5 -2h6m-6 21h6m-4 -24h6m-4 9h6m-6 5h6m-5 -18h6m-2 14h6m0 -1h6m-3 -9h6m-3 8h6m-5 12h6m-1 -17h6m-3 13h6m-5 1h6m-6 -10h6m-5 -10h6m-5 15h6m-3 -1h6m-6 13h6m-3 -16h6m0 9h6m-4 5h6m-1 -25h6m-5 2h6m-4 4h6m-6 -4h6m-5 0h6m-5 26h6m-3 -20h6m-5 16h6m-3 -17h6m-5 14h6m2 -13h6m-5 -1h6m-5 15h6m-5 -6h6m-5 -10h6m-5 10h6m-3 0h6m-6 11h6m-6 -18h6m-3 16h6m-1 -23h6m-3 3h6m-5 9h6m-1 15h6m-4 -4h6m-4 -8h6m-3 2h6m-6 -19h6m-6 24h6m-4 -18h6m-4 5h6m-4 1h6m-5 4h6m-6 1h6m-3 4h6m-6 -11h6m-6 12h6m-4 0h6m-6 -19h6m1 11h6m-5 14h6m-6 -27h6m-5 14h6m-5 9h6m-3 2h6m-5 -1h6m3 -7h6m-5 -6h6m-5 -13h6m0 4h6m-535 39h6m-2 -8h6m-4 -3h6m-6 6h6m-5 -4h6m22 10h6m47 -12h6m11 17h6m15 7h6m-4 -21h6m-5 18h6m-6 -3h6m-3 -17h6m0 5h6m4 19h6m-5 -21h6m-4 19h6m3 1h6m-1 -23h6m-6 2h6m-4 20h6m-3 -2h6m-1 -12h6m-6 -3h6m-5 -4h6m8 -1h6m-6 24h6m2 -24h6m-6 20h6m10 3h6m-5 -13h6m-6 -1h6m3 2h6m-4 -9h6m-3 3h6m-6 19h6m-1 -26h6m-4 25h6m-6 -10h6m-5 -14h6m-4 8h6m-5 2h6m-4 14h6m3 -21h6m1 -1h6m-1 22h6m1 -12h6m-3 16h6m-4 -13h6m-5 10h6m-4 -26h6m-6 9h6m-5 9h6m-6 5h6m-5 -7h6m-3 -5h6m0 -7h6m0 -5h6m-4 22h6m-4 -15h6m-5 7h6m-4 7h6m-2 4h6m-4 -4h6m-3 3h6m-3 -12h6m2 -3h6m-3 5h6m-5 10h6m-2 -12h6m-6 5h6m-4 -7h6m0 -7h6m-6 -3h6m-4 17h6m-3 0h6m-4 7h6m-1 -12h6m-5 -2h6m-6 -6h6m-5 18h6m-6 -4h6m-5 -7h6m-5 17h6m-4 -19h6m-6 17h6m-1 -17h6m-5 17h6m-4 -8h6m-4 4h6m-3 7h6m-6 -5h6m-5 -9h6m-6 12h6m-4 -16h6m-4 -9h6m-6 20h6m-6 -21h6m-3 17h6m-4 4h6m-4 -3h6m-4 -8h6m-4 17h6m-6 -18h6m-4 -2h6m-2 0h6m-1 -6h6m-5 2h6m-1 19h6m-5 -4h6m-5 11h6m-1 -22h6m-5 11h6m-5 -15h6m0 10h6m-5 -2h6m-4 14h6m-6 -18h6m0 0h6m2 21h6m-6 -25h6m-5 -4h6m-6 26h6m-1 -15h6m-5 -8h6m-5 26h6m-3 -9h6m-6 1h6m-6 -20h6m-5 3h6m-4 15h6m-5 -4h6m-4 -12h6m-5 14h6m-5 -6h6m-5 -7h6m2 3h6m-5 -1h6m-5 22h6m-5 -13h6m-4 3h6m-6 11h6m-2 -10h6m-4 -1h6m-6 -15h6m-3 1h6m0 14h6m-4 5h6m-5 5h6m-3 -11h6m-4 -13h6m-6 0h6m-3 9h6m2 -8h6m0 6h6m-4 -4h6m0 -6h6m-4 8h6m-517 21h6m11 20h6m-3 -11h6m4 11h6m-4 0h6m36 -3h6m-3 -10h6m-6 5h6m-4 6h6m2 -1h6m-6 0h6m0 12h6m1 -16h6m-5 -7h6m5 3h6m-6 10h6m5 10h6m-5 -22h6m5 6h6m-2 10h6m4 3h6m-5 2h6m-2 1h6m-3 -3h6m-6 -3h6m0 5h6m3 -21h6m-6 3h6m-6 -5h6m-6 -4h6m-5 -1h6m-4 9h6m-6 7h6m-5 -15h6m-5 10h6m-4 -2h6m-5 20h6m-6 -23h6m3 17h6m1 -8h6m-5 10h6m-3 -18h6m-5 0h6m2 19h6m0 -1h6m-6 -17h6m-4 7h6m-6 1h6m-5 10h6m-3 -1h6m-6 -8h6m-4 -10h6m-6 10h6m-5 -10h6m-5 6h6m-4 1h6m-5 8h6m-3 -20h6m-3 14h6m4 0h6m2 -10h6m-3 11h6m-1 9h6m-2 -2h6m-1 -11h6m-4 4h6m-4 -7h6m-4 16h6m-4 -3h6m-2 1h6m-6 -12h6m4 -9h6m-4 10h6m-4 -10h6m-5 12h6m-5 1h6m-4 -16h6m-3 13h6m-4 13h6m5 -5h6m-5 1h6m-2 -12h6m-5 12h6m-5 1h6m-2 3h6m-2 -25h6m-4 25h6m-4 -17h6m-4 -5h6m-5 4h6m-4 -4h6m0 20h6m-4 -8h6m-4 13h6m-2 -2h6m-3 -8h6m-6 -13h6m-5 13h6m-6 -19h6m-6 26h6m0 -15h6m-5 -7h6m-4 24h6m-1 -1h6m-6 -8h6m-6 -11h6m-5 -6h6m-3 14h6m-2 -2h6m-4 6h6m1 4h6m-3 -12h6m2 -1h6m-4 9h6m6 0h6m-6 -12h6m-5 -2h6m-5 19h6m-2 -18h6m-6 12h6m-5 -4h6m-5 0h6m-2 9h6m3 -19h6m-3 -4h6m0 23h6m-5 -3h6m-1 -17h6m-1 24h6m8 -22h6m-6 13h6m4 -10h6m24 6h6m-467 32h6m-4 -17h6m9 12h6m5 -9h6m-5 24h6m-6 -13h6m0 3h6m1 -1h6m-2 -12h6m-4 21h6m-3 1h6m-4 -14h6m-4 13h6m-1 5h6m-6 -13h6m-5 3h6m2 -17h6m-1 23h6m-6 -2h6m11 -19h6m-2 5h6m12 5h6m-1 -10h6m-5 4h6m-4 16h6m-1 -15h6m-6 9h6m-4 -10h6m-6 1h6m-5 -1h6m1 14h6m-3 -20h6m-2 22h6m-2 -19h6m3 21h6m-1 1h6m-5 -17h6m-5 -9h6m-5 11h6m-5 1h6m-2 -11h6m-4 13h6m-6 -9h6m-3 8h6m-3 10h6m-5 -8h6m-4 -14h6m-4 15h6m-3 -16h6m-4 20h6m-5 -19h6m-2 8h6m-6 -7h6m1 21h6m-6 2h6m-5 -13h6m-5 11h6m-3 -2h6m-4 -16h6m-5 14h6m-5 -8h6m-1 10h6m-3 0h6m-4 0h6m-6 -7h6m-5 -9h6m-5 5h6m-4 8h6m-6 -16h6m-2 -1h6m-5 20h6m-6 -14h6m-5 12h6m-5 -1h6m-6 -10h6m-5 13h6m-6 -14h6m-4 3h6m-6 -1h6m-3 17h6m1 -21h6m6 19h6m-1 -12h6m-4 0h6m-6 13h6m-2 -10h6m-5 10h6m-4 -12h6m-2 3h6m-5 -16h6m-6 5h6m-3 5h6m-6 12h6m-6 3h6m-3 -23h6m-1 6h6m-5 14h6m-4 -16h6m-3 5h6m-2 -5h6m-4 6h6m-2 -3h6m-3 9h6m-6 7h6m-6 -8h6m0 -1h6m1 -9h6m-5 0h6m-4 0h6m-5 -7h6m-6 0h6m0 2h6m-3 4h6m-6 8h6m-2 -15h6m2 13h6m-5 -8h6m-5 14h6m0 9h6m-6 -17h6m32 -6h6m5 -2h6m-407 28h6m5 4h6m21 4h6m1 0h6m-3 -5h6m7 3h6m-2 8h6m0 -4h6m2 -4h6m-5 9h6m0 -7h6m7 2h6m-3 1h6m-5 1h6m-5 0h6m-6 12h6m0 -8h6m2 1h6m-4 -18h6m-3 14h6m-4 11h6m-4 -20h6m-5 16h6m-4 -19h6m5 -1h6m2 9h6m2 19h6m-2 -14h6m-5 -13h6m-6 8h6m2 5h6m-6 1h6m-1 3h6m-3 -14h6m-6 19h6m-3 1h6m-5 -24h6m-3 6h6m-5 12h6m-5 0h6m-5 5h6m-1 -8h6m0 8h6m-4 -22h6m-3 27h6m7 -28h6m-4 17h6m-4 2h6m0 -5h6m-5 9h6m-4 -16h6m-4 8h6m-6 8h6m-5 -8h6m-5 -16h6m0 2h6m3 0h6m-4 1h6m-5 16h6m8 -9h6m-6 -8h6m-5 5h6m19 -5h6m-5 -1h6m-2 4h6m-209 37h6m0 -5h6m13 -8h6m1 15h6m5 -3h6m-1 3h6m17 -8h6m24 -5h6m-1 3h6" stroke="#e8402f" stroke-width="6" fill="none" opacity="0.90"/>
<path transform="scale(.1)" d="M0 0m2640 5833h6m7 -12h6m28 3h6m-1 -5h6m28 -1h6m3 15h6m-96 5h6m0 20h6m-4 -12h6m1 2h6m-6 5h6m-2 2h6m-3 2h6m-4 1h6m-1 2h6m7 2h6m14 -8h6m-5 -9h6m-2 6h6m2 4h6m-5 -3h6m2 8h6m-6 -7h6m-4 -8h6m-5 3h6m-1 -5h6m-4 1h6m-3 11h6m2 10h6m4 -9h6m-5 2h6m-1 2h6m-5 0h6m-6 5h6m2 -6h6m1 -13h6m-4 15h6m-1 -17h6m11 18h6m5 -10h6m6 11h6m-183 7h6m-1 21h6m11 -14h6m-6 4h6m-6 -4h6m-1 6h6m-5 0h6m-5 8h6m-5 3h6m1 -23h6m3 -3h6m6 16h6m-1 11h6m-3 -14h6m-1 9h6m-5 -19h6m-5 13h6m3 -6h6m-5 15h6m-4 -1h6m-6 -21h6m-3 14h6m-2 -12h6m-1 13h6m7 3h6m-4 -21h6m-4 4h6m-4 20h6m-6 -14h6m-5 -6h6m-3 -7h6m1 1h6m-5 28h6m-5 -11h6m-5 -3h6m-4 -10h6m-5 7h6m-5 -8h6m-5 15h6m-1 -13h6m-1 8h6m-5 7h6m-3 9h6m-4 -23h6m-6 1h6m6 -3h6m-2 10h6m-1 7h6m-4 -8h6m-4 12h6m14 -2h6m4 4h6m-206 5h6m6 11h6m2 2h6m8 0h6m3 -4h6m-2 11h6m1 -3h6m-3 -11h6m-5 20h6m0 -21h6m-2 8h6m-6 -16h6m-3 9h6m-3 11h6m-6 1h6m-4 -5h6m-6 10h6m-5 -10h6m17 -3h6m-3 6h6m-4 -15h6m-1 25h6m-4 -16h6m1 14h6m-3 -16h6m-1 -8h6m-4 0h6m0 3h6m-3 11h6m-3 -4h6m-5 8h6m-1 -7h6m-6 -4h6m-3 14h6m-4 -12h6m-4 -12h6m-4 24h6m4 -9h6m5 0h6m-3 10h6m0 -1h6m-6 -9h6m-3 7h6m-1 -3h6m-5 -3h6m-1 7h6m5 2h6m-200 14h6m-3 -6h6m2 10h6m-2 -1h6m-6 -9h6m37 23h6m-3 -9h6m-5 2h6m-5 9h6m-5 -21h6m-4 19h6m6 -13h6m8 -11h6m-6 25h6m6 -8h6m0 10h6m-3 -3h6m-6 3h6m-4 -24h6m-3 16h6m-2 6h6m7 2h6m-6 -26h6m-4 -1h6m5 1h6m-4 24h6m16 -5h6m-2 -18h6m-1 1h6m10 -4h6m-2 15h6m-4 8h6m-3 1h6m1 -17h6m-6 9h6m-5 -3h6m-3 12h6m6 -25h6m-211 47h6m11 -15h6m-5 24h6m-6 -15h6m-5 -1h6m-3 8h6m-6 7h6m-4 -4h6m-4 -11h6m-5 -7h6m0 13h6m-1 11h6m-3 -24h6m-5 4h6m-4 2h6m-6 11h6m-5 -11h6m-2 -8h6m1 12h6m-6 -4h6m-5 20h6m-3 -10h6m-5 -6h6m-3 14h6m-5 0h6m6 -9h6m-1 -11h6m-5 -5h6m-6 11h6m-2 -1h6m-5 16h6m-6 -5h6m-5 4h6m-6 -17h6m-5 -4h6m5 9h6m-5 -14h6m1 23h6m-5 3h6m-1 -22h6m-5 14h6m-3 3h6m-4 -16h6m15 15h6m3 -4h6m-4 3h6m3 5h6m1 -16h6m0 12h6m-5 -14h6m-2 18h6m-5 -17h6m-5 17h6m1 -6h6m-6 -11h6m-6 -2h6m-6 -5h6m-5 27h6m-5 -17h6m-6 -2h6m-3 3h6m-2 8h6m-5 -1h6m-4 1h6m-6 -13h6m2 -5h6m-195 38h6m1 5h6m-2 -10h6m-5 13h6m-5 1h6m12 6h6m-2 3h6m1 -21h6m0 19h6m-2 -7h6m-4 9h6m1 -27h6m0 21h6m-4 2h6m-5 -4h6m2 4h6m12 -4h6m-5 6h6m2 -1h6m3 -6h6m-4 9h6m0 -5h6m-6 0h6m1 -9h6m-3 8h6m-2 -17h6m-6 10h6m0 -4h6m-3 2h6m2 14h6m0 -8h6m-5 -13h6m-6 -4h6m4 12h6m-6 -8h6m-5 6h6m-5 14h6m3 -12h6m-5 7h6m-5 -15h6m-1 2h6m13 5h6m-2 8h6m6 6h6m-199 9h6m-5 19h6m-5 -2h6m-4 -18h6m-3 1h6m0 2h6m-3 14h6m0 -18h6m4 -2h6m-2 27h6m-3 -28h6m5 11h6m-4 -5h6m-4 14h6m-2 -20h6m-2 4h6m-2 11h6m-1 -10h6m3 4h6m-5 18h6m-6 -2h6m1 -6h6m-6 -1h6m-4 -2h6m-4 10h6m-6 0h6m-5 -18h6m-1 19h6m-2 -13h6m0 -9h6m-2 20h6m-1 -16h6m-5 14h6m-5 -3h6m0 6h6m-4 -26h6m-4 12h6m3 5h6m-2 1h6m-6 -15h6m1 5h6m-4 9h6m-1 0h6m1 -6h6m-3 -3h6m-5 -8h6m-4 26h6m-6 -8h6m-5 -3h6m1 12h6m-187 16h6m-5 -14h6m4 16h6m-6 8h6m7 -9h6m-3 -7h6m-1 -8h6m-1 7h6m-2 0h6m-6 16h6m0 -4h6m-3 3h6m-6 -16h6m3 -7h6m-2 29h6m2 -11h6m-5 -5h6m-4 -1h6m-4 2h6m-5 -11h6m-4 25h6m-3 1h6m0 -26h6m-5 1h6m-6 0h6m-6 21h6m-5 -1h6m-2 -9h6m-6 4h6m0 9h6m1 -26h6m-3 21h6m-5 -13h6m2 0h6m-1 12h6m13 -21h6m-3 10h6m-6 7h6m5 -2h6m-1 -16h6m5 22h6m-1 -14h6m4 1h6m0 3h6m-4 -7h6m-2 9h6m-202 38h6m2 5h6m-1 -11h6m-3 13h6m0 -11h6m-4 -2h6m-2 12h6m-5 -12h6m-3 10h6m-6 0h6m-2 4h6m-5 -26h6m-6 25h6m-3 -25h6m5 8h6m-3 2h6m-4 5h6m-6 -12h6m-3 1h6m-4 -1h6m-6 -5h6m-6 5h6m-3 10h6m10 -9h6m-2 17h6m-5 -12h6m-4 -3h6m-3 20h6m1 -7h6m4 2h6m-6 -9h6m-1 -8h6m4 -1h6m2 18h6m-5 -22h6m-2 16h6m-4 3h6m-2 4h6m-2 -10h6m-4 2h6m-4 -18h6m0 2h6m-4 13h6m5 -10h6m-6 23h6m-5 -7h6m-1 -19h6m-5 19h6m-6 -7h6m-6 -8h6m-4 16h6m-4 -14h6m-4 -5h6m6 20h6m2 -5h6m-217 31h6m-2 -4h6m-1 5h6m5 -5h6m-3 3h6m-3 -9h6m-1 -5h6m-5 -3h6m-2 3h6m-5 19h6m-5 -18h6m-2 22h6m-3 -23h6m-2 13h6m-1 -6h6m9 2h6m-1 0h6m12 10h6m-4 -4h6m-6 -9h6m-3 6h6m10 5h6m0 0h6m-5 -19h6m3 11h6m2 17h6m18 -1h6m1 -9h6m-1 -17h6m-4 8h6m-6 8h6m0 -11h6m-5 12h6m1 -15h6m-6 13h6m-5 -16h6m-190 38h6m7 5h6m1 3h6m-1 -16h6m9 28h6m15 -17h6m-4 14h6m-5 0h6m-5 -25h6m-4 27h6m-5 -6h6m-3 -15h6m-1 4h6m-2 6h6m-5 -13h6m-5 6h6m-3 4h6m-6 5h6m0 3h6m-5 5h6m1 -26h6m-6 27h6m-5 -11h6m-5 -1h6m-5 12h6m7 -7h6m-3 -18h6m-6 12h6m-4 -3h6m-5 -6h6m-6 10h6m-6 10h6m-6 -13h6m-5 10h6m-5 6h6m-5 -16h6m-5 4h6m0 -9h6m-6 -6h6m-1 13h6m-4 13h6m-6 -23h6m-4 20h6m-4 -16h6m2 -1h6m6 -3h6m-4 8h6m9 -10h6m-194 52h6m1 -13h6m2 -6h6m-3 4h6m-5 -5h6m-3 -2h6m5 -1h6m0 4h6m-2 8h6m-3 9h6m3 5h6m-5 -3h6m-4 -24h6m-3 0h6m-6 2h6m-6 16h6m-5 -4h6m-2 0h6m-3 -8h6m0 -6h6m1 2h6m-4 -2h6m-5 16h6m-6 5h6m-4 5h6m-3 -26h6m2 17h6m0 1h6m-4 3h6m-4 -14h6m1 -6h6m-4 4h6m-6 17h6m-3 -13h6m-4 8h6m7 -1h6m3 -3h6m-4 -12h6m0 26h6m-1 -27h6m0 15h6m-161 25h6m-3 18h6m-6 -7h6m-4 -20h6m-6 24h6m-5 -12h6m-1 -2h6m-6 0h6m-1 -7h6m-3 0h6m-5 4h6m-5 2h6m-1 2h6m-2 -12h6m-5 13h6m4 -13h6m7 7h6m-6 5h6m-3 -13h6m1 5h6m-5 1h6m1 -1h6m-4 3h6m30 -8h6m6 2h6m-155 51h6m-1 -16h6m-2 8h6m10 -8h6m3 8h6m-5 14h6m-3 -18h6m-5 13h6m-4 -24h6m3 3h6m-5 10h6m-3 5h6m-4 -12h6m0 23h6m-3 -17h6m12 8h6m-3 8h6m-5 -13h6m-5 4h6m-4 5h6m-4 4h6m-5 -24h6m-4 1h6m-3 -5h6m-2 1h6m-6 9h6m-1 8h6m-3 -13h6m-158 54h6m31 -12h6m-4 -5h6m-4 -3h6m-1 7h6m-4 -6h6m-1 -11h6m1 3h6m-6 8h6m2 10h6m11 -4h6m-1 2h6m-3 -10h6m-3 3h6m-6 -7h6m-4 14h6m-6 -11h6m2 -1h6m-4 20h6m-3 2h6m-4 -10h6m8 2h6m-1 -2h6m-2 5h6m-1 -15h6m-135 32h6m-6 12h6m0 -18h6m-3 10h6m-1 -3h6m-3 -12h6m-2 13h6m-4 2h6m-4 -7h6m-3 -1h6m-4 20h6m11 -12h6m-5 13h6m2 -6h6m-5 1h6m-3 -11h6m19 -10h6m-5 18h6m-1 2h6m9 -19h6m-4 -3h6m13 26h6m-144 6h6m-5 26h6m-6 -24h6m-5 4h6m-2 14h6m0 1h6m5 4h6m2 -5h6m-3 -5h6m0 -9h6m-2 7h6m-5 -14h6m-4 26h6m-5 -15h6m1 17h6m-5 -10h6m1 -10h6m0 8h6m2 -6h6m0 12h6m6 -1h6m1 -21h6m5 11h6m-92 29h6m1 3h6m-2 12h6m-5 1h6m-3 -16h6m1 14h6m1 -3h6m2 -19h6m-1 1h6m0 1h6m-1 18h6m10 -17h6m-62 33h6" stroke="#e23a2a" stroke-width="6" fill="none" opacity="0.90"/>
<path transform="scale(.1)" d="M0 0m2612 5772h7m-3 -8h7m3 4h7m41 1h7m-50 23h7m37 -12h7m0 13h7m54 -1h7m-161 23h7m-4 -1h7m-5 1h7m-6 10h7m-2 -20h7m-4 1h7m31 9h7m-1 11h7m18 -18h7m-5 16h7m5 6h7m16 -21h7m2 21h7m37 -9h7m3 -10h7m12 21h7m-263 23h7m8 -5h7m4 11h7m6 -5h7m-6 3h7m6 -12h7m-3 3h7m-6 -9h7m-5 16h7m-1 -7h7m-6 -8h7m5 2h7m-2 -7h7m-1 -1h7m-1 29h7m34 -28h7m-4 4h7m8 17h7m10 1h7m33 4h7m23 -11h7m11 -6h7m5 1h7m13 0h7m-396 29h7m23 0h7m7 0h7m-2 18h7m-3 -17h7m-2 -5h7m-4 7h7m0 -8h7m0 5h7m-5 -6h7m-4 2h7m-4 1h7m-3 15h7m1 -11h7m-4 17h7m-5 -25h7m1 -3h7m-6 29h7m-7 -12h7m10 8h7m27 -20h7m-3 -4h7m0 -2h7m-4 3h7m-6 19h7m-2 2h7m6 -17h7m10 -6h7m-3 19h7m20 -20h7m-6 9h7m-5 10h7m9 -6h7m13 0h7m3 15h7m4 -13h7m63 -13h7m30 23h7m-454 35h7m-7 -12h7m40 -9h7m-3 11h7m-4 -1h7m-4 -5h7m-3 8h7m-4 -1h7m-6 3h7m-7 4h7m-4 -26h7m4 15h7m-3 12h7m4 -22h7m9 -7h7m-7 28h7m3 -19h7m-5 -2h7m1 20h7m2 -16h7m6 17h7m-7 -6h7m23 -11h7m-5 0h7m-7 -1h7m1 17h7m10 -5h7m30 1h7m-4 1h7m17 -10h7m10 -13h7m24 3h7m-7 -3h7m38 19h7m90 -13h7m-578 37h7m48 11h7m-5 -3h7m-6 -4h7m-2 0h7m-4 5h7m1 1h7m22 3h7m26 -16h7m-6 -1h7m-7 10h7m17 -18h7m-6 9h7m-6 5h7m3 3h7m5 -19h7m-3 19h7m-7 -8h7m4 16h7m-3 -25h7m30 14h7m-4 1h7m-7 -16h7m0 6h7m-2 2h7m-5 15h7m-7 -5h7m-6 -15h7m17 3h7m2 19h7m7 -2h7m0 -24h7m-3 28h7m-4 -21h7m0 18h7m-5 -20h7m-3 16h7m8 3h7m-4 0h7m9 -7h7m-3 1h7m21 2h7m-1 4h7m0 -19h7m-6 18h7m-7 -8h7m-7 -10h7m11 17h7m0 -4h7m-3 -2h7m-5 -7h7m6 11h7m-5 -7h7m-3 2h7m-6 14h7m49 -6h7m9 -12h7m35 14h7m-567 22h7m-5 -7h7m-4 10h7m-3 9h7m3 -14h7m-3 -12h7m-3 3h7m5 19h7m2 -10h7m7 -9h7m-1 24h7m4 -21h7m-3 -9h7m-4 30h7m-5 -20h7m-6 10h7m-2 4h7m-1 -19h7m-2 3h7m21 -3h7m-6 22h7m-6 0h7m5 -12h7m12 7h7m1 -20h7m0 8h7m6 17h7m-7 -10h7m-6 -13h7m-6 -1h7m1 20h7m-5 -23h7m-6 0h7m5 9h7m-4 -9h7m-1 8h7m-4 7h7m2 -9h7m-6 -3h7m23 3h7m19 23h7m-6 -2h7m20 -17h7m-6 11h7m-1 -17h7m-2 15h7m3 -18h7m37 2h7m-6 18h7m-4 9h7m20 -6h7m25 -8h7m38 -1h7m6 9h7m-1 -3h7m-1 -20h7m16 21h7m2 4h7m51 -17h7m-687 48h7m-4 -10h7m-4 10h7m9 -22h7m-1 18h7m0 -5h7m0 -2h7m17 -2h7m-3 1h7m-5 -4h7m-5 -7h7m-7 -1h7m7 13h7m-6 8h7m-6 -13h7m-2 5h7m-6 -12h7m0 4h7m11 -7h7m7 29h7m-4 -12h7m5 -7h7m-4 18h7m-6 -8h7m-6 -19h7m-4 18h7m-3 5h7m-4 -10h7m-6 15h7m-4 -22h7m4 -2h7m-1 2h7m-4 0h7m-1 2h7m13 14h7m-4 3h7m-3 -16h7m-7 -1h7m-3 16h7m-3 -10h7m2 -14h7m2 15h7m-2 8h7m1 -20h7m-4 12h7m0 -2h7m-6 -13h7m-6 17h7m0 4h7m-2 -1h7m-3 6h7m42 -11h7m-7 -12h7m-6 10h7m7 15h7m1 -7h7m-6 4h7m5 -27h7m7 23h7m32 -20h7m5 1h7m-3 13h7m-3 -4h7m13 -3h7m1 2h7m6 8h7m32 -18h7m16 15h7m19 -2h7m25 12h7m24 -11h7m34 8h7m-699 26h7m0 -15h7m10 -1h7m-4 16h7m-1 2h7m-5 3h7m8 -8h7m-5 -13h7m11 23h7m-4 -20h7m-7 -6h7m8 8h7m-4 7h7m-6 -2h7m2 -13h7m-1 19h7m-4 -19h7m-7 4h7m1 21h7m2 -23h7m-2 14h7m-6 9h7m-1 -2h7m-1 -10h7m-4 9h7m-5 -18h7m-6 9h7m-3 6h7m-5 -16h7m-6 15h7m-7 -18h7m-1 7h7m-5 6h7m22 -5h7m0 3h7m6 -9h7m11 10h7m7 -11h7m19 9h7m7 1h7m-3 -1h7m-7 -1h7m-2 6h7m-2 -9h7m5 15h7m13 -19h7m1 27h7m14 -28h7m-5 2h7m-4 23h7m-7 -10h7m2 5h7m-4 1h7m13 7h7m-3 -28h7m19 25h7m0 -24h7m-5 8h7m0 -7h7m4 2h7m-2 24h7m10 -28h7m3 9h7m-3 5h7m9 13h7m0 -27h7m51 12h7m6 -9h7m50 13h7m24 5h7m-7 -20h7m-728 56h7m-4 -24h7m3 24h7m7 0h7m2 -2h7m-7 2h7m1 -4h7m-5 2h7m-6 -20h7m-1 -3h7m12 -2h7m-5 25h7m-5 -19h7m-5 9h7m-2 -14h7m-7 11h7m-5 -9h7m3 6h7m3 9h7m-7 10h7m4 -9h7m-6 -11h7m-6 10h7m-6 -15h7m-4 17h7m-5 1h7m1 7h7m-3 -9h7m-6 -3h7m0 12h7m0 -4h7m5 -14h7m-3 7h7m3 -9h7m0 4h7m-6 14h7m16 -22h7m-5 11h7m1 3h7m6 -7h7m-6 16h7m-4 -24h7m2 14h7m-1 0h7m6 -5h7m-6 3h7m-5 7h7m4 -9h7m-3 11h7m-6 -10h7m-6 13h7m-6 -12h7m6 -9h7m0 -7h7m24 21h7m6 -19h7m-1 19h7m39 -6h7m10 13h7m-6 -5h7m-6 0h7m8 2h7m16 -21h7m-2 20h7m13 -3h7m2 4h7m23 -13h7m-4 -10h7m2 20h7m10 -13h7m-4 6h7m6 -1h7m-1 11h7m21 2h7m-3 -3h7m60 -4h7m1 3h7m-721 28h7m1 4h7m-3 -15h7m-7 -4h7m4 1h7m-4 0h7m-2 1h7m1 16h7m3 -11h7m12 -9h7m-6 20h7m-5 -1h7m-6 4h7m-6 -14h7m-3 13h7m-5 -2h7m-3 2h7m-3 -12h7m-7 9h7m0 -19h7m-7 -1h7m-6 24h7m-2 -4h7m-1 -22h7m2 2h7m-6 15h7m0 3h7m-2 -4h7m0 -8h7m10 4h7m0 -12h7m-7 14h7m-6 -13h7m7 13h7m-5 -2h7m-2 5h7m-6 -2h7m-5 -11h7m-7 1h7m1 5h7m-4 6h7m-3 -11h7m-4 13h7m-6 -9h7m-5 7h7m-3 9h7m-1 -10h7m-4 0h7m-5 -17h7m-3 5h7m-5 23h7m-5 -2h7m-1 -16h7m1 0h7m-4 -7h7m-2 3h7m1 19h7m1 -5h7m6 -9h7m-4 17h7m-2 -17h7m-7 -8h7m-4 24h7m-4 -1h7m-2 -5h7m-5 2h7m-5 4h7m-7 -20h7m7 -5h7m29 5h7m10 -3h7m-4 1h7m-1 5h7m-4 3h7m0 -2h7m-5 19h7m-2 -8h7m-7 6h7m4 -10h7m-4 7h7m-5 -11h7m-6 -11h7m-6 21h7m-3 -5h7m-5 5h7m-5 -10h7m-6 11h7m-7 -9h7m-1 7h7m15 -14h7m2 4h7m-4 -8h7m19 19h7m5 3h7m3 -1h7m12 -6h7m23 5h7m7 -11h7m-2 16h7m2 -15h7m3 6h7m13 -10h7m1 -1h7m26 -5h7m24 12h7m32 -12h7m59 16h7m-764 32h7m15 -14h7m-7 5h7m3 -4h7m1 3h7m-5 3h7m-5 -1h7m0 -12h7m5 25h7m3 -23h7m1 25h7m9 -9h7m-6 -6h7m-5 -4h7m4 -9h7m2 7h7m-6 19h7m-5 -15h7m-6 15h7m-1 -22h7m7 14h7m-5 -9h7m-1 4h7m8 8h7m1 -3h7m-2 -20h7m-5 7h7m29 -4h7m-1 11h7m0 15h7m-3 -7h7m5 6h7m9 -11h7m6 4h7m13 -19h7m0 10h7m5 -11h7m-7 29h7m-3 -13h7m0 -3h7m4 1h7m-6 2h7m2 -2h7m2 2h7m-3 -14h7m2 3h7m-3 4h7m0 6h7m1 -4h7m-4 14h7m6 -9h7m-3 5h7m-6 6h7m-3 -24h7m3 0h7m13 -3h7m5 20h7m-7 -2h7m-6 -3h7m-4 -8h7m-1 -8h7m1 25h7m-5 -11h7m6 15h7m18 -5h7m0 -13h7m21 4h7m7 11h7m-1 -24h7m7 -2h7m18 22h7m66 3h7m22 1h7m27 -9h7m-727 20h7m10 14h7m2 2h7m-3 3h7m5 -14h7m5 4h7m7 10h7m-5 -22h7m2 15h7m-2 -1h7m7 1h7m1 7h7m6 -8h7m14 -16h7m1 11h7m-1 4h7m7 12h7m3 -25h7m-6 22h7m10 3h7m-5 -16h7m-2 2h7m0 -4h7m5 -8h7m4 8h7m-6 4h7m8 5h7m1 -13h7m1 13h7m-6 7h7m-5 -13h7m17 8h7m-6 -5h7m-1 11h7m-6 -1h7m-1 -8h7m1 -1h7m2 -9h7m8 4h7m5 -1h7m-4 -3h7m7 2h7m-7 13h7m-6 -2h7m-5 5h7m5 -13h7m-1 -13h7m-4 4h7m-7 19h7m-2 -4h7m-7 -6h7m-4 -9h7m-3 4h7m-4 13h7m1 -14h7m-7 22h7m-4 -23h7m2 2h7m4 -1h7m11 -3h7m-6 16h7m1 -20h7m3 29h7m-5 -2h7m-6 -18h7m6 18h7m-5 -7h7m22 9h7m8 -15h7m40 12h7m34 -13h7m73 -14h7m2 27h7m-724 18h7m1 -14h7m1 22h7m4 -14h7m7 15h7m21 -6h7m4 7h7m1 -3h7m-4 -6h7m1 11h7m0 -13h7m1 -11h7m1 -3h7m6 29h7m-1 -2h7m0 -2h7m7 -7h7m-7 10h7m0 -8h7m-5 1h7m-6 1h7m-7 -20h7m-3 17h7m-2 5h7m-5 0h7m1 1h7m-3 -4h7m-3 3h7m32 5h7m-7 -11h7m-3 -13h7m-6 3h7m7 20h7m-3 -14h7m-5 -9h7m8 21h7m-4 -2h7m-6 1h7m-7 -13h7m0 13h7m-1 -16h7m-3 -5h7m-3 19h7m1 -6h7m-6 7h7m-3 -9h7m5 -6h7m-7 -4h7m-6 5h7m-5 4h7m-6 -4h7m-5 0h7m-5 -1h7m-5 20h7m-7 0h7m-4 -24h7m-6 2h7m1 14h7m-4 -15h7m0 24h7m-7 -8h7m-6 1h7m1 4h7m-5 -4h7m2 -12h7m9 7h7m-7 -2h7m0 -10h7m-7 6h7m-6 -7h7m-3 -2h7m-5 3h7m26 -4h7m3 27h7m-7 -12h7m-2 -8h7m0 4h7m10 9h7m-6 1h7m-2 1h7m-2 -13h7m0 1h7m34 -7h7m82 23h7m-621 6h7m-4 -1h7m4 20h7m11 -3h7m-3 -16h7m1 5h7m6 13h7m-4 0h7m-7 -15h7m-5 19h7m-5 0h7m-6 3h7m-6 -1h7m-1 -22h7m1 -5h7m5 1h7m-7 6h7m6 -6h7m18 0h7m-7 24h7m-6 -5h7m-6 2h7m-6 -7h7m-4 2h7m2 7h7m-6 -10h7m9 12h7m3 -13h7m-4 -5h7m-3 9h7m-7 1h7m-7 5h7m-1 -14h7m-5 -8h7m-3 5h7m-7 9h7m-2 3h7m-7 -4h7m2 12h7m3 -14h7m-6 8h7m-5 -1h7m-7 -2h7m-5 -15h7m-4 15h7m-1 -11h7m-2 -6h7m-4 16h7m-6 10h7m2 -22h7m-7 14h7m-3 -14h7m2 9h7m-6 8h7m0 -14h7m-1 -4h7m-2 0h7m4 7h7m-1 -8h7m-6 3h7m-3 5h7m-5 14h7m-6 -24h7m-4 7h7m-1 -4h7m-7 4h7m-6 2h7m-2 -7h7m-3 -3h7m-4 14h7m-6 5h7m4 6h7m-5 -16h7m-6 -3h7m-5 20h7m-6 -3h7m-6 -12h7m-7 -7h7m-4 1h7m-5 9h7m0 12h7m4 -6h7m-4 -15h7m34 7h7m5 -8h7m2 17h7m-1 7h7m1 -16h7m-2 0h7m-6 9h7m5 -18h7m5 0h7m2 17h7m15 -19h7m17 13h7m7 6h7m0 -6h7m1 12h7m-5 -15h7m45 -3h7m-602 23h7m-4 5h7m-6 1h7m5 3h7m-2 16h7m-3 -14h7m1 17h7m-4 -9h7m-3 10h7m14 -24h7m-3 5h7m-1 -8h7m3 2h7m-3 13h7m-6 -4h7m-6 -14h7m-6 9h7m3 13h7m15 -11h7m-3 13h7m-5 -8h7m-2 4h7m0 -15h7m-6 13h7m-7 -12h7m4 22h7m-5 -16h7m23 11h7m1 -7h7m-4 -5h7m-6 8h7m0 -11h7m-3 14h7m-6 -1h7m1 -1h7m-6 7h7m-7 -24h7m-3 6h7m-3 17h7m-5 -6h7m-7 -12h7m-5 17h7m-5 -6h7m-5 2h7m-1 -7h7m-7 -9h7m-7 9h7m-4 -10h7m0 14h7m-5 -5h7m-6 6h7m-2 -7h7m0 8h7m-4 -17h7m-4 6h7m-6 -4h7m-5 -2h7m-6 27h7m-6 -3h7m-4 -9h7m-6 -10h7m-1 18h7m1 -11h7m14 -9h7m-5 21h7m-2 -6h7m24 -5h7m-6 -11h7m19 7h7m-1 14h7m-6 -21h7m16 18h7m-1 -16h7m3 13h7m-6 10h7m8 -2h7m-6 -1h7m8 -21h7m7 10h7m60 11h7m-534 14h7m-1 10h7m0 6h7m0 -5h7m-4 -9h7m-1 -8h7m17 0h7m-6 -4h7m3 14h7m-2 2h7m-4 8h7m-4 -17h7m1 12h7m-5 -11h7m5 -1h7m-3 8h7m-7 -8h7m-2 3h7m-4 -3h7m-4 6h7m-5 -13h7m-6 14h7m-4 9h7m-2 -4h7m2 -4h7m-6 7h7m-3 -11h7m-5 -7h7m-6 -4h7m-4 28h7m-7 -25h7m-7 21h7m-1 -10h7m-5 -6h7m-5 -1h7m0 6h7m-5 -1h7m-6 -3h7m-6 16h7m-4 -24h7m-5 11h7m-6 -3h7m-5 12h7m-6 -9h7m0 5h7m-6 -2h7m-4 -8h7m-5 5h7m-7 1h7m-6 7h7m-7 0h7m-3 -8h7m-5 -1h7m-4 -3h7m-4 -8h7m-2 22h7m-5 -2h7m-4 3h7m3 -19h7m-4 8h7m-4 5h7m-3 9h7m-6 -21h7m-6 23h7m-6 -26h7m-5 17h7m5 -5h7m-5 13h7m0 0h7m-3 -10h7m-3 12h7m-2 -13h7m3 -3h7m1 -13h7m5 14h7m-5 9h7m14 4h7m9 -20h7m17 -2h7m-7 12h7m22 1h7m4 -18h7m4 6h7m-1 10h7m3 -7h7m3 -4h7m11 -2h7m27 -3h7m8 25h7m4 -5h7m-5 -7h7m-515 31h7m13 4h7m-4 9h7m-7 -5h7m-1 -19h7m-2 24h7m1 -20h7m0 13h7m3 -13h7m-5 13h7m2 -7h7m7 16h7m-7 -2h7m-6 -22h7m-5 -5h7m-3 2h7m-5 -1h7m1 26h7m1 -26h7m-5 18h7m-7 -16h7m5 6h7m-7 -7h7m2 8h7m5 18h7m-4 -29h7m-2 19h7m4 11h7m-6 -19h7m-2 -11h7m-6 28h7m-6 -22h7m-6 14h7m-3 -4h7m2 -14h7m-4 1h7m5 20h7m-6 -5h7m-3 3h7m-7 -13h7m-6 21h7m0 -18h7m-7 -1h7m-6 -3h7m-1 6h7m-4 1h7m-5 4h7m-2 -9h7m-6 1h7m2 0h7m-6 8h7m-1 -13h7m-7 0h7m2 1h7m-7 4h7m3 -9h7m1 16h7m-2 7h7m-6 -24h7m11 27h7m5 3h7m0 -9h7m-4 -21h7m22 19h7m-5 -4h7m-5 9h7m5 -7h7m-6 -13h7m-3 15h7m-4 -16h7m3 14h7m-3 -10h7m5 -6h7m4 13h7m2 14h7m4 -18h7m-5 -7h7m9 6h7m-2 3h7m22 -5h7m-7 10h7m6 -15h7m6 28h7m7 -10h7m6 4h7m-549 13h7m2 22h7m7 -16h7m-4 -8h7m-1 20h7m-1 -3h7m-6 1h7m-3 -3h7m-1 -3h7m-3 -1h7m-2 0h7m-7 -12h7m-4 7h7m-4 18h7m-6 -5h7m-6 -1h7m-6 0h7m-2 -21h7m-2 20h7m-6 5h7m-2 -3h7m-4 -19h7m-6 13h7m-6 -1h7m-1 -1h7m-5 0h7m1 3h7m-1 1h7m-6 -5h7m-5 -3h7m-1 16h7m-5 -14h7m-5 -7h7m-4 -7h7m4 8h7m-5 3h7m-4 8h7m-4 -16h7m-5 -1h7m-7 -1h7m-3 21h7m-5 -7h7m-6 -2h7m0 -2h7m-7 -3h7m-5 16h7m-5 -14h7m-6 -7h7m-5 14h7m-5 -13h7m-5 0h7m1 13h7m1 -5h7m-5 12h7m-6 -23h7m-7 6h7m0 22h7m4 -21h7m-2 15h7m-1 -21h7m2 15h7m-6 -3h7m-5 -11h7m5 21h7m17 -9h7m-1 -6h7m-4 16h7m-4 -13h7m-4 6h7m-6 -17h7m-2 27h7m9 -13h7m-6 0h7m2 6h7m-4 7h7m-5 -2h7m13 -22h7m-3 2h7m18 4h7m-6 6h7m8 -7h7m-3 8h7m4 -13h7m-5 1h7m28 15h7m-3 -1h7m-1 -1h7m-1 -5h7m11 10h7m-4 1h7m16 -7h7m20 -13h7m3 6h7m-524 21h7m5 20h7m-2 -12h7m-4 -6h7m-3 21h7m0 0h7m-4 1h7m-4 -20h7m-7 25h7m-3 -20h7m-6 -3h7m-3 23h7m-7 -27h7m-7 8h7m-6 6h7m-5 -9h7m-1 18h7m-5 -11h7m-7 -4h7m-6 12h7m-6 -9h7m-6 14h7m-4 -5h7m5 1h7m-6 -1h7m-5 -20h7m-4 16h7m3 1h7m-5 -10h7m-7 6h7m-1 9h7m-3 -12h7m-4 7h7m-7 -1h7m-6 -13h7m-6 7h7m-5 -7h7m-6 12h7m-4 1h7m-3 -16h7m-2 21h7m-4 -14h7m-4 -5h7m-6 10h7m-5 14h7m-6 -3h7m-7 -8h7m-3 11h7m-7 -15h7m-2 -6h7m-5 13h7m-1 -13h7m-7 17h7m-5 -19h7m1 5h7m-5 -2h7m-6 -3h7m-4 18h7m0 -9h7m-5 -7h7m6 11h7m1 1h7m-2 -13h7m4 9h7m-3 4h7m1 5h7m-2 -5h7m-2 -18h7m-1 12h7m-6 6h7m-6 2h7m-2 -7h7m0 3h7m2 -15h7m-4 19h7m-5 0h7m-2 6h7m9 -18h7m1 15h7m-4 -13h7m-6 -3h7m2 2h7m-5 -1h7m-6 -8h7m-2 12h7m7 12h7m-4 -24h7m7 26h7m7 -10h7m-6 2h7m7 -10h7m9 -8h7m39 5h7m-4 7h7m1 2h7m44 -6h7m0 -8h7m-503 42h7m1 -11h7m1 6h7m16 0h7m-5 19h7m-4 0h7m-5 -8h7m1 -20h7m-7 17h7m-4 -5h7m-3 5h7m-6 12h7m-5 -22h7m-5 23h7m-6 -6h7m-2 -8h7m-5 -3h7m-4 10h7m-3 -4h7m-5 -14h7m-3 18h7m-5 -12h7m-5 12h7m-6 4h7m-6 -7h7m-7 -8h7m-3 3h7m-6 7h7m-3 -11h7m-6 -5h7m-7 -6h7m-5 15h7m2 0h7m2 6h7m-3 -2h7m-3 10h7m-5 -27h7m3 -1h7m-4 27h7m-3 -27h7m-6 -1h7m3 26h7m-3 -13h7m-5 15h7m-5 -8h7m-7 -14h7m-4 11h7m-1 11h7m-4 -11h7m13 -7h7m-6 -8h7m0 -1h7m2 13h7m-4 10h7m5 -8h7m-6 6h7m12 0h7m17 -3h7m8 -5h7m5 4h7m7 -14h7m-3 17h7m1 -8h7m-3 -10h7m0 17h7m1 -12h7m-2 11h7m-2 6h7m7 -20h7m-1 9h7m7 6h7m9 -17h7m-4 25h7m-2 -17h7m-6 17h7m-7 -23h7m4 6h7m17 5h7m5 -12h7m-455 32h7m3 5h7m5 14h7m-7 -13h7m7 5h7m1 -13h7m-3 -2h7m-3 8h7m-3 11h7m-6 -19h7m-6 0h7m-5 13h7m-5 7h7m-5 -21h7m0 3h7m-6 23h7m-4 -9h7m-3 -9h7m2 8h7m-5 8h7m8 -25h7m8 28h7m-1 -27h7m-6 10h7m-5 5h7m-3 -13h7m3 22h7m-4 -22h7m-5 23h7m1 -9h7m-2 -17h7m-5 11h7m5 6h7m-7 -17h7m-6 9h7m-3 -5h7m-4 16h7m0 -14h7m13 4h7m-5 1h7m-7 15h7m-3 -6h7m-6 -6h7m19 8h7m-1 -8h7m0 -11h7m-5 2h7m-1 15h7m2 -16h7m-7 1h7m-1 21h7m-6 -14h7m-2 13h7m-6 -23h7m45 20h7m4 -13h7m7 6h7m8 -11h7m-296 31h7m-6 5h7m-5 19h7m9 -8h7m5 -1h7m0 -1h7m11 -1h7m-3 0h7m-4 -1h7m-6 1h7m6 6h7m14 -16h7m-4 4h7m37 -12h7m16 1h7m24 9h7m7 11h7m2 -13h7m-171 30h7m37 3h7m-1 -6h7" stroke="#ffffff" stroke-width="7" fill="none" opacity="0.85"/>
<path transform="scale(.1)" d="M0 0m2655 5775h6m5 14h6m28 3h6m25 12h6m-114 12h6m118 15h6m-3 -3h6m14 -14h6m25 14h6m-293 34h6m28 -19h6m42 8h6m-4 11h6m77 -2h6m-4 -17h6m1 8h6m20 11h6m19 -5h6m9 -14h6m24 -2h6m-404 41h6m21 -17h6m30 9h6m94 3h6m193 -1h6m59 3h6m38 9h6m-2 -12h6m-318 22h6m10 25h6m-1 -18h6m24 2h6m25 10h6m5 -16h6m59 -2h6m8 12h6m16 -15h6m5 17h6m11 -14h6m29 2h6m-3 12h6m19 1h6m4 -6h6m2 -8h6m4 17h6m-414 32h6m7 -6h6m-6 -4h6m15 9h6m9 -17h6m37 -5h6m13 22h6m-4 -15h6m15 17h6m84 -15h6m113 9h6m105 11h6m8 -22h6m-2 4h6m-596 39h6m15 -14h6m23 -6h6m16 28h6m36 -2h6m-4 -2h6m110 -19h6m6 19h6m-4 -13h6m207 6h6m86 4h6m-620 38h6m30 -28h6m1 3h6m3 24h6m6 -12h6m19 6h6m8 -12h6m-3 7h6m1 4h6m48 -4h6m95 -8h6m33 8h6m-4 9h6m54 -7h6m-2 6h6m18 -18h6m34 13h6m24 -10h6m59 6h6m8 -3h6m-3 -8h6m3 18h6m7 4h6m40 -28h6m16 8h6m-2 17h6m4 4h6m-698 27h6m62 -5h6m0 -2h6m1 -2h6m5 -6h6m17 4h6m20 1h6m-2 -4h6m45 15h6m7 1h6m1 -3h6m10 -6h6m11 -15h6m57 -3h6m66 2h6m3 10h6m0 5h6m28 -15h6m48 0h6m21 0h6m69 2h6m25 -5h6m6 28h6m-3 -11h6m-678 29h6m52 -10h6m78 16h6m17 -4h6m-5 6h6m-1 -8h6m55 -1h6m18 12h6m0 -23h6m0 3h6m4 12h6m18 -10h6m18 -6h6m20 16h6m10 -9h6m11 15h6m4 2h6m-6 -6h6m68 -9h6m-2 -5h6m5 -3h6m11 2h6m89 5h6m6 -9h6m18 14h6m15 6h6m51 -6h6m20 5h6m24 -15h6m-782 27h6m37 19h6m-1 -15h6m9 21h6m-2 -2h6m0 -6h6m22 -10h6m10 -10h6m17 18h6m20 10h6m14 -14h6m-5 6h6m12 5h6m27 -1h6m98 4h6m-3 -11h6m-3 -13h6m-6 1h6m2 3h6m3 15h6m17 -6h6m-2 1h6m29 -14h6m17 12h6m10 -1h6m145 13h6m19 -17h6m23 11h6m-637 33h6m20 -5h6m1 -8h6m-5 -2h6m3 3h6m29 -12h6m8 5h6m11 15h6m32 -14h6m9 6h6m4 15h6m-3 -23h6m10 7h6m6 5h6m14 13h6m-4 -24h6m0 8h6m22 0h6m-4 -11h6m18 0h6m2 11h6m8 -5h6m19 9h6m17 -1h6m10 3h6m-4 9h6m9 -20h6m5 4h6m105 6h6m80 -18h6m1 5h6m21 23h6m16 -13h6m-723 29h6m114 8h6m25 5h6m0 0h6m20 -4h6m12 -20h6m-2 3h6m43 5h6m0 1h6m16 3h6m93 -4h6m-2 5h6m1 -1h6m46 -2h6m4 9h6m5 2h6m24 1h6m3 -21h6m3 5h6m4 -4h6m22 10h6m3 -10h6m25 2h6m6 -4h6m31 21h6m9 -8h6m39 11h6m35 -8h6m-686 24h6m23 7h6m73 -6h6m36 -2h6m58 -9h6m0 5h6m-1 0h6m-1 1h6m11 0h6m8 -4h6m12 3h6m17 5h6m21 0h6m55 -10h6m4 -3h6m10 19h6m60 7h6m32 -26h6m44 18h6m8 -4h6m24 -14h6m-5 24h6m-620 20h6m42 7h6m11 6h6m-4 -18h6m41 9h6m23 -16h6m-5 8h6m-1 -1h6m6 14h6m121 -17h6m39 5h6m28 10h6m49 -7h6m2 7h6m22 -6h6m-2 -2h6m23 -4h6m3 -9h6m-1 10h6m15 -7h6m50 -2h6m-4 -1h6m28 15h6m8 6h6m-593 31h6m20 -11h6m8 -10h6m26 17h6m36 -4h6m62 15h6m25 -19h6m36 6h6m0 9h6m14 3h6m29 -25h6m21 22h6m8 -14h6m-3 5h6m42 -4h6m25 17h6m108 -4h6m0 -21h6m-532 49h6m21 -9h6m7 10h6m4 -24h6m17 27h6m4 -28h6m83 21h6m9 6h6m-4 -1h6m8 -14h6m11 11h6m8 -9h6m53 -3h6m7 6h6m46 -16h6m24 10h6m19 4h6m45 7h6m84 -21h6m-612 59h6m11 -8h6m12 -3h6m9 -10h6m25 8h6m31 -3h6m45 3h6m46 -16h6m12 13h6m2 4h6m41 -17h6m37 14h6m6 11h6m27 -15h6m11 -4h6m-3 3h6m-3 1h6m11 -3h6m35 -6h6m9 22h6m-5 -19h6m16 17h6m-6 -3h6m71 -7h6m-509 19h6m16 19h6m-2 -1h6m31 5h6m6 -9h6m0 -3h6m25 -3h6m22 -9h6m49 3h6m2 20h6m7 6h6m33 -2h6m1 -13h6m-2 9h6m3 -18h6m-2 22h6m58 -18h6m62 12h6m7 -14h6m7 12h6m-4 -6h6m6 -12h6m15 22h6m-530 19h6m15 -2h6m12 -1h6m11 16h6m85 1h6m-1 -15h6m-4 -9h6m35 20h6m108 -2h6m38 -4h6m5 -12h6m22 2h6m-5 -1h6m106 22h6m-475 33h6m93 -14h6m10 0h6m9 -11h6m-4 19h6m5 -6h6m43 7h6m11 -4h6m23 2h6m19 -19h6m19 21h6m0 -8h6m-2 -8h6m16 -4h6m12 18h6m45 -7h6m-4 -7h6m63 -9h6m-408 39h6m13 -7h6m3 7h6m161 6h6m-2 13h6m10 -4h6m11 -14h6m4 2h6m1 -6h6m-2 11h6m30 -10h6m12 -5h6m-270 42h6m76 -11h6m-2 21h6m15 -17h6m38 15h6m31 5h6m-154 61h6" stroke="#ea5444" stroke-width="6" fill="none" opacity="0.75"/>
<path transform="scale(.1)" d="M0 0m2160 6110h6m1 46h6m1 6h6m1 -17h6m22 7h6m-107 33h6m3 2h6m12 -7h6m-3 6h6m31 9h6m2 -18h6m-5 -5h6m-6 3h6m2 9h6m-6 6h6m-5 -16h6m-6 20h6m-1 -2h6m1 -22h6m-6 4h6m2 -6h6m0 20h6m-5 -8h6m-5 -14h6m5 9h6m1 6h6m-4 4h6m-4 6h6m-111 8h6m7 4h6m13 -1h6m5 17h6m11 -6h6m-4 -10h6m-5 11h6m4 -8h6m-1 -6h6m5 17h6m8 -11h6m5 -9h6m-150 56h6m-4 -17h6m31 7h6m8 -9h6m2 -4h6m-4 5h6m4 8h6m-4 11h6m3 -10h6m3 -19h6m-3 28h6m-5 -17h6m-1 15h6m3 1h6m5 -21h6m-3 7h6m0 4h6m13 -2h6m-4 -7h6m-4 12h6m-150 12h6m-2 10h6m38 -10h6m-1 10h6m2 13h6m-4 -21h6m10 3h6m4 20h6m3 -11h6m-1 -8h6m-3 5h6m9 13h6m-2 -1h6m-6 0h6m-4 -9h6m9 -4h6m-112 29h6m2 5h6m-5 5h6m11 1h6m12 -2h6m-6 8h6m-4 -17h6m-2 5h6m-1 0h6m-2 4h6m-6 -6h6m0 0h6m0 8h6m-6 -19h6m2 16h6m-2 9h6m-5 -6h6m-2 -21h6m0 16h6m-6 -13h6m-4 25h6m-5 -1h6m-4 -12h6m-4 -10h6m-6 -4h6m10 3h6m3 20h6m18 -9h6m-143 30h6m3 9h6m-1 -17h6m1 -3h6m2 21h6m-3 -4h6m6 -6h6m-1 -13h6m-3 15h6m1 -12h6m-4 -3h6m18 22h6m0 4h6m-5 -26h6m-4 13h6m-1 7h6m-2 0h6m0 -21h6m3 11h6m15 0h6m-146 43h6m-6 -18h6m-2 14h6m-4 6h6m-4 -5h6m2 5h6m8 -10h6m10 -16h6m-1 6h6m-6 -6h6m-4 21h6m2 -11h6m4 -6h6m-2 -3h6m-5 23h6m0 -16h6m13 0h6m-5 -9h6m-4 28h6m-6 -26h6m-5 19h6m-5 5h6m-2 -21h6m7 17h6m-4 -10h6m-178 22h6m12 21h6m12 -17h6m10 2h6m0 0h6m-2 11h6m18 -2h6m14 4h6m-3 -4h6m1 -18h6m-3 8h6m1 -3h6m9 -5h6m2 12h6m-2 9h6m-1 -22h6m-2 15h6m0 7h6m-5 -16h6m3 17h6m2 -14h6m2 15h6m3 2h6m-6 -7h6m21 2h6m-168 26h6m1 -10h6m-2 -1h6m8 -3h6m-1 7h6m-1 -1h6m-5 4h6m6 2h6m6 -12h6m6 20h6m-3 0h6m5 -20h6m-4 23h6m0 -10h6m-5 -17h6m0 28h6m-2 -6h6m-4 6h6m2 -4h6m-3 -24h6m-4 29h6m3 -29h6m11 26h6m-1 -11h6m0 -10h6m-4 1h6m-3 6h6m-5 -10h6m20 26h6m-177 10h6m20 14h6m-3 -10h6m11 -1h6m8 11h6m1 -1h6m3 7h6m-3 0h6m-5 -26h6m3 2h6m-4 23h6m9 -10h6m-3 -14h6m-3 9h6m-5 3h6m0 -3h6m2 -12h6m3 13h6m-5 12h6m-3 -12h6m-1 9h6m-3 -1h6m-5 -16h6m29 17h6m3 -2h6m-2 -6h6m-190 19h6m-5 13h6m-5 -6h6m5 9h6m33 4h6m-6 -16h6m-1 -4h6m-5 10h6m4 7h6m7 1h6m-1 8h6m-4 -21h6m-1 7h6m-2 -12h6m-3 1h6m7 9h6m-4 -9h6m-6 -2h6m-4 28h6m3 -17h6m-1 -4h6m-4 -4h6m-4 -2h6m-60 38h6m-5 -11h6m-1 10h6m-6 2h6m4 -9h6m6 9h6m-19 22h6m15 -3h6" stroke="#e8402f" stroke-width="6" fill="none" opacity="0.70"/>
<path transform="scale(.1)" d="M0 0m2635 5767h6m-2 1h6m-6 -3h6m-1 8h6m-4 -12h6m-5 -8h6m2 21h6m-24 21h6m-4 -13h6m5 -6h6m-6 22h6m-3 -3h6m7 -13h6m0 1h6m0 1h6m-2 6h6m-2 -9h6m-4 9h6m-2 7h6m-4 1h6m-3 -6h6m-37 15h6" stroke="#f0962a" stroke-width="6" fill="none" opacity="0.90"/>
<path transform="scale(.1)" d="M0 0m2167 6074h6m17 -12h6m3 -9h6m-2 7h6m-2 -6h6m-4 13h6m-5 -1h6m11 2h6m-67 18h6m-6 -4h6m-6 7h6m-3 -8h6m-3 -3h6m5 3h6m-3 12h6m2 -7h6m-5 -1h6m1 10h6m3 -9h6m1 5h6m-1 -14h6m-21 31h6" stroke="#c2b44a" stroke-width="6" fill="none" opacity="0.85"/>
</g>
<path d="M104.4 482.3V684.5H306.4" stroke="#222" stroke-width="0.9" fill="none"/>
<g font-size="8.13" fill="#000">
<circle cx="123.7" cy="492.9" r="4.9" fill="#e8392c"/>
<text x="129.3" y="495.8">Lymphocyte</text>
<circle cx="123.7" cy="504.0" r="4.9" fill="#fccb0e"/>
<text x="129.3" y="506.9">Neutrophil</text>
<circle cx="123.7" cy="513.6" r="4.9" fill="#78ec4e"/>
<text x="129.3" y="516.9">Macrophage</text>
<circle cx="123.7" cy="523.9" r="4.9" fill="#7df6fa"/>
<text x="129.3" y="526.5">Tumor cell</text>
</g>
<g font-size="7.7" fill="#000">
<text x="106.1" y="553.1">M1</text>
<text x="126.0" y="551.5">M2</text>
<text x="110.0" y="563.5">M3</text>
<text x="130.8" y="569.3">M4</text>
<text x="106.5" y="573.0">M5</text>
<text x="128.3" y="578.4">M6</text>
<text x="230.4" y="495.8">N1</text>
<text x="240.7" y="492.3">N2</text>
<text x="250.7" y="498.9">N3</text>
<text x="254.5" y="511.5">N4</text>
<text x="228.4" y="508.4">N5</text>
<text x="242.2" y="514.7">N6</text>
<text x="289.8" y="598.1">L1</text>
<text x="259.3" y="605.7">L2</text>
<text x="276.8" y="604.5" fill-opacity="0.55">L3</text>
<text x="268.8" y="617.7">L4</text>
<text x="295.7" y="611.3">L5</text>
<text x="285.3" y="623.3">L6</text>
<text x="168.0" y="657.7">T1</text>
<text x="181.2" y="670.5">T2</text>
<text x="179.0" y="651.8">T3</text>
<text x="230.2" y="674.7">T4</text>
<text x="212.2" y="665.7">T5</text>
<text x="204.2" y="675.8">T6</text>
</g>
<g fill="#000">
<circle cx="116.4" cy="556.8" r="1.65"/>
<circle cx="130.4" cy="555.3" r="1.65"/>
<circle cx="123.6" cy="560.0" r="1.65"/>
<circle cx="127.0" cy="566.4" r="1.65"/>
<circle cx="120.6" cy="570.2" r="1.65"/>
<circle cx="125.0" cy="575.3" r="1.65"/>
<circle cx="241.9" cy="496.9" r="1.65"/>
<circle cx="246.6" cy="495.8" r="1.65"/>
<circle cx="248.3" cy="499.9" r="1.65"/>
<circle cx="252.7" cy="503.3" r="1.65"/>
<circle cx="240.5" cy="502.0" r="1.65"/>
<circle cx="245.5" cy="504.5" r="1.65"/>
<circle cx="291.7" cy="601.3" r="1.65"/>
<circle cx="270.8" cy="602.1" r="1.65"/>
<circle cx="282.7" cy="607.3" r="1.65"/>
<circle cx="280.5" cy="612.6" r="1.65"/>
<circle cx="292.2" cy="610.5" r="1.65"/>
<circle cx="289.6" cy="613.7" r="1.65"/>
<circle cx="173.5" cy="662.2" r="1.65"/>
<circle cx="177.2" cy="666.8" r="1.65"/>
<circle cx="182.3" cy="655.1" r="1.65"/>
<circle cx="226.3" cy="672.1" r="1.65"/>
<circle cx="222.6" cy="666.2" r="1.65"/>
<circle cx="215.7" cy="672.1" r="1.65"/>
</g>
<g font-size="7.6" fill="#000">
<rect x="346.70" y="490.10" width="26.50" height="26.80" fill="#fff" stroke="#ec4333" stroke-width="1.60"/>
<text x="333.5" y="498.9">L1</text>
<rect x="346.70" y="524.10" width="26.50" height="26.80" fill="#fff" stroke="#ec4333" stroke-width="1.60"/>
<text x="333.5" y="532.9">L2</text>
<rect x="346.70" y="558.30" width="26.50" height="26.80" fill="#fff" stroke="#ec4333" stroke-width="1.60"/>
<text x="333.5" y="567.0">L3</text>
<rect x="346.70" y="592.60" width="26.50" height="26.80" fill="#fff" stroke="#ec4333" stroke-width="1.60"/>
<text x="333.5" y="601.0">L4</text>
<rect x="346.70" y="626.70" width="26.50" height="26.80" fill="#fff" stroke="#ec4333" stroke-width="1.60"/>
<text x="333.5" y="635.1">L5</text>
<rect x="346.70" y="661.20" width="26.50" height="26.80" fill="#fff" stroke="#ec4333" stroke-width="1.60"/>
<text x="333.5" y="669.1">L6</text>
<rect x="399.70" y="489.80" width="27.00" height="26.80" fill="#fff" stroke="#f9cd18" stroke-width="1.60"/>
<text x="387.6" y="498.0">N1</text>
<rect x="399.70" y="523.70" width="27.00" height="26.80" fill="#fff" stroke="#f9cd18" stroke-width="1.60"/>
<text x="387.6" y="532.0">N2</text>
<rect x="399.70" y="557.50" width="27.00" height="26.80" fill="#fff" stroke="#f9cd18" stroke-width="1.60"/>
<text x="387.6" y="566.1">N3</text>
<rect x="399.70" y="591.80" width="27.00" height="26.80" fill="#fff" stroke="#f9cd18" stroke-width="1.60"/>
<text x="387.6" y="600.1">N4</text>
<rect x="399.70" y="626.40" width="27.00" height="26.80" fill="#fff" stroke="#f9cd18" stroke-width="1.60"/>
<text x="387.6" y="634.2">N5</text>
<rect x="399.70" y="660.80" width="27.00" height="26.80" fill="#fff" stroke="#f9cd18" stroke-width="1.60"/>
<text x="387.6" y="668.2">N6</text>
<rect x="451.90" y="489.80" width="27.30" height="26.80" fill="#fff" stroke="#7cf250" stroke-width="1.60"/>
<text x="439.0" y="498.0">M1</text>
<rect x="451.90" y="523.70" width="27.30" height="26.80" fill="#fff" stroke="#7cf250" stroke-width="1.60"/>
<text x="439.0" y="532.0">M2</text>
<rect x="451.90" y="557.50" width="27.30" height="26.80" fill="#fff" stroke="#7cf250" stroke-width="1.60"/>
<text x="439.0" y="566.1">M3</text>
<rect x="451.90" y="591.80" width="27.30" height="26.80" fill="#fff" stroke="#7cf250" stroke-width="1.60"/>
<text x="439.0" y="600.1">M4</text>
<rect x="451.90" y="626.40" width="27.30" height="26.80" fill="#fff" stroke="#7cf250" stroke-width="1.60"/>
<text x="439.0" y="634.2">M5</text>
<rect x="451.90" y="660.80" width="27.30" height="26.80" fill="#fff" stroke="#7cf250" stroke-width="1.60"/>
<text x="439.0" y="668.2">M6</text>
<rect x="500.00" y="490.20" width="27.30" height="26.80" fill="#fff" stroke="#80f8fb" stroke-width="1.60"/>
<text x="489.6" y="499.3">T1</text>
<rect x="500.00" y="524.10" width="27.30" height="26.80" fill="#fff" stroke="#80f8fb" stroke-width="1.60"/>
<text x="489.6" y="533.4">T2</text>
<rect x="500.00" y="557.90" width="27.30" height="26.80" fill="#fff" stroke="#80f8fb" stroke-width="1.60"/>
<text x="489.6" y="567.4">T3</text>
<rect x="500.00" y="592.20" width="27.30" height="26.80" fill="#fff" stroke="#80f8fb" stroke-width="1.60"/>
<text x="489.6" y="601.5">T4</text>
<rect x="500.00" y="626.80" width="27.30" height="26.80" fill="#fff" stroke="#80f8fb" stroke-width="1.60"/>
<text x="489.6" y="635.5">T5</text>
<rect x="500.00" y="661.20" width="27.30" height="26.80" fill="#fff" stroke="#80f8fb" stroke-width="1.60"/>
<text x="489.6" y="669.5">T6</text>
</g>
<defs><filter id="b0" x="-20%" y="-20%" width="140%" height="140%"><feGaussianBlur stdDeviation="0.35"/></filter></defs>
<g filter="url(#b0)">
<ellipse cx="360.0" cy="503.3" rx="2.9" ry="2.9" transform="rotate(0 360.0 503.3)" fill="#a066c0"/>
<ellipse cx="360.4" cy="503.5" rx="1.7" ry="1.8" transform="rotate(0 360.4 503.5)" fill="#8848b0"/>
<ellipse cx="360.0" cy="537.0" rx="3.2" ry="2.4" transform="rotate(-15 360.0 537.0)" fill="#8a6cc8"/>
<ellipse cx="359.6" cy="536.8" rx="1.8" ry="1.4" transform="rotate(-15 359.6 536.8)" fill="#6a44b4"/>
<ellipse cx="360.2" cy="571.7" rx="2.5" ry="3.2" transform="rotate(15 360.2 571.7)" fill="#5a2a9c"/>
<ellipse cx="360.0" cy="572.0" rx="1.5" ry="2.0" transform="rotate(15 360.0 572.0)" fill="#48208c"/>
<ellipse cx="360.0" cy="605.7" rx="3.0" ry="3.0" transform="rotate(0 360.0 605.7)" fill="#a890d8"/>
<ellipse cx="360.3" cy="606.0" rx="1.7" ry="1.7" transform="rotate(0 360.3 606.0)" fill="#9074cc"/>
<ellipse cx="360.0" cy="640.7" rx="2.9" ry="2.9" transform="rotate(0 360.0 640.7)" fill="#8a48b8"/>
<ellipse cx="360.2" cy="641.0" rx="1.7" ry="1.7" transform="rotate(0 360.2 641.0)" fill="#7434a8"/>
<ellipse cx="360.0" cy="674.4" rx="3.0" ry="3.0" transform="rotate(0 360.0 674.4)" fill="#9468c4"/>
<ellipse cx="360.3" cy="674.6" rx="1.8" ry="1.8" transform="rotate(0 360.3 674.6)" fill="#7c4cb4"/>
<ellipse cx="412.0" cy="503.5" rx="1.8" ry="1.7" transform="rotate(0 412.0 503.5)" fill="#3a2684"/>
<ellipse cx="414.2" cy="504.2" rx="1.8" ry="1.6" transform="rotate(0 414.2 504.2)" fill="#4a2a94"/>
<ellipse cx="413.0" cy="503.0" rx="1.2" ry="0.9" transform="rotate(0 413.0 503.0)" fill="#2c1c70"/>
<ellipse cx="413.6" cy="536.2" rx="1.5" ry="2.2" transform="rotate(15 413.6 536.2)" fill="#4a2674"/>
<ellipse cx="413.0" cy="538.2" rx="2.4" ry="1.5" transform="rotate(0 413.0 538.2)" fill="#54307c"/>
<ellipse cx="413.9" cy="537.8" rx="1.2" ry="1.2" transform="rotate(0 413.9 537.8)" fill="#3a1c64"/>
<path d="M411.4 567.8l3.6 2.8l-3.2 3" fill="none" stroke="#a884cc" stroke-width="1.7" stroke-linejoin="round" stroke-linecap="round"/>
<ellipse cx="413.8" cy="570.6" rx="1.4" ry="1.6" transform="rotate(0 413.8 570.6)" fill="#9468bc"/>
<ellipse cx="413.0" cy="604.4" rx="2.0" ry="2.5" transform="rotate(-20 413.0 604.4)" fill="#34207c"/>
<ellipse cx="413.4" cy="606.2" rx="1.3" ry="1.5" transform="rotate(0 413.4 606.2)" fill="#3c2888"/>
<ellipse cx="412.3" cy="638.8" rx="1.5" ry="2.0" transform="rotate(-40 412.3 638.8)" fill="#4a349c"/>
<ellipse cx="414.0" cy="641.6" rx="1.7" ry="2.1" transform="rotate(-40 414.0 641.6)" fill="#6a3c9c"/>
<ellipse cx="413.2" cy="674.0" rx="2.4" ry="1.3" transform="rotate(-25 413.2 674.0)" fill="#3c2890"/>
<ellipse cx="465.5" cy="503.8" rx="6.4" ry="7.2" transform="rotate(-25 465.5 503.8)" fill="#f0cfe6" stroke="#d79bd0" stroke-width="0.7"/>
<ellipse cx="464.6" cy="503.0" rx="1.3" ry="1.3" transform="rotate(0 464.6 503.0)" fill="#9a2c98"/>
<ellipse cx="466.5" cy="506.0" rx="3.2" ry="2.5" transform="rotate(-25 466.5 506.0)" fill="#e6b6dc" opacity="0.70"/>
<ellipse cx="465.5" cy="537.2" rx="4.8" ry="4.0" transform="rotate(-20 465.5 537.2)" fill="#f0d2e6" stroke="#e0b0d8" stroke-width="0.6"/>
<ellipse cx="464.8" cy="537.0" rx="1.0" ry="1.0" transform="rotate(0 464.8 537.0)" fill="#c070b8"/>
<ellipse cx="465.8" cy="570.9" rx="7.0" ry="6.6" transform="rotate(-20 465.8 570.9)" fill="#dcb4dc" stroke="#c48cc8" stroke-width="0.7"/>
<ellipse cx="467.6" cy="571.8" rx="2.0" ry="1.6" transform="rotate(0 467.6 571.8)" fill="#a868b8" opacity="0.80"/>
<ellipse cx="463.8" cy="569.0" rx="2.2" ry="2.6" transform="rotate(0 463.8 569.0)" fill="#ecd2ec" opacity="0.80"/>
<ellipse cx="465.5" cy="604.7" rx="4.1" ry="4.7" transform="rotate(-10 465.5 604.7)" fill="#cc94c8" stroke="#b478b8" stroke-width="0.6"/>
<ellipse cx="465.8" cy="604.0" rx="1.8" ry="2.0" transform="rotate(0 465.8 604.0)" fill="#b070b4" opacity="0.80"/>
<ellipse cx="465.5" cy="640.4" rx="5.4" ry="6.1" transform="rotate(15 465.5 640.4)" fill="#e29cd0" stroke="#d684c4" stroke-width="0.6"/>
<ellipse cx="464.0" cy="641.4" rx="1.3" ry="1.5" transform="rotate(0 464.0 641.4)" fill="#b04ca8"/>
<ellipse cx="466.8" cy="639.0" rx="2.0" ry="2.4" transform="rotate(0 466.8 639.0)" fill="#ecbce0" opacity="0.80"/>
<ellipse cx="465.6" cy="674.1" rx="4.8" ry="4.0" transform="rotate(35 465.6 674.1)" fill="#ecc4e0" stroke="#dca8d4" stroke-width="0.6"/>
<ellipse cx="465.2" cy="673.6" rx="0.9" ry="0.9" transform="rotate(0 465.2 673.6)" fill="#c884c0"/>
<ellipse cx="514.0" cy="503.6" rx="4.9" ry="6.0" transform="rotate(-30 514.0 503.6)" fill="#9a4aa6" stroke="#843894" stroke-width="0.6"/>
<ellipse cx="513.2" cy="502.6" rx="2.4" ry="3.2" transform="rotate(-30 513.2 502.6)" fill="#7c2c8c" opacity="0.80"/>
<ellipse cx="515.6" cy="505.4" rx="1.4" ry="1.8" transform="rotate(-30 515.6 505.4)" fill="#b878c0" opacity="0.80"/>
<ellipse cx="514.0" cy="537.0" rx="5.4" ry="6.4" transform="rotate(-35 514.0 537.0)" fill="#b468c0" stroke="#9c4cac" stroke-width="0.6"/>
<ellipse cx="513.0" cy="536.0" rx="1.4" ry="1.4" transform="rotate(0 513.0 536.0)" fill="#8c3c9c"/>
<ellipse cx="515.4" cy="538.6" rx="1.6" ry="1.2" transform="rotate(0 515.4 538.6)" fill="#d0a0d8" opacity="0.80"/>
<ellipse cx="513.8" cy="570.6" rx="7.8" ry="5.2" transform="rotate(-15 513.8 570.6)" fill="#a86abc" stroke="#8c48a0" stroke-width="0.6"/>
<ellipse cx="511.6" cy="571.2" rx="3.0" ry="2.6" transform="rotate(0 511.6 571.2)" fill="#8c4cac" opacity="0.80"/>
<ellipse cx="516.8" cy="569.6" rx="2.2" ry="2.6" transform="rotate(0 516.8 569.6)" fill="#b480c4" opacity="0.80"/>
<ellipse cx="513.8" cy="605.0" rx="7.4" ry="4.9" transform="rotate(10 513.8 605.0)" fill="#b070bc" stroke="#984ca8" stroke-width="0.8"/>
<ellipse cx="514.6" cy="604.6" rx="4.0" ry="1.6" transform="rotate(10 514.6 604.6)" fill="#f0def0" opacity="0.85"/>
<ellipse cx="511.0" cy="603.4" rx="1.6" ry="1.0" transform="rotate(20 511.0 603.4)" fill="#e8cce8" opacity="0.80"/>
<ellipse cx="514.0" cy="640.4" rx="6.0" ry="7.8" transform="rotate(-20 514.0 640.4)" fill="#c48cd0" stroke="#aa68bc" stroke-width="0.6"/>
<ellipse cx="513.0" cy="639.0" rx="2.2" ry="2.8" transform="rotate(-20 513.0 639.0)" fill="#a868bc" opacity="0.80"/>
<ellipse cx="515.4" cy="643.0" rx="1.8" ry="2.0" transform="rotate(0 515.4 643.0)" fill="#dcb8e0" opacity="0.80"/>
<ellipse cx="513.8" cy="674.4" rx="6.6" ry="10.2" transform="rotate(30 513.8 674.4)" fill="#bc80cc" stroke="#a25cb4" stroke-width="0.7"/>
<ellipse cx="513.6" cy="673.0" rx="1.6" ry="3.4" transform="rotate(30 513.6 673.0)" fill="#8c44a4" opacity="0.80"/>
<ellipse cx="516.0" cy="670.0" rx="1.6" ry="2.0" transform="rotate(0 516.0 670.0)" fill="#e4cce8" opacity="0.80"/>
<ellipse cx="511.6" cy="678.6" rx="1.8" ry="2.2" transform="rotate(0 511.6 678.6)" fill="#dcc0e4" opacity="0.80"/>
<path transform="scale(.1)" d="M0 0m5121 5323h5m11 -3h5m-12 14h5m-3 17h5m23 -21h5m-1 11h5m3 9h5m-64 16h5m10 15h5m5 -20h5m1 16h5m18 -11h5m14 13h5m-32 22h5m-3 11h5m7 -22h5" stroke="#f0dcf2" stroke-width="5" fill="none" opacity="0.80"/>
<path transform="scale(.1)" d="M0 0m5111 5332h5m-4 20h5m0 -5h5m18 -17h5m-1 15h5m21 37h5m-4 -26h5m-67 41h5m26 1h5m44 -13h5" stroke="#7c3490" stroke-width="5" fill="none" opacity="0.80"/>
<path transform="scale(.1)" d="M0 0m5144 5682h5m-3 -22h5m13 3h5m-3 19h5m-78 20h5m-4 8h5m31 -20h5m6 12h5m5 -17h5m4 0h5m-1 20h5m12 -16h5m19 6h5m-4 3h5m-135 21h5m9 1h5m26 7h5m17 -10h5" stroke="#e4c8ea" stroke-width="5" fill="none" opacity="0.80"/>
<path transform="scale(.1)" d="M0 0m5110 5678h5m43 -2h5m5 8h5m25 -5h5m-106 35h5m20 -1h5m6 -17h5m21 8h5m17 -11h5m-58 50h5m11 2h5m-5 5h5" stroke="#6c2c88" stroke-width="5" fill="none" opacity="0.80"/>
<path transform="scale(.1)" d="M0 0m5115 6013h5m-4 -2h5m-30 13h5m20 -8h5m6 18h5m-1 8h5m24 -9h5m3 7h5m-61 25h5m-3 -16h5m5 20h5m61 5h5m-5 -4h5m-56 16h5" stroke="#ffffff" stroke-width="5" fill="none" opacity="0.80"/>
<path transform="scale(.1)" d="M0 0m5144 6008h5m14 18h5m-81 40h5m23 -5h5m-1 -7h5m11 19h5m17 -26h5m11 0h5m3 21h5m-66 22h5" stroke="#7c3490" stroke-width="5" fill="none" opacity="0.80"/>
<path transform="scale(.1)" d="M0 0m5092 6365h5m3 5h5m41 1h5m-4 -7h5m-4 2h5m-1 -11h5m-58 22h5m-4 0h5m3 7h5m13 4h5m15 17h5m-4 -24h5m-2 17h5m-3 -5h5m7 2h5m-1 7h5m-75 31h5m2 -27h5m20 6h5m0 18h5m-4 -4h5m-2 9h5m36 -23h5m-26 50h5m12 -19h5m5 -6h5" stroke="#f6eaf8" stroke-width="5" fill="none" opacity="0.80"/>
<path transform="scale(.1)" d="M0 0m5106 6346h5m4 0h5m-5 24h5m37 -7h5m11 -1h5m-68 30h5m64 -11h5m5 12h5m-80 28h5m16 -11h5m1 5h5m-1 -8h5m8 8h5m0 7h5m-44 30h5m18 3h5" stroke="#8c44a4" stroke-width="5" fill="none" opacity="0.80"/>
<path transform="scale(.1)" d="M0 0m5145 6675h5m5 -5h5m-57 24h5m7 2h5m9 8h5m23 -23h5m-50 49h5m22 -16h5m1 15h5m-1 4h5m8 -6h5m-5 1h5m-1 3h5m5 -3h5m-3 -4h5m-2 0h5m-1 -5h5m-3 -12h5m11 9h5m-3 9h5m-130 32h5m-2 -18h5m0 1h5m40 -1h5m37 26h5m13 -1h5m-1 -29h5m-126 48h5m6 -2h5m13 -14h5m-1 15h5m25 -3h5m18 14h5m4 -18h5m-88 23h5m12 3h5m-4 14h5m1 -10h5m1 11h5m13 -17h5" stroke="#f8eefa" stroke-width="5" fill="none" opacity="0.80"/>
<path transform="scale(.1)" d="M0 0m5127 6674h5m22 -3h5m-52 25h5m31 -9h5m8 8h5m3 -3h5m17 -14h5m-111 53h5m24 -7h5m13 9h5m-2 -6h5m2 0h5m39 -13h5m-1 17h5m-67 14h5m10 -5h5m-1 23h5m25 -19h5m12 -7h5m-93 52h5m-5 -2h5m81 -14h5m-90 24h5m44 4h5" stroke="#8038a0" stroke-width="5" fill="none" opacity="0.80"/>
<path transform="scale(.1)" d="M0 0m5110 4992h5m25 17h5m3 10h5m1 25h5m6 -17h5m6 16h5m-71 21h5m8 -8h5m24 2h5m24 3h5" stroke="#c890d0" stroke-width="5" fill="none" opacity="0.80"/>
<path transform="scale(.1)" d="M0 0m5129 4992h5m-21 15h5m28 5h5m0 7h5m-26 9h5m1 5h5m18 21h5m-39 15h5m35 4h5m-4 1h5" stroke="#5c1c70" stroke-width="5" fill="none" opacity="0.80"/>
<path transform="scale(.1)" d="M0 0m4655 5653h5m-35 16h5m3 16h5m19 -29h5m11 8h5m-2 20h5m13 -18h5m2 -1h5m-4 14h5m-94 32h5m20 -22h5m1 24h5m64 -18h5m-118 26h5m10 13h5m8 9h5m7 -22h5m-4 15h5m52 -16h5m5 20h5m-39 13h5m12 -2h5" stroke="#f6e8f6" stroke-width="5" fill="none" opacity="0.80"/>
<path transform="scale(.1)" d="M0 0m4639 5659h5m39 17h5m-74 16h5m-5 -6h5m-1 21h5m22 3h5m17 -2h5m22 -18h5m16 12h5m-112 29h5m-1 -6h5m8 14h5m45 -19h5m27 -4h5m1 4h5m-30 28h5" stroke="#a870b8" stroke-width="5" fill="none" opacity="0.80"/>
<path transform="scale(.1)" d="M0 0m4626 4988h5m-18 19h5m5 -6h5m5 1h5m7 3h5m-36 40h5m49 0h5m17 -8h5m1 5h5m-95 23h5m3 11h5m27 4h5m9 3h5m26 -12h5" stroke="#ffffff" stroke-width="5" fill="none" opacity="0.80"/>
<path transform="scale(.1)" d="M0 0m4660 4989h5m10 -5h5m-30 30h5m10 -12h5m-53 24h5m5 34h5m60 -2h5m4 22h5" stroke="#d090c8" stroke-width="5" fill="none" opacity="0.80"/>
<path transform="scale(.1)" d="M0 0m4656 6371h5m25 3h5m-28 18h5m16 0h5m-79 13h5m0 3h5m26 4h5m-1 22h5m16 -12h5m-12 19h5m2 8h5m5 -9h5" stroke="#f8dcf0" stroke-width="5" fill="none" opacity="0.80"/>
<path transform="scale(.1)" d="M0 0m4659 6007h5m-39 28h5m34 -10h5m-36 26h5m24 2h5m1 21h5m1 -23h5m-5 28h5" stroke="#ecd0ec" stroke-width="5" fill="none" opacity="0.80"/>
</g>
</g>
</svg>
</body></html>
